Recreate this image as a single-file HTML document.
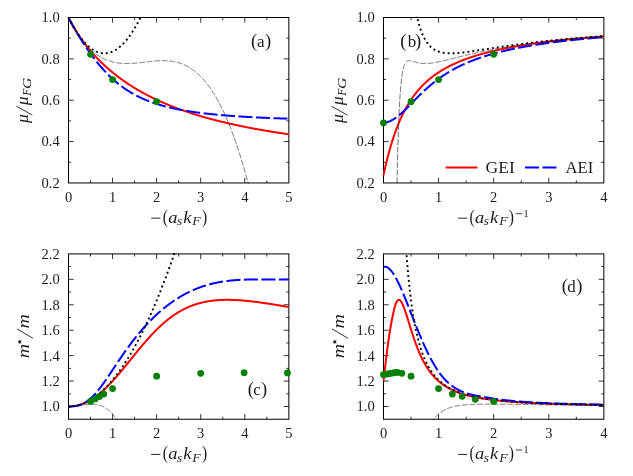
<!DOCTYPE html>
<html><head><meta charset="utf-8"><title>chart</title>
<style>html,body{margin:0;padding:0;background:#fff}svg{display:block;will-change:transform;transform:translateZ(0)}</style></head>
<body>
<svg width="633" height="476" viewBox="0 0 633 476">
<rect width="633" height="476" fill="#fff"/>
<defs>
<clipPath id="cpa"><rect x="67.50" y="16.50" width="222.35" height="167.45"/></clipPath>
<clipPath id="cpb"><rect x="382.50" y="16.50" width="222.35" height="167.45"/></clipPath>
<clipPath id="cpc"><rect x="67.50" y="252.90" width="222.35" height="167.35"/></clipPath>
<clipPath id="cpd"><rect x="382.50" y="252.90" width="222.35" height="167.35"/></clipPath>
</defs>
<rect x="68.50" y="17.50" width="220.35" height="165.45" fill="none" stroke="#000" stroke-width="1"/>
<path d="M90.53 182.95v-2.60 M90.53 17.50v2.60 M112.57 182.95v-5.20 M112.57 17.50v5.20 M134.61 182.95v-2.60 M134.61 17.50v2.60 M156.64 182.95v-5.20 M156.64 17.50v5.20 M178.68 182.95v-2.60 M178.68 17.50v2.60 M200.71 182.95v-5.20 M200.71 17.50v5.20 M222.75 182.95v-2.60 M222.75 17.50v2.60 M244.78 182.95v-5.20 M244.78 17.50v5.20 M266.82 182.95v-2.60 M266.82 17.50v2.60 M68.50 162.27h2.60 M288.85 162.27h-2.60 M68.50 141.59h5.20 M288.85 141.59h-5.20 M68.50 120.91h2.60 M288.85 120.91h-2.60 M68.50 100.22h5.20 M288.85 100.22h-5.20 M68.50 79.54h2.60 M288.85 79.54h-2.60 M68.50 58.86h5.20 M288.85 58.86h-5.20 M68.50 38.18h2.60 M288.85 38.18h-2.60" stroke="#000" stroke-width="0.8" fill="none"/>
<g clip-path="url(#cpa)" fill="none">
<path d="M68.50 17.50 L68.87 18.23 L69.24 18.95 L69.60 19.66 L69.97 20.37 L70.34 21.07 L70.71 21.76 L71.08 22.44 L71.44 23.12 L71.81 23.79 L72.18 24.45 L72.55 25.10 L72.91 25.75 L73.28 26.40 L73.65 27.03 L74.02 27.66 L74.39 28.29 L74.75 28.90 L75.12 29.52 L75.49 30.12 L75.86 30.72 L76.23 31.32 L76.59 31.91 L76.96 32.49 L77.33 33.07 L77.70 33.64 L78.06 34.21 L78.43 34.77 L78.80 35.33 L79.17 35.88 L79.54 36.43 L79.90 36.97 L80.27 37.51 L80.64 38.05 L81.01 38.58 L81.38 39.10 L81.74 39.62 L82.11 40.14 L82.48 40.65 L82.85 41.16 L83.21 41.66 L83.58 42.16 L83.95 42.65 L84.32 43.15 L84.69 43.63 L85.05 44.12 L85.42 44.60 L85.79 45.07 L86.16 45.55 L86.53 46.01 L86.89 46.48 L87.26 46.94 L87.63 47.40 L88.00 47.86 L88.36 48.31 L88.73 48.76 L89.10 49.20 L89.47 49.64 L89.84 50.08 L90.20 50.52 L90.57 50.95 L90.94 51.38 L91.31 51.81 L91.68 52.23 L92.04 52.65 L92.41 53.07 L92.78 53.48 L93.15 53.89 L93.51 54.30 L93.88 54.71 L94.25 55.11 L94.62 55.52 L94.99 55.91 L95.35 56.31 L95.72 56.70 L96.09 57.10 L96.46 57.48 L96.83 57.87 L97.19 58.25 L97.56 58.63 L97.93 59.01 L98.30 59.39 L98.66 59.76 L99.03 60.14 L99.40 60.50 L99.77 60.87 L100.14 61.24 L100.50 61.60 L100.87 61.96 L101.24 62.32 L101.61 62.68 L101.98 63.03 L102.34 63.38 L102.71 63.73 L103.08 64.08 L103.45 64.43 L103.81 64.77 L104.18 65.11 L104.55 65.45 L104.92 65.79 L105.29 66.13 L105.65 66.46 L106.02 66.79 L106.39 67.12 L106.76 67.45 L107.13 67.78 L107.49 68.10 L107.86 68.43 L108.23 68.75 L108.60 69.07 L108.96 69.39 L109.33 69.70 L109.70 70.02 L110.07 70.33 L110.44 70.64 L110.80 70.95 L111.17 71.26 L111.54 71.56 L111.91 71.87 L112.28 72.17 L112.64 72.47 L113.01 72.77 L113.38 73.07 L113.75 73.37 L114.12 73.66 L114.48 73.96 L114.85 74.25 L115.22 74.54 L115.59 74.83 L115.95 75.11 L116.32 75.40 L116.69 75.69 L117.06 75.97 L117.43 76.25 L117.79 76.53 L118.16 76.81 L118.53 77.09 L118.90 77.36 L119.27 77.64 L119.63 77.91 L120.00 78.18 L120.37 78.45 L120.74 78.72 L121.10 78.99 L121.47 79.26 L121.84 79.52 L122.21 79.79 L122.58 80.05 L122.94 80.31 L123.31 80.57 L123.68 80.83 L124.05 81.09 L124.42 81.34 L124.78 81.60 L125.15 81.85 L125.52 82.10 L125.89 82.35 L126.25 82.60 L126.62 82.85 L126.99 83.10 L127.36 83.35 L127.73 83.59 L128.09 83.84 L128.46 84.08 L128.83 84.32 L129.20 84.56 L129.57 84.80 L129.93 85.04 L130.30 85.28 L130.67 85.51 L131.04 85.75 L131.40 85.98 L131.77 86.22 L132.14 86.45 L132.51 86.68 L132.88 86.91 L133.24 87.14 L133.61 87.36 L133.98 87.59 L134.35 87.82 L134.72 88.04 L135.08 88.26 L135.45 88.49 L135.82 88.71 L136.19 88.93 L136.55 89.15 L136.92 89.36 L137.29 89.58 L137.66 89.80 L138.03 90.01 L138.39 90.23 L138.76 90.44 L139.13 90.65 L139.50 90.86 L139.87 91.07 L140.23 91.28 L140.60 91.49 L140.97 91.70 L141.34 91.91 L141.70 92.11 L142.07 92.32 L142.44 92.52 L142.81 92.72 L143.18 92.93 L143.54 93.13 L143.91 93.33 L144.28 93.53 L144.65 93.73 L145.02 93.92 L145.38 94.12 L145.75 94.32 L146.12 94.51 L146.49 94.70 L146.85 94.90 L147.22 95.09 L147.59 95.28 L147.96 95.47 L148.33 95.66 L148.69 95.85 L149.06 96.04 L149.43 96.23 L149.80 96.41 L150.17 96.60 L150.53 96.79 L150.90 96.97 L151.27 97.15 L151.64 97.34 L152.00 97.52 L152.37 97.70 L152.74 97.88 L153.11 98.06 L153.48 98.24 L153.84 98.42 L154.21 98.59 L154.58 98.77 L154.95 98.95 L155.32 99.12 L155.68 99.30 L156.05 99.47 L156.42 99.64 L156.79 99.81 L157.16 99.99 L157.52 100.16 L157.89 100.33 L158.26 100.49 L158.63 100.66 L158.99 100.83 L159.36 101.00 L159.73 101.16 L160.10 101.33 L160.47 101.50 L160.83 101.66 L161.20 101.82 L161.57 101.99 L161.94 102.15 L162.31 102.31 L162.67 102.47 L163.04 102.63 L163.41 102.79 L163.78 102.95 L164.14 103.11 L164.51 103.27 L164.88 103.42 L165.25 103.58 L165.62 103.74 L165.98 103.89 L166.35 104.05 L166.72 104.20 L167.09 104.35 L167.46 104.51 L167.82 104.66 L168.19 104.81 L168.56 104.96 L168.93 105.11 L169.29 105.26 L169.66 105.41 L170.03 105.56 L170.40 105.71 L170.77 105.85 L171.13 106.00 L171.50 106.15 L171.87 106.29 L172.24 106.44 L172.61 106.58 L172.97 106.72 L173.34 106.87 L173.71 107.01 L174.08 107.15 L174.44 107.29 L174.81 107.44 L175.18 107.58 L175.55 107.72 L175.92 107.86 L176.28 107.99 L176.65 108.13 L177.02 108.27 L177.39 108.41 L177.76 108.54 L178.12 108.68 L178.49 108.82 L178.86 108.95 L179.23 109.09 L179.59 109.22 L179.96 109.35 L180.33 109.49 L180.70 109.62 L181.07 109.75 L181.43 109.88 L181.80 110.01 L182.17 110.14 L182.54 110.27 L182.91 110.40 L183.27 110.53 L183.64 110.66 L184.01 110.79 L184.38 110.92 L184.74 111.04 L185.11 111.17 L185.48 111.30 L185.85 111.42 L186.22 111.55 L186.58 111.67 L186.95 111.80 L187.32 111.92 L187.69 112.04 L188.06 112.17 L188.42 112.29 L188.79 112.41 L189.16 112.53 L189.53 112.65 L189.89 112.77 L190.26 112.89 L190.63 113.01 L191.00 113.13 L191.37 113.25 L191.73 113.37 L192.10 113.49 L192.47 113.61 L192.84 113.72 L193.21 113.84 L193.57 113.96 L193.94 114.07 L194.31 114.19 L194.68 114.30 L195.04 114.42 L195.41 114.53 L195.78 114.65 L196.15 114.76 L196.52 114.87 L196.88 114.99 L197.25 115.10 L197.62 115.21 L197.99 115.32 L198.36 115.43 L198.72 115.54 L199.09 115.65 L199.46 115.76 L199.83 115.87 L200.19 115.98 L200.56 116.09 L200.93 116.20 L201.30 116.31 L201.67 116.41 L202.03 116.52 L202.40 116.63 L202.77 116.73 L203.14 116.84 L203.51 116.95 L203.87 117.05 L204.24 117.16 L204.61 117.26 L204.98 117.36 L205.35 117.47 L205.71 117.57 L206.08 117.67 L206.45 117.78 L206.82 117.88 L207.18 117.98 L207.55 118.08 L207.92 118.19 L208.29 118.29 L208.66 118.39 L209.02 118.49 L209.39 118.59 L209.76 118.69 L210.13 118.79 L210.50 118.88 L210.86 118.98 L211.23 119.08 L211.60 119.18 L211.97 119.28 L212.33 119.37 L212.70 119.47 L213.07 119.57 L213.44 119.66 L213.81 119.76 L214.17 119.86 L214.54 119.95 L214.91 120.05 L215.28 120.14 L215.65 120.24 L216.01 120.33 L216.38 120.42 L216.75 120.52 L217.12 120.61 L217.48 120.70 L217.85 120.80 L218.22 120.89 L218.59 120.98 L218.96 121.07 L219.32 121.16 L219.69 121.25 L220.06 121.35 L220.43 121.44 L220.80 121.53 L221.16 121.62 L221.53 121.71 L221.90 121.79 L222.27 121.88 L222.63 121.97 L223.00 122.06 L223.37 122.15 L223.74 122.24 L224.11 122.32 L224.47 122.41 L224.84 122.50 L225.21 122.59 L225.58 122.67 L225.95 122.76 L226.31 122.84 L226.68 122.93 L227.05 123.02 L227.42 123.10 L227.78 123.18 L228.15 123.27 L228.52 123.35 L228.89 123.44 L229.26 123.52 L229.62 123.61 L229.99 123.69 L230.36 123.77 L230.73 123.85 L231.10 123.94 L231.46 124.02 L231.83 124.10 L232.20 124.18 L232.57 124.26 L232.93 124.34 L233.30 124.43 L233.67 124.51 L234.04 124.59 L234.41 124.67 L234.77 124.75 L235.14 124.83 L235.51 124.91 L235.88 124.99 L236.25 125.06 L236.61 125.14 L236.98 125.22 L237.35 125.30 L237.72 125.38 L238.08 125.46 L238.45 125.53 L238.82 125.61 L239.19 125.69 L239.56 125.76 L239.92 125.84 L240.29 125.92 L240.66 125.99 L241.03 126.07 L241.40 126.14 L241.76 126.22 L242.13 126.30 L242.50 126.37 L242.87 126.45 L243.23 126.52 L243.60 126.59 L243.97 126.67 L244.34 126.74 L244.71 126.82 L245.07 126.89 L245.44 126.96 L245.81 127.04 L246.18 127.11 L246.55 127.18 L246.91 127.25 L247.28 127.33 L247.65 127.40 L248.02 127.47 L248.39 127.54 L248.75 127.61 L249.12 127.68 L249.49 127.75 L249.86 127.82 L250.22 127.89 L250.59 127.97 L250.96 128.04 L251.33 128.11 L251.70 128.17 L252.06 128.24 L252.43 128.31 L252.80 128.38 L253.17 128.45 L253.54 128.52 L253.90 128.59 L254.27 128.66 L254.64 128.72 L255.01 128.79 L255.37 128.86 L255.74 128.93 L256.11 129.00 L256.48 129.06 L256.85 129.13 L257.21 129.20 L257.58 129.26 L257.95 129.33 L258.32 129.39 L258.69 129.46 L259.05 129.53 L259.42 129.59 L259.79 129.66 L260.16 129.72 L260.52 129.79 L260.89 129.85 L261.26 129.92 L261.63 129.98 L262.00 130.05 L262.36 130.11 L262.73 130.17 L263.10 130.24 L263.47 130.30 L263.84 130.37 L264.20 130.43 L264.57 130.49 L264.94 130.55 L265.31 130.62 L265.67 130.68 L266.04 130.74 L266.41 130.80 L266.78 130.87 L267.15 130.93 L267.51 130.99 L267.88 131.05 L268.25 131.11 L268.62 131.17 L268.99 131.24 L269.35 131.30 L269.72 131.36 L270.09 131.42 L270.46 131.48 L270.82 131.54 L271.19 131.60 L271.56 131.66 L271.93 131.72 L272.30 131.78 L272.66 131.84 L273.03 131.90 L273.40 131.95 L273.77 132.01 L274.14 132.07 L274.50 132.13 L274.87 132.19 L275.24 132.25 L275.61 132.31 L275.97 132.36 L276.34 132.42 L276.71 132.48 L277.08 132.54 L277.45 132.59 L277.81 132.65 L278.18 132.71 L278.55 132.77 L278.92 132.82 L279.29 132.88 L279.65 132.94 L280.02 132.99 L280.39 133.05 L280.76 133.10 L281.12 133.16 L281.49 133.22 L281.86 133.27 L282.23 133.33 L282.60 133.38 L282.96 133.44 L283.33 133.49 L283.70 133.55 L284.07 133.60 L284.44 133.66 L284.80 133.71 L285.17 133.77 L285.54 133.82 L285.91 133.87 L286.27 133.93 L286.64 133.98 L287.01 134.03 L287.38 134.09 L287.75 134.14 L288.11 134.19 L288.48 134.25 L288.85 134.30" stroke="#ff0000" stroke-width="2"/>
<path d="M68.50 17.50 L68.87 18.23 L69.24 18.95 L69.60 19.67 L69.97 20.38 L70.34 21.08 L70.71 21.78 L71.08 22.47 L71.44 23.16 L71.81 23.84 L72.18 24.51 L72.55 25.18 L72.91 25.85 L73.28 26.51 L73.65 27.17 L74.02 27.82 L74.39 28.47 L74.75 29.11 L75.12 29.75 L75.49 30.39 L75.86 31.02 L76.23 31.65 L76.59 32.27 L76.96 32.89 L77.33 33.51 L77.70 34.12 L78.06 34.73 L78.43 35.34 L78.80 35.94 L79.17 36.54 L79.54 37.14 L79.90 37.73 L80.27 38.32 L80.64 38.91 L81.01 39.49 L81.38 40.08 L81.74 40.65 L82.11 41.23 L82.48 41.80 L82.85 42.37 L83.21 42.94 L83.58 43.50 L83.95 44.06 L84.32 44.62 L84.69 45.17 L85.05 45.72 L85.42 46.27 L85.79 46.82 L86.16 47.36 L86.53 47.90 L86.89 48.44 L87.26 48.98 L87.63 49.51 L88.00 50.04 L88.36 50.56 L88.73 51.09 L89.10 51.61 L89.47 52.13 L89.84 52.64 L90.20 53.15 L90.57 53.66 L90.94 54.17 L91.31 54.67 L91.68 55.17 L92.04 55.67 L92.41 56.17 L92.78 56.66 L93.15 57.15 L93.51 57.64 L93.88 58.12 L94.25 58.60 L94.62 59.08 L94.99 59.55 L95.35 60.02 L95.72 60.49 L96.09 60.96 L96.46 61.42 L96.83 61.88 L97.19 62.34 L97.56 62.80 L97.93 63.25 L98.30 63.70 L98.66 64.14 L99.03 64.58 L99.40 65.02 L99.77 65.46 L100.14 65.90 L100.50 66.33 L100.87 66.75 L101.24 67.18 L101.61 67.60 L101.98 68.02 L102.34 68.44 L102.71 68.85 L103.08 69.26 L103.45 69.67 L103.81 70.07 L104.18 70.48 L104.55 70.87 L104.92 71.27 L105.29 71.66 L105.65 72.05 L106.02 72.44 L106.39 72.82 L106.76 73.21 L107.13 73.58 L107.49 73.96 L107.86 74.33 L108.23 74.70 L108.60 75.07 L108.96 75.43 L109.33 75.80 L109.70 76.15 L110.07 76.51 L110.44 76.86 L110.80 77.21 L111.17 77.56 L111.54 77.91 L111.91 78.25 L112.28 78.59 L112.64 78.92 L113.01 79.26 L113.38 79.59 L113.75 79.92 L114.12 80.24 L114.48 80.56 L114.85 80.89 L115.22 81.20 L115.59 81.52 L115.95 81.83 L116.32 82.14 L116.69 82.45 L117.06 82.75 L117.43 83.05 L117.79 83.35 L118.16 83.65 L118.53 83.95 L118.90 84.24 L119.27 84.53 L119.63 84.81 L120.00 85.10 L120.37 85.38 L120.74 85.66 L121.10 85.94 L121.47 86.21 L121.84 86.49 L122.21 86.76 L122.58 87.02 L122.94 87.29 L123.31 87.55 L123.68 87.81 L124.05 88.07 L124.42 88.33 L124.78 88.58 L125.15 88.84 L125.52 89.09 L125.89 89.33 L126.25 89.58 L126.62 89.82 L126.99 90.06 L127.36 90.30 L127.73 90.54 L128.09 90.77 L128.46 91.01 L128.83 91.24 L129.20 91.47 L129.57 91.69 L129.93 91.92 L130.30 92.14 L130.67 92.36 L131.04 92.58 L131.40 92.80 L131.77 93.01 L132.14 93.23 L132.51 93.44 L132.88 93.65 L133.24 93.85 L133.61 94.06 L133.98 94.26 L134.35 94.47 L134.72 94.67 L135.08 94.86 L135.45 95.06 L135.82 95.26 L136.19 95.45 L136.55 95.64 L136.92 95.83 L137.29 96.02 L137.66 96.20 L138.03 96.39 L138.39 96.57 L138.76 96.75 L139.13 96.93 L139.50 97.11 L139.87 97.29 L140.23 97.46 L140.60 97.64 L140.97 97.81 L141.34 97.98 L141.70 98.15 L142.07 98.32 L142.44 98.48 L142.81 98.65 L143.18 98.81 L143.54 98.97 L143.91 99.13 L144.28 99.29 L144.65 99.45 L145.02 99.60 L145.38 99.76 L145.75 99.91 L146.12 100.06 L146.49 100.21 L146.85 100.36 L147.22 100.51 L147.59 100.66 L147.96 100.80 L148.33 100.95 L148.69 101.09 L149.06 101.23 L149.43 101.37 L149.80 101.51 L150.17 101.65 L150.53 101.78 L150.90 101.92 L151.27 102.05 L151.64 102.19 L152.00 102.32 L152.37 102.45 L152.74 102.58 L153.11 102.71 L153.48 102.84 L153.84 102.96 L154.21 103.09 L154.58 103.21 L154.95 103.34 L155.32 103.46 L155.68 103.58 L156.05 103.70 L156.42 103.82 L156.79 103.94 L157.16 104.05 L157.52 104.17 L157.89 104.28 L158.26 104.40 L158.63 104.51 L158.99 104.62 L159.36 104.74 L159.73 104.85 L160.10 104.95 L160.47 105.06 L160.83 105.17 L161.20 105.28 L161.57 105.38 L161.94 105.49 L162.31 105.59 L162.67 105.69 L163.04 105.80 L163.41 105.90 L163.78 106.00 L164.14 106.10 L164.51 106.20 L164.88 106.30 L165.25 106.39 L165.62 106.49 L165.98 106.58 L166.35 106.68 L166.72 106.77 L167.09 106.87 L167.46 106.96 L167.82 107.05 L168.19 107.14 L168.56 107.23 L168.93 107.32 L169.29 107.41 L169.66 107.50 L170.03 107.59 L170.40 107.67 L170.77 107.76 L171.13 107.84 L171.50 107.93 L171.87 108.01 L172.24 108.10 L172.61 108.18 L172.97 108.26 L173.34 108.34 L173.71 108.42 L174.08 108.50 L174.44 108.58 L174.81 108.66 L175.18 108.74 L175.55 108.82 L175.92 108.89 L176.28 108.97 L176.65 109.04 L177.02 109.12 L177.39 109.19 L177.76 109.27 L178.12 109.34 L178.49 109.41 L178.86 109.49 L179.23 109.56 L179.59 109.63 L179.96 109.70 L180.33 109.77 L180.70 109.84 L181.07 109.91 L181.43 109.98 L181.80 110.04 L182.17 110.11 L182.54 110.18 L182.91 110.24 L183.27 110.31 L183.64 110.37 L184.01 110.44 L184.38 110.50 L184.74 110.57 L185.11 110.63 L185.48 110.69 L185.85 110.76 L186.22 110.82 L186.58 110.88 L186.95 110.94 L187.32 111.00 L187.69 111.06 L188.06 111.12 L188.42 111.18 L188.79 111.24 L189.16 111.30 L189.53 111.35 L189.89 111.41 L190.26 111.47 L190.63 111.53 L191.00 111.58 L191.37 111.64 L191.73 111.69 L192.10 111.75 L192.47 111.80 L192.84 111.86 L193.21 111.91 L193.57 111.96 L193.94 112.02 L194.31 112.07 L194.68 112.12 L195.04 112.17 L195.41 112.22 L195.78 112.28 L196.15 112.33 L196.52 112.38 L196.88 112.43 L197.25 112.48 L197.62 112.53 L197.99 112.57 L198.36 112.62 L198.72 112.67 L199.09 112.72 L199.46 112.77 L199.83 112.81 L200.19 112.86 L200.56 112.91 L200.93 112.95 L201.30 113.00 L201.67 113.05 L202.03 113.09 L202.40 113.14 L202.77 113.18 L203.14 113.22 L203.51 113.27 L203.87 113.31 L204.24 113.36 L204.61 113.40 L204.98 113.44 L205.35 113.48 L205.71 113.53 L206.08 113.57 L206.45 113.61 L206.82 113.65 L207.18 113.69 L207.55 113.73 L207.92 113.77 L208.29 113.81 L208.66 113.85 L209.02 113.89 L209.39 113.93 L209.76 113.97 L210.13 114.01 L210.50 114.05 L210.86 114.09 L211.23 114.13 L211.60 114.17 L211.97 114.20 L212.33 114.24 L212.70 114.28 L213.07 114.31 L213.44 114.35 L213.81 114.39 L214.17 114.42 L214.54 114.46 L214.91 114.50 L215.28 114.53 L215.65 114.57 L216.01 114.60 L216.38 114.64 L216.75 114.67 L217.12 114.71 L217.48 114.74 L217.85 114.77 L218.22 114.81 L218.59 114.84 L218.96 114.87 L219.32 114.91 L219.69 114.94 L220.06 114.97 L220.43 115.00 L220.80 115.04 L221.16 115.07 L221.53 115.10 L221.90 115.13 L222.27 115.16 L222.63 115.20 L223.00 115.23 L223.37 115.26 L223.74 115.29 L224.11 115.32 L224.47 115.35 L224.84 115.38 L225.21 115.41 L225.58 115.44 L225.95 115.47 L226.31 115.50 L226.68 115.53 L227.05 115.56 L227.42 115.58 L227.78 115.61 L228.15 115.64 L228.52 115.67 L228.89 115.70 L229.26 115.73 L229.62 115.75 L229.99 115.78 L230.36 115.81 L230.73 115.84 L231.10 115.86 L231.46 115.89 L231.83 115.92 L232.20 115.94 L232.57 115.97 L232.93 116.00 L233.30 116.02 L233.67 116.05 L234.04 116.07 L234.41 116.10 L234.77 116.12 L235.14 116.15 L235.51 116.18 L235.88 116.20 L236.25 116.23 L236.61 116.25 L236.98 116.27 L237.35 116.30 L237.72 116.32 L238.08 116.35 L238.45 116.37 L238.82 116.40 L239.19 116.42 L239.56 116.44 L239.92 116.47 L240.29 116.49 L240.66 116.51 L241.03 116.54 L241.40 116.56 L241.76 116.58 L242.13 116.61 L242.50 116.63 L242.87 116.65 L243.23 116.67 L243.60 116.69 L243.97 116.72 L244.34 116.74 L244.71 116.76 L245.07 116.78 L245.44 116.80 L245.81 116.83 L246.18 116.85 L246.55 116.87 L246.91 116.89 L247.28 116.91 L247.65 116.93 L248.02 116.95 L248.39 116.97 L248.75 116.99 L249.12 117.01 L249.49 117.03 L249.86 117.05 L250.22 117.07 L250.59 117.09 L250.96 117.11 L251.33 117.13 L251.70 117.15 L252.06 117.17 L252.43 117.19 L252.80 117.21 L253.17 117.23 L253.54 117.25 L253.90 117.27 L254.27 117.29 L254.64 117.31 L255.01 117.33 L255.37 117.34 L255.74 117.36 L256.11 117.38 L256.48 117.40 L256.85 117.42 L257.21 117.44 L257.58 117.45 L257.95 117.47 L258.32 117.49 L258.69 117.51 L259.05 117.52 L259.42 117.54 L259.79 117.56 L260.16 117.58 L260.52 117.59 L260.89 117.61 L261.26 117.63 L261.63 117.65 L262.00 117.66 L262.36 117.68 L262.73 117.70 L263.10 117.71 L263.47 117.73 L263.84 117.75 L264.20 117.76 L264.57 117.78 L264.94 117.79 L265.31 117.81 L265.67 117.83 L266.04 117.84 L266.41 117.86 L266.78 117.87 L267.15 117.89 L267.51 117.91 L267.88 117.92 L268.25 117.94 L268.62 117.95 L268.99 117.97 L269.35 117.98 L269.72 118.00 L270.09 118.01 L270.46 118.03 L270.82 118.04 L271.19 118.06 L271.56 118.07 L271.93 118.09 L272.30 118.10 L272.66 118.12 L273.03 118.13 L273.40 118.15 L273.77 118.16 L274.14 118.17 L274.50 118.19 L274.87 118.20 L275.24 118.22 L275.61 118.23 L275.97 118.24 L276.34 118.26 L276.71 118.27 L277.08 118.29 L277.45 118.30 L277.81 118.31 L278.18 118.33 L278.55 118.34 L278.92 118.35 L279.29 118.37 L279.65 118.38 L280.02 118.39 L280.39 118.41 L280.76 118.42 L281.12 118.43 L281.49 118.45 L281.86 118.46 L282.23 118.47 L282.60 118.48 L282.96 118.50 L283.33 118.51 L283.70 118.52 L284.07 118.54 L284.44 118.55 L284.80 118.56 L285.17 118.57 L285.54 118.58 L285.91 118.60 L286.27 118.61 L286.64 118.62 L287.01 118.63 L287.38 118.65 L287.75 118.66 L288.11 118.67 L288.48 118.68 L288.85 118.69" stroke="#0000ff" stroke-width="2" stroke-dasharray="14 3.5"/>
<path d="M68.50 17.50 L68.87 18.23 L69.24 18.95 L69.60 19.66 L69.97 20.37 L70.34 21.07 L70.71 21.76 L71.08 22.45 L71.44 23.12 L71.81 23.79 L72.18 24.45 L72.55 25.11 L72.91 25.75 L73.28 26.39 L73.65 27.02 L74.02 27.65 L74.39 28.26 L74.75 28.87 L75.12 29.48 L75.49 30.07 L75.86 30.66 L76.23 31.24 L76.59 31.81 L76.96 32.37 L77.33 32.93 L77.70 33.48 L78.06 34.02 L78.43 34.55 L78.80 35.08 L79.17 35.60 L79.54 36.11 L79.90 36.62 L80.27 37.11 L80.64 37.60 L81.01 38.08 L81.38 38.56 L81.74 39.03 L82.11 39.48 L82.48 39.94 L82.85 40.38 L83.21 40.82 L83.58 41.25 L83.95 41.67 L84.32 42.08 L84.69 42.49 L85.05 42.89 L85.42 43.28 L85.79 43.67 L86.16 44.04 L86.53 44.41 L86.89 44.78 L87.26 45.13 L87.63 45.48 L88.00 45.82 L88.36 46.15 L88.73 46.47 L89.10 46.79 L89.47 47.10 L89.84 47.40 L90.20 47.70 L90.57 47.99 L90.94 48.26 L91.31 48.54 L91.68 48.80 L92.04 49.06 L92.41 49.31 L92.78 49.55 L93.15 49.79 L93.51 50.01 L93.88 50.23 L94.25 50.45 L94.62 50.65 L94.99 50.85 L95.35 51.04 L95.72 51.22 L96.09 51.40 L96.46 51.56 L96.83 51.72 L97.19 51.88 L97.56 52.02 L97.93 52.16 L98.30 52.29 L98.66 52.41 L99.03 52.53 L99.40 52.63 L99.77 52.73 L100.14 52.83 L100.50 52.91 L100.87 52.99 L101.24 53.06 L101.61 53.12 L101.98 53.18 L102.34 53.22 L102.71 53.26 L103.08 53.30 L103.45 53.32 L103.81 53.34 L104.18 53.35 L104.55 53.35 L104.92 53.35 L105.29 53.34 L105.65 53.32 L106.02 53.29 L106.39 53.26 L106.76 53.21 L107.13 53.16 L107.49 53.11 L107.86 53.04 L108.23 52.97 L108.60 52.89 L108.96 52.80 L109.33 52.71 L109.70 52.61 L110.07 52.50 L110.44 52.38 L110.80 52.26 L111.17 52.12 L111.54 51.98 L111.91 51.84 L112.28 51.68 L112.64 51.52 L113.01 51.35 L113.38 51.17 L113.75 50.99 L114.12 50.80 L114.48 50.60 L114.85 50.39 L115.22 50.18 L115.59 49.96 L115.95 49.73 L116.32 49.49 L116.69 49.25 L117.06 48.99 L117.43 48.73 L117.79 48.47 L118.16 48.19 L118.53 47.91 L118.90 47.62 L119.27 47.33 L119.63 47.02 L120.00 46.71 L120.37 46.39 L120.74 46.06 L121.10 45.73 L121.47 45.39 L121.84 45.04 L122.21 44.68 L122.58 44.32 L122.94 43.95 L123.31 43.57 L123.68 43.18 L124.05 42.79 L124.42 42.39 L124.78 41.98 L125.15 41.56 L125.52 41.14 L125.89 40.71 L126.25 40.27 L126.62 39.82 L126.99 39.37 L127.36 38.91 L127.73 38.44 L128.09 37.96 L128.46 37.48 L128.83 36.99 L129.20 36.49 L129.57 35.98 L129.93 35.47 L130.30 34.95 L130.67 34.42 L131.04 33.88 L131.40 33.34 L131.77 32.79 L132.14 32.23 L132.51 31.66 L132.88 31.09 L133.24 30.51 L133.61 29.92 L133.98 29.32 L134.35 28.72 L134.72 28.11 L135.08 27.49 L135.45 26.86 L135.82 26.23 L136.19 25.59 L136.55 24.94 L136.92 24.28 L137.29 23.62 L137.66 22.95 L138.03 22.27 L138.39 21.58 L138.76 20.89 L139.13 20.19 L139.50 19.48 L139.87 18.77 L140.23 18.04 L140.60 17.31 L140.97 16.57 L141.34 15.83 L141.70 15.07 L142.07 14.31 L142.44 13.55 L142.81 12.77 L143.18 11.99 L143.54 11.20 L143.91 10.40 L144.28 9.59 L144.65 8.78 L145.02 7.96 L145.38 7.13 L145.75 6.29 L146.12 5.45 L146.49 4.60 L146.85 3.74 L147.22 2.88 L147.59 2.00 L147.96 1.12 L148.33 0.23 L148.69 -0.66 L149.06 -1.56 L149.43 -2.47 L149.80 -3.39 L150.17 -4.32 L150.53 -5.25 L150.90 -6.19 L151.27 -7.14 L151.64 -8.09 L152.00 -9.06 L152.37 -10.03 L152.74 -11.01 L153.11 -11.99 L153.48 -12.98 L153.84 -13.98 L154.21 -14.99 L154.58 -16.01 L154.95 -17.03 L155.32 -18.06 L155.68 -19.10 L156.05 -20.14 L156.42 -21.20 L156.79 -22.26 L157.16 -23.32 L157.52 -24.40 L157.89 -25.48 L158.26 -26.57 L158.63 -27.67 L158.99 -28.78 L159.36 -29.89 L159.73 -31.01" stroke="#000" stroke-width="1.9" stroke-dasharray="1.9 3.05"/>
<path d="M68.50 17.50 L68.78 18.05 L69.05 18.59 L69.33 19.13 L69.60 19.66 L69.88 20.19 L70.15 20.72 L70.43 21.24 L70.71 21.76 L70.98 22.27 L71.26 22.78 L71.53 23.29 L71.81 23.79 L72.09 24.29 L72.36 24.78 L72.64 25.27 L72.91 25.76 L73.19 26.24 L73.46 26.72 L73.74 27.19 L74.02 27.66 L74.29 28.13 L74.57 28.59 L74.84 29.05 L75.12 29.51 L75.39 29.96 L75.67 30.40 L75.95 30.85 L76.22 31.29 L76.50 31.72 L76.77 32.15 L77.05 32.58 L77.33 33.01 L77.60 33.43 L77.88 33.84 L78.15 34.26 L78.43 34.67 L78.70 35.07 L78.98 35.47 L79.26 35.87 L79.53 36.27 L79.81 36.66 L80.08 37.05 L80.36 37.43 L80.63 37.81 L80.91 38.19 L81.19 38.56 L81.46 38.93 L81.74 39.30 L82.01 39.66 L82.29 40.02 L82.56 40.38 L82.84 40.73 L83.12 41.08 L83.39 41.43 L83.67 41.77 L83.94 42.11 L84.22 42.44 L84.50 42.78 L84.77 43.10 L85.05 43.43 L85.32 43.75 L85.60 44.07 L85.87 44.39 L86.15 44.70 L86.43 45.01 L86.70 45.32 L86.98 45.62 L87.25 45.92 L87.53 46.22 L87.80 46.51 L88.08 46.80 L88.36 47.09 L88.63 47.37 L88.91 47.65 L89.18 47.93 L89.46 48.21 L89.74 48.48 L90.01 48.75 L90.29 49.01 L90.56 49.28 L90.84 49.54 L91.11 49.79 L91.39 50.05 L91.67 50.30 L91.94 50.55 L92.22 50.79 L92.49 51.03 L92.77 51.27 L93.04 51.51 L93.32 51.74 L93.60 51.97 L93.87 52.20 L94.15 52.43 L94.42 52.65 L94.70 52.87 L94.98 53.08 L95.25 53.30 L95.53 53.51 L95.80 53.72 L96.08 53.92 L96.35 54.13 L96.63 54.33 L96.91 54.53 L97.18 54.72 L97.46 54.91 L97.73 55.10 L98.01 55.29 L98.28 55.48 L98.56 55.66 L98.84 55.84 L99.11 56.02 L99.39 56.19 L99.66 56.36 L99.94 56.53 L100.21 56.70 L100.49 56.86 L100.77 57.03 L101.04 57.19 L101.32 57.34 L101.59 57.50 L101.87 57.65 L102.15 57.80 L102.42 57.95 L102.70 58.09 L102.97 58.24 L103.25 58.38 L103.52 58.52 L103.80 58.65 L104.08 58.79 L104.35 58.92 L104.63 59.05 L104.90 59.18 L105.18 59.30 L105.45 59.43 L105.73 59.55 L106.01 59.67 L106.28 59.78 L106.56 59.90 L106.83 60.01 L107.11 60.12 L107.39 60.23 L107.66 60.33 L107.94 60.44 L108.21 60.54 L108.49 60.64 L108.76 60.74 L109.04 60.83 L109.32 60.93 L109.59 61.02 L109.87 61.11 L110.14 61.20 L110.42 61.28 L110.69 61.37 L110.97 61.45 L111.25 61.53 L111.52 61.61 L111.80 61.69 L112.07 61.76 L112.35 61.84 L112.63 61.91 L112.90 61.98 L113.18 62.05 L113.45 62.11 L113.73 62.18 L114.00 62.24 L114.28 62.30 L114.56 62.36 L114.83 62.42 L115.11 62.47 L115.38 62.53 L115.66 62.58 L115.93 62.63 L116.21 62.68 L116.49 62.73 L116.76 62.78 L117.04 62.82 L117.31 62.87 L117.59 62.91 L117.87 62.95 L118.14 62.99 L118.42 63.03 L118.69 63.06 L118.97 63.10 L119.24 63.13 L119.52 63.16 L119.80 63.19 L120.07 63.22 L120.35 63.25 L120.62 63.27 L120.90 63.30 L121.17 63.32 L121.45 63.35 L121.73 63.37 L122.00 63.39 L122.28 63.41 L122.55 63.42 L122.83 63.44 L123.10 63.45 L123.38 63.47 L123.66 63.48 L123.93 63.49 L124.21 63.50 L124.48 63.51 L124.76 63.52 L125.04 63.52 L125.31 63.53 L125.59 63.53 L125.86 63.54 L126.14 63.54 L126.41 63.54 L126.69 63.54 L126.97 63.54 L127.24 63.54 L127.52 63.54 L127.79 63.53 L128.07 63.53 L128.34 63.53 L128.62 63.52 L128.90 63.51 L129.17 63.50 L129.45 63.50 L129.72 63.49 L130.00 63.48 L130.28 63.46 L130.55 63.45 L130.83 63.44 L131.10 63.42 L131.38 63.41 L131.65 63.40 L131.93 63.38 L132.21 63.36 L132.48 63.35 L132.76 63.33 L133.03 63.31 L133.31 63.29 L133.58 63.27 L133.86 63.25 L134.14 63.23 L134.41 63.21 L134.69 63.18 L134.96 63.16 L135.24 63.14 L135.52 63.11 L135.79 63.09 L136.07 63.06 L136.34 63.04 L136.62 63.01 L136.89 62.99 L137.17 62.96 L137.45 62.93 L137.72 62.90 L138.00 62.88 L138.27 62.85 L138.55 62.82 L138.82 62.79 L139.10 62.76 L139.38 62.73 L139.65 62.70 L139.93 62.67 L140.20 62.64 L140.48 62.61 L140.75 62.58 L141.03 62.55 L141.31 62.52 L141.58 62.48 L141.86 62.45 L142.13 62.42 L142.41 62.39 L142.69 62.36 L142.96 62.32 L143.24 62.29 L143.51 62.26 L143.79 62.22 L144.06 62.19 L144.34 62.16 L144.62 62.13 L144.89 62.09 L145.17 62.06 L145.44 62.03 L145.72 61.99 L145.99 61.96 L146.27 61.93 L146.55 61.90 L146.82 61.86 L147.10 61.83 L147.37 61.80 L147.65 61.77 L147.93 61.74 L148.20 61.70 L148.48 61.67 L148.75 61.64 L149.03 61.61 L149.30 61.58 L149.58 61.55 L149.86 61.52 L150.13 61.49 L150.41 61.46 L150.68 61.43 L150.96 61.40 L151.23 61.37 L151.51 61.34 L151.79 61.31 L152.06 61.29 L152.34 61.26 L152.61 61.23 L152.89 61.20 L153.17 61.18 L153.44 61.15 L153.72 61.13 L153.99 61.10 L154.27 61.08 L154.54 61.05 L154.82 61.03 L155.10 61.01 L155.37 60.99 L155.65 60.97 L155.92 60.94 L156.20 60.92 L156.47 60.90 L156.75 60.89 L157.03 60.87 L157.30 60.85 L157.58 60.83 L157.85 60.82 L158.13 60.80 L158.41 60.79 L158.68 60.77 L158.96 60.76 L159.23 60.75 L159.51 60.74 L159.78 60.72 L160.06 60.71 L160.34 60.71 L160.61 60.70 L160.89 60.69 L161.16 60.68 L161.44 60.68 L161.71 60.67 L161.99 60.67 L162.27 60.67 L162.54 60.66 L162.82 60.66 L163.09 60.66 L163.37 60.66 L163.64 60.67 L163.92 60.67 L164.20 60.67 L164.47 60.68 L164.75 60.68 L165.02 60.69 L165.30 60.70 L165.58 60.71 L165.85 60.72 L166.13 60.73 L166.40 60.75 L166.68 60.76 L166.95 60.78 L167.23 60.79 L167.51 60.81 L167.78 60.83 L168.06 60.85 L168.33 60.87 L168.61 60.90 L168.88 60.92 L169.16 60.95 L169.44 60.97 L169.71 61.00 L169.99 61.03 L170.26 61.06 L170.54 61.09 L170.82 61.13 L171.09 61.16 L171.37 61.20 L171.64 61.24 L171.92 61.28 L172.19 61.32 L172.47 61.36 L172.75 61.41 L173.02 61.45 L173.30 61.50 L173.57 61.55 L173.85 61.60 L174.12 61.65 L174.40 61.71 L174.68 61.76 L174.95 61.82 L175.23 61.88 L175.50 61.94 L175.78 62.00 L176.06 62.06 L176.33 62.13 L176.61 62.20 L176.88 62.27 L177.16 62.34 L177.43 62.41 L177.71 62.48 L177.99 62.56 L178.26 62.64 L178.54 62.72 L178.81 62.80 L179.09 62.88 L179.36 62.97 L179.64 63.06 L179.92 63.15 L180.19 63.24 L180.47 63.33 L180.74 63.42 L181.02 63.52 L181.29 63.62 L181.57 63.72 L181.85 63.83 L182.12 63.93 L182.40 64.04 L182.67 64.15 L182.95 64.26 L183.23 64.37 L183.50 64.49 L183.78 64.61 L184.05 64.73 L184.33 64.85 L184.60 64.97 L184.88 65.10 L185.16 65.23 L185.43 65.36 L185.71 65.49 L185.98 65.63 L186.26 65.76 L186.53 65.90 L186.81 66.05 L187.09 66.19 L187.36 66.34 L187.64 66.49 L187.91 66.64 L188.19 66.79 L188.47 66.95 L188.74 67.11 L189.02 67.27 L189.29 67.43 L189.57 67.60 L189.84 67.77 L190.12 67.94 L190.40 68.11 L190.67 68.29 L190.95 68.47 L191.22 68.65 L191.50 68.83 L191.77 69.02 L192.05 69.21 L192.33 69.40 L192.60 69.59 L192.88 69.79 L193.15 69.99 L193.43 70.19 L193.71 70.40 L193.98 70.60 L194.26 70.81 L194.53 71.03 L194.81 71.24 L195.08 71.46 L195.36 71.68 L195.64 71.91 L195.91 72.13 L196.19 72.36 L196.46 72.59 L196.74 72.83 L197.01 73.07 L197.29 73.31 L197.57 73.55 L197.84 73.80 L198.12 74.05 L198.39 74.30 L198.67 74.56 L198.94 74.81 L199.22 75.08 L199.50 75.34 L199.77 75.61 L200.05 75.88 L200.32 76.15 L200.60 76.43 L200.88 76.71 L201.15 76.99 L201.43 77.28 L201.70 77.57 L201.98 77.86 L202.25 78.15 L202.53 78.45 L202.81 78.75 L203.08 79.06 L203.36 79.37 L203.63 79.68 L203.91 79.99 L204.18 80.31 L204.46 80.63 L204.74 80.96 L205.01 81.28 L205.29 81.62 L205.56 81.95 L205.84 82.29 L206.12 82.63 L206.39 82.97 L206.67 83.32 L206.94 83.67 L207.22 84.03 L207.49 84.38 L207.77 84.75 L208.05 85.11 L208.32 85.48 L208.60 85.85 L208.87 86.23 L209.15 86.61 L209.42 86.99 L209.70 87.38 L209.98 87.77 L210.25 88.16 L210.53 88.56 L210.80 88.96 L211.08 89.36 L211.36 89.77 L211.63 90.18 L211.91 90.60 L212.18 91.01 L212.46 91.44 L212.73 91.86 L213.01 92.29 L213.29 92.73 L213.56 93.16 L213.84 93.61 L214.11 94.05 L214.39 94.50 L214.66 94.95 L214.94 95.41 L215.22 95.87 L215.49 96.34 L215.77 96.80 L216.04 97.28 L216.32 97.75 L216.60 98.23 L216.87 98.72 L217.15 99.20 L217.42 99.70 L217.70 100.19 L217.97 100.69 L218.25 101.20 L218.53 101.71 L218.80 102.22 L219.08 102.73 L219.35 103.25 L219.63 103.78 L219.90 104.31 L220.18 104.84 L220.46 105.38 L220.73 105.92 L221.01 106.46 L221.28 107.01 L221.56 107.57 L221.83 108.12 L222.11 108.69 L222.39 109.25 L222.66 109.82 L222.94 110.40 L223.21 110.98 L223.49 111.56 L223.77 112.15 L224.04 112.74 L224.32 113.34 L224.59 113.94 L224.87 114.55 L225.14 115.16 L225.42 115.77 L225.70 116.39 L225.97 117.01 L226.25 117.64 L226.52 118.27 L226.80 118.91 L227.07 119.55 L227.35 120.20 L227.63 120.85 L227.90 121.50 L228.18 122.16 L228.45 122.82 L228.73 123.49 L229.01 124.17 L229.28 124.84 L229.56 125.53 L229.83 126.21 L230.11 126.91 L230.38 127.60 L230.66 128.30 L230.94 129.01 L231.21 129.72 L231.49 130.44 L231.76 131.16 L232.04 131.88 L232.31 132.61 L232.59 133.35 L232.87 134.09 L233.14 134.83 L233.42 135.58 L233.69 136.34 L233.97 137.09 L234.25 137.86 L234.52 138.63 L234.80 139.40 L235.07 140.18 L235.35 140.96 L235.62 141.75 L235.90 142.55 L236.18 143.35 L236.45 144.15 L236.73 144.96 L237.00 145.77 L237.28 146.59 L237.55 147.42 L237.83 148.25 L238.11 149.08 L238.38 149.92 L238.66 150.77 L238.93 151.62 L239.21 152.47 L239.48 153.33 L239.76 154.20 L240.04 155.07 L240.31 155.94 L240.59 156.82 L240.86 157.71 L241.14 158.60 L241.42 159.50 L241.69 160.40 L241.97 161.31 L242.24 162.22 L242.52 163.14 L242.79 164.07 L243.07 165.00 L243.35 165.93 L243.62 166.87 L243.90 167.82 L244.17 168.77 L244.45 169.73 L244.72 170.69 L245.00 171.65 L245.28 172.63 L245.55 173.61 L245.83 174.59 L246.10 175.58 L246.38 176.58 L246.66 177.58 L246.93 178.58 L247.21 179.60 L247.48 180.61 L247.76 181.64 L248.03 182.67 L248.31 183.70 L248.59 184.74 L248.86 185.79 L249.14 186.84 L249.41 187.90 L249.69 188.96 L249.96 190.03 L250.24 191.11 L250.52 192.19 L250.79 193.28 L251.07 194.37 L251.34 195.47 L251.62 196.57 L251.90 197.68 L252.17 198.80 L252.45 199.92 L252.72 201.05 L253.00 202.18 L253.27 203.32 L253.55 204.47 L253.83 205.62 L254.10 206.78 L254.38 207.94 L254.65 209.11 L254.93 210.29 L255.20 211.47 L255.48 212.66 L255.76 213.85 L256.03 215.05 L256.31 216.26 L256.58 217.47 L256.86 218.69 L257.14 219.92 L257.41 221.15 L257.69 222.38 L257.96 223.63 L258.24 224.88 L258.51 226.13 L258.79 227.40 L259.07 228.67 L259.34 229.94 L259.62 231.22 L259.89 232.51" stroke="#000" stroke-width="0.55" stroke-dasharray="6.0 1.6"/>
</g>
<circle cx="90.53" cy="54.31" r="3.4" fill="#008000"/>
<circle cx="112.57" cy="79.54" r="3.4" fill="#008000"/>
<circle cx="156.64" cy="101.59" r="3.4" fill="#008000"/>
<g font-family="Liberation Serif, serif" font-size="14.5" fill="#1c1c1c">
<text x="68.50" y="201.65" text-anchor="middle">0</text>
<text x="112.57" y="201.65" text-anchor="middle">1</text>
<text x="156.64" y="201.65" text-anchor="middle">2</text>
<text x="200.71" y="201.65" text-anchor="middle">3</text>
<text x="244.78" y="201.65" text-anchor="middle">4</text>
<text x="288.85" y="201.65" text-anchor="middle">5</text>
<text x="59.70" y="187.85" text-anchor="end">0.2</text>
<text x="59.70" y="146.49" text-anchor="end">0.4</text>
<text x="59.70" y="105.12" text-anchor="end">0.6</text>
<text x="59.70" y="63.76" text-anchor="end">0.8</text>
<text x="59.70" y="22.40" text-anchor="end">1.0</text>
</g>
<rect x="383.50" y="17.50" width="220.35" height="165.45" fill="none" stroke="#000" stroke-width="1"/>
<path d="M411.04 182.95v-2.60 M411.04 17.50v2.60 M438.59 182.95v-5.20 M438.59 17.50v5.20 M466.13 182.95v-2.60 M466.13 17.50v2.60 M493.68 182.95v-5.20 M493.68 17.50v5.20 M521.22 182.95v-2.60 M521.22 17.50v2.60 M548.76 182.95v-5.20 M548.76 17.50v5.20 M576.31 182.95v-2.60 M576.31 17.50v2.60 M383.50 162.27h2.60 M603.85 162.27h-2.60 M383.50 141.59h5.20 M603.85 141.59h-5.20 M383.50 120.91h2.60 M603.85 120.91h-2.60 M383.50 100.22h5.20 M603.85 100.22h-5.20 M383.50 79.54h2.60 M603.85 79.54h-2.60 M383.50 58.86h5.20 M603.85 58.86h-5.20 M383.50 38.18h2.60 M603.85 38.18h-2.60" stroke="#000" stroke-width="0.8" fill="none"/>
<g clip-path="url(#cpb)" fill="none">
<path d="M383.50 175.40 L383.87 173.65 L384.24 171.93 L384.60 170.24 L384.97 168.58 L385.34 166.95 L385.71 165.35 L386.08 163.79 L386.44 162.25 L386.81 160.73 L387.18 159.24 L387.55 157.78 L387.91 156.35 L388.28 154.94 L388.65 153.55 L389.02 152.19 L389.39 150.85 L389.75 149.53 L390.12 148.24 L390.49 146.96 L390.86 145.71 L391.23 144.48 L391.59 143.27 L391.96 142.07 L392.33 140.90 L392.70 139.75 L393.06 138.61 L393.43 137.49 L393.80 136.39 L394.17 135.31 L394.54 134.25 L394.90 133.20 L395.27 132.17 L395.64 131.15 L396.01 130.15 L396.38 129.17 L396.74 128.20 L397.11 127.24 L397.48 126.30 L397.85 125.38 L398.21 124.47 L398.58 123.57 L398.95 122.68 L399.32 121.81 L399.69 120.96 L400.05 120.11 L400.42 119.28 L400.79 118.46 L401.16 117.65 L401.53 116.85 L401.89 116.07 L402.26 115.29 L402.63 114.53 L403.00 113.78 L403.36 113.04 L403.73 112.31 L404.10 111.59 L404.47 110.88 L404.84 110.18 L405.20 109.50 L405.57 108.82 L405.94 108.15 L406.31 107.49 L406.68 106.83 L407.04 106.19 L407.41 105.56 L407.78 104.93 L408.15 104.32 L408.51 103.71 L408.88 103.11 L409.25 102.52 L409.62 101.93 L409.99 101.36 L410.35 100.79 L410.72 100.23 L411.09 99.68 L411.46 99.13 L411.83 98.59 L412.19 98.06 L412.56 97.53 L412.93 97.02 L413.30 96.50 L413.66 96.00 L414.03 95.50 L414.40 95.01 L414.77 94.52 L415.14 94.04 L415.50 93.57 L415.87 93.10 L416.24 92.64 L416.61 92.18 L416.98 91.73 L417.34 91.28 L417.71 90.84 L418.08 90.41 L418.45 89.98 L418.81 89.55 L419.18 89.13 L419.55 88.72 L419.92 88.31 L420.29 87.91 L420.65 87.50 L421.02 87.11 L421.39 86.72 L421.76 86.33 L422.13 85.95 L422.49 85.57 L422.86 85.20 L423.23 84.83 L423.60 84.46 L423.96 84.10 L424.33 83.74 L424.70 83.39 L425.07 83.04 L425.44 82.70 L425.80 82.35 L426.17 82.02 L426.54 81.68 L426.91 81.35 L427.28 81.02 L427.64 80.70 L428.01 80.38 L428.38 80.06 L428.75 79.75 L429.12 79.44 L429.48 79.13 L429.85 78.82 L430.22 78.52 L430.59 78.22 L430.95 77.93 L431.32 77.64 L431.69 77.35 L432.06 77.06 L432.43 76.78 L432.79 76.50 L433.16 76.22 L433.53 75.94 L433.90 75.67 L434.27 75.40 L434.63 75.13 L435.00 74.87 L435.37 74.61 L435.74 74.35 L436.10 74.09 L436.47 73.83 L436.84 73.58 L437.21 73.33 L437.58 73.08 L437.94 72.84 L438.31 72.59 L438.68 72.35 L439.05 72.11 L439.42 71.88 L439.78 71.64 L440.15 71.41 L440.52 71.18 L440.89 70.95 L441.25 70.72 L441.62 70.50 L441.99 70.28 L442.36 70.06 L442.73 69.84 L443.09 69.62 L443.46 69.41 L443.83 69.19 L444.20 68.98 L444.57 68.77 L444.93 68.56 L445.30 68.36 L445.67 68.15 L446.04 67.95 L446.40 67.75 L446.77 67.55 L447.14 67.35 L447.51 67.16 L447.88 66.96 L448.24 66.77 L448.61 66.58 L448.98 66.39 L449.35 66.20 L449.72 66.01 L450.08 65.83 L450.45 65.65 L450.82 65.46 L451.19 65.28 L451.55 65.10 L451.92 64.92 L452.29 64.75 L452.66 64.57 L453.03 64.40 L453.39 64.23 L453.76 64.05 L454.13 63.88 L454.50 63.72 L454.87 63.55 L455.23 63.38 L455.60 63.22 L455.97 63.05 L456.34 62.89 L456.70 62.73 L457.07 62.57 L457.44 62.41 L457.81 62.25 L458.18 62.09 L458.54 61.94 L458.91 61.78 L459.28 61.63 L459.65 61.48 L460.02 61.33 L460.38 61.18 L460.75 61.03 L461.12 60.88 L461.49 60.73 L461.85 60.59 L462.22 60.44 L462.59 60.30 L462.96 60.16 L463.33 60.01 L463.69 59.87 L464.06 59.73 L464.43 59.59 L464.80 59.46 L465.17 59.32 L465.53 59.18 L465.90 59.05 L466.27 58.91 L466.64 58.78 L467.00 58.65 L467.37 58.51 L467.74 58.38 L468.11 58.25 L468.48 58.12 L468.84 58.00 L469.21 57.87 L469.58 57.74 L469.95 57.62 L470.32 57.49 L470.68 57.37 L471.05 57.24 L471.42 57.12 L471.79 57.00 L472.16 56.88 L472.52 56.76 L472.89 56.64 L473.26 56.52 L473.63 56.40 L473.99 56.28 L474.36 56.17 L474.73 56.05 L475.10 55.93 L475.47 55.82 L475.83 55.71 L476.20 55.59 L476.57 55.48 L476.94 55.37 L477.31 55.26 L477.67 55.15 L478.04 55.04 L478.41 54.93 L478.78 54.82 L479.14 54.71 L479.51 54.60 L479.88 54.50 L480.25 54.39 L480.62 54.29 L480.98 54.18 L481.35 54.08 L481.72 53.97 L482.09 53.87 L482.46 53.77 L482.82 53.67 L483.19 53.57 L483.56 53.46 L483.93 53.36 L484.29 53.26 L484.66 53.17 L485.03 53.07 L485.40 52.97 L485.77 52.87 L486.13 52.78 L486.50 52.68 L486.87 52.58 L487.24 52.49 L487.61 52.39 L487.97 52.30 L488.34 52.21 L488.71 52.11 L489.08 52.02 L489.44 51.93 L489.81 51.84 L490.18 51.75 L490.55 51.66 L490.92 51.57 L491.28 51.48 L491.65 51.39 L492.02 51.30 L492.39 51.21 L492.76 51.12 L493.12 51.04 L493.49 50.95 L493.86 50.86 L494.23 50.78 L494.59 50.69 L494.96 50.61 L495.33 50.52 L495.70 50.44 L496.07 50.36 L496.43 50.27 L496.80 50.19 L497.17 50.11 L497.54 50.02 L497.91 49.94 L498.27 49.86 L498.64 49.78 L499.01 49.70 L499.38 49.62 L499.74 49.54 L500.11 49.46 L500.48 49.38 L500.85 49.31 L501.22 49.23 L501.58 49.15 L501.95 49.07 L502.32 49.00 L502.69 48.92 L503.06 48.84 L503.42 48.77 L503.79 48.69 L504.16 48.62 L504.53 48.54 L504.89 48.47 L505.26 48.40 L505.63 48.32 L506.00 48.25 L506.37 48.18 L506.73 48.11 L507.10 48.03 L507.47 47.96 L507.84 47.89 L508.21 47.82 L508.57 47.75 L508.94 47.68 L509.31 47.61 L509.68 47.54 L510.04 47.47 L510.41 47.40 L510.78 47.33 L511.15 47.26 L511.52 47.20 L511.88 47.13 L512.25 47.06 L512.62 46.99 L512.99 46.93 L513.36 46.86 L513.72 46.79 L514.09 46.73 L514.46 46.66 L514.83 46.60 L515.19 46.53 L515.56 46.47 L515.93 46.40 L516.30 46.34 L516.67 46.27 L517.03 46.21 L517.40 46.15 L517.77 46.08 L518.14 46.02 L518.51 45.96 L518.87 45.90 L519.24 45.84 L519.61 45.77 L519.98 45.71 L520.35 45.65 L520.71 45.59 L521.08 45.53 L521.45 45.47 L521.82 45.41 L522.18 45.35 L522.55 45.29 L522.92 45.23 L523.29 45.17 L523.66 45.11 L524.02 45.06 L524.39 45.00 L524.76 44.94 L525.13 44.88 L525.50 44.82 L525.86 44.77 L526.23 44.71 L526.60 44.65 L526.97 44.60 L527.33 44.54 L527.70 44.48 L528.07 44.43 L528.44 44.37 L528.81 44.32 L529.17 44.26 L529.54 44.21 L529.91 44.15 L530.28 44.10 L530.65 44.04 L531.01 43.99 L531.38 43.94 L531.75 43.88 L532.12 43.83 L532.48 43.78 L532.85 43.72 L533.22 43.67 L533.59 43.62 L533.96 43.57 L534.32 43.51 L534.69 43.46 L535.06 43.41 L535.43 43.36 L535.80 43.31 L536.16 43.26 L536.53 43.21 L536.90 43.16 L537.27 43.11 L537.63 43.06 L538.00 43.01 L538.37 42.96 L538.74 42.91 L539.11 42.86 L539.47 42.81 L539.84 42.76 L540.21 42.71 L540.58 42.66 L540.95 42.61 L541.31 42.56 L541.68 42.52 L542.05 42.47 L542.42 42.42 L542.78 42.37 L543.15 42.33 L543.52 42.28 L543.89 42.23 L544.26 42.18 L544.62 42.14 L544.99 42.09 L545.36 42.05 L545.73 42.00 L546.10 41.95 L546.46 41.91 L546.83 41.86 L547.20 41.82 L547.57 41.77 L547.93 41.73 L548.30 41.68 L548.67 41.64 L549.04 41.59 L549.41 41.55 L549.77 41.50 L550.14 41.46 L550.51 41.42 L550.88 41.37 L551.25 41.33 L551.61 41.29 L551.98 41.24 L552.35 41.20 L552.72 41.16 L553.08 41.11 L553.45 41.07 L553.82 41.03 L554.19 40.99 L554.56 40.94 L554.92 40.90 L555.29 40.86 L555.66 40.82 L556.03 40.78 L556.40 40.73 L556.76 40.69 L557.13 40.65 L557.50 40.61 L557.87 40.57 L558.23 40.53 L558.60 40.49 L558.97 40.45 L559.34 40.41 L559.71 40.37 L560.07 40.33 L560.44 40.29 L560.81 40.25 L561.18 40.21 L561.55 40.17 L561.91 40.13 L562.28 40.09 L562.65 40.05 L563.02 40.01 L563.39 39.98 L563.75 39.94 L564.12 39.90 L564.49 39.86 L564.86 39.82 L565.22 39.78 L565.59 39.75 L565.96 39.71 L566.33 39.67 L566.70 39.63 L567.06 39.60 L567.43 39.56 L567.80 39.52 L568.17 39.48 L568.54 39.45 L568.90 39.41 L569.27 39.37 L569.64 39.34 L570.01 39.30 L570.37 39.26 L570.74 39.23 L571.11 39.19 L571.48 39.16 L571.85 39.12 L572.21 39.08 L572.58 39.05 L572.95 39.01 L573.32 38.98 L573.69 38.94 L574.05 38.91 L574.42 38.87 L574.79 38.84 L575.16 38.80 L575.52 38.77 L575.89 38.73 L576.26 38.70 L576.63 38.67 L577.00 38.63 L577.36 38.60 L577.73 38.56 L578.10 38.53 L578.47 38.50 L578.84 38.46 L579.20 38.43 L579.57 38.39 L579.94 38.36 L580.31 38.33 L580.67 38.30 L581.04 38.26 L581.41 38.23 L581.78 38.20 L582.15 38.16 L582.51 38.13 L582.88 38.10 L583.25 38.07 L583.62 38.03 L583.99 38.00 L584.35 37.97 L584.72 37.94 L585.09 37.91 L585.46 37.87 L585.82 37.84 L586.19 37.81 L586.56 37.78 L586.93 37.75 L587.30 37.72 L587.66 37.69 L588.03 37.65 L588.40 37.62 L588.77 37.59 L589.14 37.56 L589.50 37.53 L589.87 37.50 L590.24 37.47 L590.61 37.44 L590.97 37.41 L591.34 37.38 L591.71 37.35 L592.08 37.32 L592.45 37.29 L592.81 37.26 L593.18 37.23 L593.55 37.20 L593.92 37.17 L594.29 37.14 L594.65 37.11 L595.02 37.08 L595.39 37.05 L595.76 37.02 L596.12 36.99 L596.49 36.97 L596.86 36.94 L597.23 36.91 L597.60 36.88 L597.96 36.85 L598.33 36.82 L598.70 36.79 L599.07 36.76 L599.44 36.74 L599.80 36.71 L600.17 36.68 L600.54 36.65 L600.91 36.62 L601.27 36.60 L601.64 36.57 L602.01 36.54 L602.38 36.51 L602.75 36.49 L603.11 36.46 L603.48 36.43 L603.85 36.40" stroke="#ff0000" stroke-width="2"/>
<path d="M383.50 122.85 L383.87 122.80 L384.24 122.75 L384.60 122.68 L384.97 122.62 L385.34 122.55 L385.71 122.47 L386.08 122.39 L386.44 122.30 L386.81 122.20 L387.18 122.10 L387.55 121.99 L387.91 121.88 L388.28 121.76 L388.65 121.63 L389.02 121.49 L389.39 121.35 L389.75 121.21 L390.12 121.05 L390.49 120.89 L390.86 120.72 L391.23 120.55 L391.59 120.37 L391.96 120.18 L392.33 119.98 L392.70 119.78 L393.06 119.58 L393.43 119.36 L393.80 119.14 L394.17 118.91 L394.54 118.68 L394.90 118.44 L395.27 118.20 L395.64 117.95 L396.01 117.69 L396.38 117.43 L396.74 117.16 L397.11 116.89 L397.48 116.61 L397.85 116.32 L398.21 116.03 L398.58 115.74 L398.95 115.44 L399.32 115.14 L399.69 114.83 L400.05 114.52 L400.42 114.20 L400.79 113.88 L401.16 113.56 L401.53 113.23 L401.89 112.90 L402.26 112.56 L402.63 112.22 L403.00 111.88 L403.36 111.54 L403.73 111.19 L404.10 110.84 L404.47 110.49 L404.84 110.13 L405.20 109.77 L405.57 109.41 L405.94 109.05 L406.31 108.69 L406.68 108.32 L407.04 107.95 L407.41 107.59 L407.78 107.22 L408.15 106.84 L408.51 106.47 L408.88 106.10 L409.25 105.72 L409.62 105.35 L409.99 104.97 L410.35 104.60 L410.72 104.22 L411.09 103.84 L411.46 103.46 L411.83 103.09 L412.19 102.71 L412.56 102.33 L412.93 101.95 L413.30 101.58 L413.66 101.20 L414.03 100.82 L414.40 100.45 L414.77 100.07 L415.14 99.70 L415.50 99.32 L415.87 98.95 L416.24 98.58 L416.61 98.20 L416.98 97.83 L417.34 97.46 L417.71 97.09 L418.08 96.73 L418.45 96.36 L418.81 95.99 L419.18 95.63 L419.55 95.27 L419.92 94.91 L420.29 94.55 L420.65 94.19 L421.02 93.83 L421.39 93.47 L421.76 93.12 L422.13 92.77 L422.49 92.42 L422.86 92.07 L423.23 91.72 L423.60 91.37 L423.96 91.03 L424.33 90.69 L424.70 90.35 L425.07 90.01 L425.44 89.67 L425.80 89.33 L426.17 89.00 L426.54 88.67 L426.91 88.34 L427.28 88.01 L427.64 87.68 L428.01 87.36 L428.38 87.04 L428.75 86.72 L429.12 86.40 L429.48 86.08 L429.85 85.77 L430.22 85.45 L430.59 85.14 L430.95 84.83 L431.32 84.53 L431.69 84.22 L432.06 83.92 L432.43 83.62 L432.79 83.32 L433.16 83.02 L433.53 82.73 L433.90 82.43 L434.27 82.14 L434.63 81.85 L435.00 81.56 L435.37 81.28 L435.74 80.99 L436.10 80.71 L436.47 80.43 L436.84 80.15 L437.21 79.88 L437.58 79.60 L437.94 79.33 L438.31 79.06 L438.68 78.79 L439.05 78.52 L439.42 78.26 L439.78 77.99 L440.15 77.73 L440.52 77.47 L440.89 77.21 L441.25 76.96 L441.62 76.70 L441.99 76.45 L442.36 76.20 L442.73 75.95 L443.09 75.70 L443.46 75.46 L443.83 75.21 L444.20 74.97 L444.57 74.73 L444.93 74.49 L445.30 74.25 L445.67 74.02 L446.04 73.78 L446.40 73.55 L446.77 73.32 L447.14 73.09 L447.51 72.86 L447.88 72.64 L448.24 72.41 L448.61 72.19 L448.98 71.97 L449.35 71.75 L449.72 71.53 L450.08 71.32 L450.45 71.10 L450.82 70.89 L451.19 70.68 L451.55 70.46 L451.92 70.26 L452.29 70.05 L452.66 69.84 L453.03 69.64 L453.39 69.43 L453.76 69.23 L454.13 69.03 L454.50 68.83 L454.87 68.63 L455.23 68.44 L455.60 68.24 L455.97 68.05 L456.34 67.86 L456.70 67.67 L457.07 67.48 L457.44 67.29 L457.81 67.10 L458.18 66.91 L458.54 66.73 L458.91 66.55 L459.28 66.36 L459.65 66.18 L460.02 66.00 L460.38 65.82 L460.75 65.65 L461.12 65.47 L461.49 65.30 L461.85 65.12 L462.22 64.95 L462.59 64.78 L462.96 64.61 L463.33 64.44 L463.69 64.27 L464.06 64.11 L464.43 63.94 L464.80 63.77 L465.17 63.61 L465.53 63.45 L465.90 63.29 L466.27 63.13 L466.64 62.97 L467.00 62.81 L467.37 62.65 L467.74 62.50 L468.11 62.34 L468.48 62.19 L468.84 62.03 L469.21 61.88 L469.58 61.73 L469.95 61.58 L470.32 61.43 L470.68 61.28 L471.05 61.14 L471.42 60.99 L471.79 60.84 L472.16 60.70 L472.52 60.56 L472.89 60.41 L473.26 60.27 L473.63 60.13 L473.99 59.99 L474.36 59.85 L474.73 59.71 L475.10 59.58 L475.47 59.44 L475.83 59.30 L476.20 59.17 L476.57 59.03 L476.94 58.90 L477.31 58.77 L477.67 58.64 L478.04 58.51 L478.41 58.38 L478.78 58.25 L479.14 58.12 L479.51 57.99 L479.88 57.87 L480.25 57.74 L480.62 57.61 L480.98 57.49 L481.35 57.37 L481.72 57.24 L482.09 57.12 L482.46 57.00 L482.82 56.88 L483.19 56.76 L483.56 56.64 L483.93 56.52 L484.29 56.40 L484.66 56.28 L485.03 56.17 L485.40 56.05 L485.77 55.94 L486.13 55.82 L486.50 55.71 L486.87 55.59 L487.24 55.48 L487.61 55.37 L487.97 55.26 L488.34 55.15 L488.71 55.04 L489.08 54.93 L489.44 54.82 L489.81 54.71 L490.18 54.60 L490.55 54.50 L490.92 54.39 L491.28 54.29 L491.65 54.18 L492.02 54.08 L492.39 53.97 L492.76 53.87 L493.12 53.77 L493.49 53.66 L493.86 53.56 L494.23 53.46 L494.59 53.36 L494.96 53.26 L495.33 53.16 L495.70 53.06 L496.07 52.96 L496.43 52.87 L496.80 52.77 L497.17 52.67 L497.54 52.58 L497.91 52.48 L498.27 52.38 L498.64 52.29 L499.01 52.20 L499.38 52.10 L499.74 52.01 L500.11 51.92 L500.48 51.82 L500.85 51.73 L501.22 51.64 L501.58 51.55 L501.95 51.46 L502.32 51.37 L502.69 51.28 L503.06 51.19 L503.42 51.10 L503.79 51.02 L504.16 50.93 L504.53 50.84 L504.89 50.76 L505.26 50.67 L505.63 50.58 L506.00 50.50 L506.37 50.41 L506.73 50.33 L507.10 50.25 L507.47 50.16 L507.84 50.08 L508.21 50.00 L508.57 49.91 L508.94 49.83 L509.31 49.75 L509.68 49.67 L510.04 49.59 L510.41 49.51 L510.78 49.43 L511.15 49.35 L511.52 49.27 L511.88 49.19 L512.25 49.11 L512.62 49.04 L512.99 48.96 L513.36 48.88 L513.72 48.80 L514.09 48.73 L514.46 48.65 L514.83 48.58 L515.19 48.50 L515.56 48.43 L515.93 48.35 L516.30 48.28 L516.67 48.20 L517.03 48.13 L517.40 48.06 L517.77 47.99 L518.14 47.91 L518.51 47.84 L518.87 47.77 L519.24 47.70 L519.61 47.63 L519.98 47.56 L520.35 47.49 L520.71 47.42 L521.08 47.35 L521.45 47.28 L521.82 47.21 L522.18 47.14 L522.55 47.07 L522.92 47.00 L523.29 46.93 L523.66 46.87 L524.02 46.80 L524.39 46.73 L524.76 46.67 L525.13 46.60 L525.50 46.53 L525.86 46.47 L526.23 46.40 L526.60 46.34 L526.97 46.27 L527.33 46.21 L527.70 46.15 L528.07 46.08 L528.44 46.02 L528.81 45.95 L529.17 45.89 L529.54 45.83 L529.91 45.77 L530.28 45.70 L530.65 45.64 L531.01 45.58 L531.38 45.52 L531.75 45.46 L532.12 45.40 L532.48 45.34 L532.85 45.28 L533.22 45.22 L533.59 45.16 L533.96 45.10 L534.32 45.04 L534.69 44.98 L535.06 44.92 L535.43 44.86 L535.80 44.80 L536.16 44.75 L536.53 44.69 L536.90 44.63 L537.27 44.57 L537.63 44.52 L538.00 44.46 L538.37 44.40 L538.74 44.35 L539.11 44.29 L539.47 44.23 L539.84 44.18 L540.21 44.12 L540.58 44.07 L540.95 44.01 L541.31 43.96 L541.68 43.90 L542.05 43.85 L542.42 43.80 L542.78 43.74 L543.15 43.69 L543.52 43.64 L543.89 43.58 L544.26 43.53 L544.62 43.48 L544.99 43.42 L545.36 43.37 L545.73 43.32 L546.10 43.27 L546.46 43.22 L546.83 43.17 L547.20 43.11 L547.57 43.06 L547.93 43.01 L548.30 42.96 L548.67 42.91 L549.04 42.86 L549.41 42.81 L549.77 42.76 L550.14 42.71 L550.51 42.66 L550.88 42.61 L551.25 42.56 L551.61 42.52 L551.98 42.47 L552.35 42.42 L552.72 42.37 L553.08 42.32 L553.45 42.27 L553.82 42.23 L554.19 42.18 L554.56 42.13 L554.92 42.08 L555.29 42.04 L555.66 41.99 L556.03 41.94 L556.40 41.90 L556.76 41.85 L557.13 41.81 L557.50 41.76 L557.87 41.71 L558.23 41.67 L558.60 41.62 L558.97 41.58 L559.34 41.53 L559.71 41.49 L560.07 41.44 L560.44 41.40 L560.81 41.35 L561.18 41.31 L561.55 41.27 L561.91 41.22 L562.28 41.18 L562.65 41.14 L563.02 41.09 L563.39 41.05 L563.75 41.01 L564.12 40.96 L564.49 40.92 L564.86 40.88 L565.22 40.84 L565.59 40.79 L565.96 40.75 L566.33 40.71 L566.70 40.67 L567.06 40.63 L567.43 40.58 L567.80 40.54 L568.17 40.50 L568.54 40.46 L568.90 40.42 L569.27 40.38 L569.64 40.34 L570.01 40.30 L570.37 40.26 L570.74 40.22 L571.11 40.18 L571.48 40.14 L571.85 40.10 L572.21 40.06 L572.58 40.02 L572.95 39.98 L573.32 39.94 L573.69 39.90 L574.05 39.86 L574.42 39.82 L574.79 39.79 L575.16 39.75 L575.52 39.71 L575.89 39.67 L576.26 39.63 L576.63 39.59 L577.00 39.56 L577.36 39.52 L577.73 39.48 L578.10 39.44 L578.47 39.41 L578.84 39.37 L579.20 39.33 L579.57 39.30 L579.94 39.26 L580.31 39.22 L580.67 39.18 L581.04 39.15 L581.41 39.11 L581.78 39.08 L582.15 39.04 L582.51 39.00 L582.88 38.97 L583.25 38.93 L583.62 38.90 L583.99 38.86 L584.35 38.83 L584.72 38.79 L585.09 38.76 L585.46 38.72 L585.82 38.69 L586.19 38.65 L586.56 38.62 L586.93 38.58 L587.30 38.55 L587.66 38.51 L588.03 38.48 L588.40 38.45 L588.77 38.41 L589.14 38.38 L589.50 38.34 L589.87 38.31 L590.24 38.28 L590.61 38.24 L590.97 38.21 L591.34 38.18 L591.71 38.14 L592.08 38.11 L592.45 38.08 L592.81 38.04 L593.18 38.01 L593.55 37.98 L593.92 37.95 L594.29 37.91 L594.65 37.88 L595.02 37.85 L595.39 37.82 L595.76 37.79 L596.12 37.75 L596.49 37.72 L596.86 37.69 L597.23 37.66 L597.60 37.63 L597.96 37.60 L598.33 37.57 L598.70 37.53 L599.07 37.50 L599.44 37.47 L599.80 37.44 L600.17 37.41 L600.54 37.38 L600.91 37.35 L601.27 37.32 L601.64 37.29 L602.01 37.26 L602.38 37.23 L602.75 37.20 L603.11 37.17 L603.48 37.14 L603.85 37.11" stroke="#0000ff" stroke-width="2" stroke-dasharray="14 3.5"/>
<path d="M410.23 -29.72 L410.57 -26.30 L410.91 -23.03 L411.26 -19.91 L411.60 -16.92 L411.94 -14.07 L412.28 -11.34 L412.62 -8.73 L412.96 -6.23 L413.30 -3.84 L413.64 -1.55 L413.98 0.65 L414.32 2.75 L414.66 4.76 L415.00 6.70 L415.34 8.55 L415.68 10.33 L416.02 12.03 L416.36 13.67 L416.70 15.24 L417.04 16.75 L417.38 18.20 L417.72 19.59 L418.06 20.92 L418.40 22.21 L418.74 23.44 L419.08 24.63 L419.42 25.77 L419.76 26.87 L420.10 27.92 L420.44 28.94 L420.78 29.91 L421.12 30.85 L421.46 31.75 L421.80 32.62 L422.14 33.46 L422.48 34.26 L422.82 35.04 L423.16 35.79 L423.51 36.50 L423.85 37.20 L424.19 37.86 L424.53 38.50 L424.87 39.12 L425.21 39.71 L425.55 40.29 L425.89 40.84 L426.23 41.37 L426.57 41.88 L426.91 42.37 L427.25 42.85 L427.59 43.30 L427.93 43.74 L428.27 44.17 L428.61 44.58 L428.95 44.97 L429.29 45.35 L429.63 45.71 L429.97 46.06 L430.31 46.40 L430.65 46.72 L430.99 47.03 L431.33 47.33 L431.67 47.62 L432.01 47.90 L432.35 48.17 L432.69 48.43 L433.03 48.67 L433.37 48.91 L433.71 49.14 L434.05 49.36 L434.39 49.57 L434.73 49.77 L435.07 49.96 L435.41 50.15 L435.75 50.33 L436.10 50.50 L436.44 50.67 L436.78 50.82 L437.12 50.97 L437.46 51.12 L437.80 51.26 L438.14 51.39 L438.48 51.51 L438.82 51.63 L439.16 51.75 L439.50 51.86 L439.84 51.96 L440.18 52.06 L440.52 52.16 L440.86 52.25 L441.20 52.33 L441.54 52.42 L441.88 52.49 L442.22 52.56 L442.56 52.63 L442.90 52.70 L443.24 52.76 L443.58 52.82 L443.92 52.87 L444.26 52.92 L444.60 52.97 L444.94 53.01 L445.28 53.05 L445.62 53.09 L445.96 53.13 L446.30 53.16 L446.64 53.19 L446.98 53.22 L447.32 53.24 L447.66 53.26 L448.00 53.28 L448.35 53.30 L448.69 53.31 L449.03 53.32 L449.37 53.33 L449.71 53.34 L450.05 53.35 L450.39 53.35 L450.73 53.35 L451.07 53.35 L451.41 53.35 L451.75 53.35 L452.09 53.34 L452.43 53.34 L452.77 53.33 L453.11 53.32 L453.45 53.31 L453.79 53.29 L454.13 53.28 L454.47 53.26 L454.81 53.25 L455.15 53.23 L455.49 53.21 L455.83 53.19 L456.17 53.17 L456.51 53.14 L456.85 53.12 L457.19 53.09 L457.53 53.07 L457.87 53.04 L458.21 53.01 L458.55 52.98 L458.89 52.95 L459.23 52.92 L459.57 52.89 L459.91 52.86 L460.25 52.82 L460.59 52.79 L460.94 52.76 L461.28 52.72 L461.62 52.68 L461.96 52.65 L462.30 52.61 L462.64 52.57 L462.98 52.53 L463.32 52.49 L463.66 52.45 L464.00 52.41 L464.34 52.37 L464.68 52.33 L465.02 52.28 L465.36 52.24 L465.70 52.20 L466.04 52.15 L466.38 52.11 L466.72 52.06 L467.06 52.02 L467.40 51.97 L467.74 51.93 L468.08 51.88 L468.42 51.83 L468.76 51.79 L469.10 51.74 L469.44 51.69 L469.78 51.64 L470.12 51.59 L470.46 51.54 L470.80 51.50 L471.14 51.45 L471.48 51.40 L471.82 51.35 L472.16 51.30 L472.50 51.25 L472.84 51.20 L473.19 51.15 L473.53 51.09 L473.87 51.04 L474.21 50.99 L474.55 50.94 L474.89 50.89 L475.23 50.84 L475.57 50.79 L475.91 50.73 L476.25 50.68 L476.59 50.63 L476.93 50.58 L477.27 50.52 L477.61 50.47 L477.95 50.42 L478.29 50.37 L478.63 50.31 L478.97 50.26 L479.31 50.21 L479.65 50.15 L479.99 50.10 L480.33 50.05 L480.67 49.99 L481.01 49.94 L481.35 49.89 L481.69 49.83 L482.03 49.78 L482.37 49.73 L482.71 49.67 L483.05 49.62 L483.39 49.57 L483.73 49.51 L484.07 49.46 L484.41 49.41 L484.75 49.35 L485.09 49.30 L485.43 49.25 L485.78 49.19 L486.12 49.14 L486.46 49.08 L486.80 49.03 L487.14 48.98 L487.48 48.92 L487.82 48.87 L488.16 48.82 L488.50 48.76 L488.84 48.71 L489.18 48.66 L489.52 48.60 L489.86 48.55 L490.20 48.50 L490.54 48.44 L490.88 48.39 L491.22 48.34 L491.56 48.28 L491.90 48.23 L492.24 48.18 L492.58 48.13 L492.92 48.07 L493.26 48.02 L493.60 47.97 L493.94 47.92 L494.28 47.86 L494.62 47.81 L494.96 47.76 L495.30 47.71 L495.64 47.65 L495.98 47.60 L496.32 47.55 L496.66 47.50 L497.00 47.45 L497.34 47.39 L497.68 47.34 L498.02 47.29 L498.37 47.24 L498.71 47.19 L499.05 47.14 L499.39 47.09 L499.73 47.03 L500.07 46.98 L500.41 46.93 L500.75 46.88 L501.09 46.83 L501.43 46.78 L501.77 46.73 L502.11 46.68 L502.45 46.63 L502.79 46.58 L503.13 46.53 L503.47 46.48 L503.81 46.43 L504.15 46.38 L504.49 46.33 L504.83 46.28 L505.17 46.23 L505.51 46.18 L505.85 46.13 L506.19 46.08 L506.53 46.03 L506.87 45.98 L507.21 45.93 L507.55 45.88 L507.89 45.84 L508.23 45.79 L508.57 45.74 L508.91 45.69 L509.25 45.64 L509.59 45.59 L509.93 45.54 L510.27 45.50 L510.62 45.45 L510.96 45.40 L511.30 45.35 L511.64 45.31 L511.98 45.26 L512.32 45.21 L512.66 45.16 L513.00 45.12 L513.34 45.07 L513.68 45.02 L514.02 44.98 L514.36 44.93 L514.70 44.88 L515.04 44.84 L515.38 44.79 L515.72 44.74 L516.06 44.70 L516.40 44.65 L516.74 44.61 L517.08 44.56 L517.42 44.52 L517.76 44.47 L518.10 44.42 L518.44 44.38 L518.78 44.33 L519.12 44.29 L519.46 44.24 L519.80 44.20 L520.14 44.15 L520.48 44.11 L520.82 44.07 L521.16 44.02 L521.50 43.98 L521.84 43.93 L522.18 43.89 L522.52 43.85 L522.86 43.80 L523.21 43.76 L523.55 43.71 L523.89 43.67 L524.23 43.63 L524.57 43.58 L524.91 43.54 L525.25 43.50 L525.59 43.46 L525.93 43.41 L526.27 43.37 L526.61 43.33 L526.95 43.28 L527.29 43.24 L527.63 43.20 L527.97 43.16 L528.31 43.12 L528.65 43.07 L528.99 43.03 L529.33 42.99 L529.67 42.95 L530.01 42.91 L530.35 42.87 L530.69 42.83 L531.03 42.78 L531.37 42.74 L531.71 42.70 L532.05 42.66 L532.39 42.62 L532.73 42.58 L533.07 42.54 L533.41 42.50 L533.75 42.46 L534.09 42.42 L534.43 42.38 L534.77 42.34 L535.11 42.30 L535.46 42.26 L535.80 42.22 L536.14 42.18 L536.48 42.14 L536.82 42.10 L537.16 42.06 L537.50 42.02 L537.84 41.99 L538.18 41.95 L538.52 41.91 L538.86 41.87 L539.20 41.83 L539.54 41.79 L539.88 41.75 L540.22 41.72 L540.56 41.68 L540.90 41.64 L541.24 41.60 L541.58 41.56 L541.92 41.53 L542.26 41.49 L542.60 41.45 L542.94 41.41 L543.28 41.38 L543.62 41.34 L543.96 41.30 L544.30 41.26 L544.64 41.23 L544.98 41.19 L545.32 41.15 L545.66 41.12 L546.00 41.08 L546.34 41.04 L546.68 41.01 L547.02 40.97 L547.36 40.94 L547.70 40.90 L548.05 40.86 L548.39 40.83 L548.73 40.79 L549.07 40.76 L549.41 40.72 L549.75 40.69 L550.09 40.65 L550.43 40.62 L550.77 40.58 L551.11 40.55 L551.45 40.51 L551.79 40.48 L552.13 40.44 L552.47 40.41 L552.81 40.37 L553.15 40.34 L553.49 40.30 L553.83 40.27 L554.17 40.23 L554.51 40.20 L554.85 40.17 L555.19 40.13 L555.53 40.10 L555.87 40.06 L556.21 40.03 L556.55 40.00 L556.89 39.96 L557.23 39.93 L557.57 39.90 L557.91 39.86 L558.25 39.83 L558.59 39.80 L558.93 39.76 L559.27 39.73 L559.61 39.70 L559.95 39.67 L560.30 39.63 L560.64 39.60 L560.98 39.57 L561.32 39.54 L561.66 39.50 L562.00 39.47 L562.34 39.44 L562.68 39.41 L563.02 39.38 L563.36 39.34 L563.70 39.31 L564.04 39.28 L564.38 39.25 L564.72 39.22 L565.06 39.19 L565.40 39.15 L565.74 39.12 L566.08 39.09 L566.42 39.06 L566.76 39.03 L567.10 39.00 L567.44 38.97 L567.78 38.94 L568.12 38.91 L568.46 38.88 L568.80 38.85 L569.14 38.82 L569.48 38.79 L569.82 38.75 L570.16 38.72 L570.50 38.69 L570.84 38.66 L571.18 38.63 L571.52 38.60 L571.86 38.57 L572.20 38.55 L572.54 38.52 L572.89 38.49 L573.23 38.46 L573.57 38.43 L573.91 38.40 L574.25 38.37 L574.59 38.34 L574.93 38.31 L575.27 38.28 L575.61 38.25 L575.95 38.22 L576.29 38.19 L576.63 38.17 L576.97 38.14 L577.31 38.11 L577.65 38.08 L577.99 38.05 L578.33 38.02 L578.67 37.99 L579.01 37.97 L579.35 37.94 L579.69 37.91 L580.03 37.88 L580.37 37.85 L580.71 37.83 L581.05 37.80 L581.39 37.77 L581.73 37.74 L582.07 37.72 L582.41 37.69 L582.75 37.66 L583.09 37.63 L583.43 37.61 L583.77 37.58 L584.11 37.55 L584.45 37.52 L584.79 37.50 L585.13 37.47 L585.48 37.44 L585.82 37.42 L586.16 37.39 L586.50 37.36 L586.84 37.34 L587.18 37.31 L587.52 37.28 L587.86 37.26 L588.20 37.23 L588.54 37.20 L588.88 37.18 L589.22 37.15 L589.56 37.13 L589.90 37.10 L590.24 37.07 L590.58 37.05 L590.92 37.02 L591.26 37.00 L591.60 36.97 L591.94 36.94 L592.28 36.92 L592.62 36.89 L592.96 36.87 L593.30 36.84 L593.64 36.82 L593.98 36.79 L594.32 36.77 L594.66 36.74 L595.00 36.72 L595.34 36.69 L595.68 36.67 L596.02 36.64 L596.36 36.62 L596.70 36.59 L597.04 36.57 L597.38 36.54 L597.73 36.52 L598.07 36.49 L598.41 36.47 L598.75 36.45 L599.09 36.42 L599.43 36.40 L599.77 36.37 L600.11 36.35 L600.45 36.32 L600.79 36.30 L601.13 36.28 L601.47 36.25 L601.81 36.23 L602.15 36.20 L602.49 36.18 L602.83 36.16 L603.17 36.13 L603.51 36.11 L603.85 36.09" stroke="#000" stroke-width="1.9" stroke-dasharray="1.9 3.05"/>
<path d="M396.35 221.12 L396.61 204.81 L396.88 190.19 L397.14 177.08 L397.40 165.31 L397.66 154.73 L397.92 145.22 L398.19 136.67 L398.45 128.96 L398.71 122.02 L398.97 115.76 L399.23 110.12 L399.50 105.03 L399.76 100.43 L400.02 96.28 L400.28 92.54 L400.54 89.16 L400.81 86.11 L401.07 83.36 L401.33 80.87 L401.59 78.63 L401.85 76.61 L402.12 74.79 L402.38 73.15 L402.64 71.67 L402.90 70.34 L403.16 69.15 L403.43 68.08 L403.69 67.12 L403.95 66.26 L404.21 65.50 L404.47 64.81 L404.74 64.21 L405.00 63.67 L405.26 63.20 L405.52 62.78 L405.78 62.41 L406.05 62.09 L406.31 61.82 L406.57 61.58 L406.83 61.38 L407.09 61.20 L407.36 61.06 L407.62 60.95 L407.88 60.85 L408.14 60.78 L408.40 60.73 L408.67 60.69 L408.93 60.67 L409.19 60.66 L409.45 60.67 L409.71 60.68 L409.98 60.71 L410.24 60.74 L410.50 60.79 L410.76 60.83 L411.02 60.89 L411.29 60.95 L411.55 61.01 L411.81 61.08 L412.07 61.15 L412.33 61.22 L412.60 61.30 L412.86 61.37 L413.12 61.45 L413.38 61.53 L413.64 61.61 L413.90 61.69 L414.17 61.77 L414.43 61.84 L414.69 61.92 L414.95 62.00 L415.21 62.07 L415.48 62.15 L415.74 62.22 L416.00 62.29 L416.26 62.37 L416.52 62.43 L416.79 62.50 L417.05 62.57 L417.31 62.63 L417.57 62.69 L417.83 62.75 L418.10 62.81 L418.36 62.86 L418.62 62.91 L418.88 62.97 L419.14 63.01 L419.41 63.06 L419.67 63.10 L419.93 63.15 L420.19 63.19 L420.45 63.22 L420.72 63.26 L420.98 63.29 L421.24 63.32 L421.50 63.35 L421.76 63.38 L422.03 63.40 L422.29 63.43 L422.55 63.45 L422.81 63.46 L423.07 63.48 L423.34 63.50 L423.60 63.51 L423.86 63.52 L424.12 63.53 L424.38 63.53 L424.65 63.54 L424.91 63.54 L425.17 63.54 L425.43 63.54 L425.69 63.54 L425.96 63.54 L426.22 63.53 L426.48 63.52 L426.74 63.51 L427.00 63.50 L427.27 63.49 L427.53 63.48 L427.79 63.46 L428.05 63.45 L428.31 63.43 L428.58 63.41 L428.84 63.39 L429.10 63.37 L429.36 63.34 L429.62 63.32 L429.89 63.29 L430.15 63.27 L430.41 63.24 L430.67 63.21 L430.93 63.18 L431.20 63.15 L431.46 63.11 L431.72 63.08 L431.98 63.05 L432.24 63.01 L432.51 62.97 L432.77 62.94 L433.03 62.90 L433.29 62.86 L433.55 62.82 L433.82 62.78 L434.08 62.73 L434.34 62.69 L434.60 62.65 L434.86 62.60 L435.13 62.56 L435.39 62.51 L435.65 62.46 L435.91 62.42 L436.17 62.37 L436.44 62.32 L436.70 62.27 L436.96 62.22 L437.22 62.17 L437.48 62.12 L437.75 62.07 L438.01 62.01 L438.27 61.96 L438.53 61.91 L438.79 61.85 L439.06 61.80 L439.32 61.74 L439.58 61.69 L439.84 61.63 L440.10 61.57 L440.37 61.52 L440.63 61.46 L440.89 61.40 L441.15 61.34 L441.41 61.28 L441.68 61.23 L441.94 61.17 L442.20 61.11 L442.46 61.05 L442.72 60.99 L442.99 60.93 L443.25 60.87 L443.51 60.80 L443.77 60.74 L444.03 60.68 L444.30 60.62 L444.56 60.56 L444.82 60.49 L445.08 60.43 L445.34 60.37 L445.61 60.31 L445.87 60.24 L446.13 60.18 L446.39 60.12 L446.65 60.05 L446.92 59.99 L447.18 59.92 L447.44 59.86 L447.70 59.80 L447.96 59.73 L448.23 59.67 L448.49 59.60 L448.75 59.54 L449.01 59.47 L449.27 59.41 L449.54 59.34 L449.80 59.28 L450.06 59.21 L450.32 59.14 L450.58 59.08 L450.85 59.01 L451.11 58.95 L451.37 58.88 L451.63 58.82 L451.89 58.75 L452.16 58.68 L452.42 58.62 L452.68 58.55 L452.94 58.49 L453.20 58.42 L453.47 58.35 L453.73 58.29 L453.99 58.22 L454.25 58.16 L454.51 58.09 L454.78 58.02 L455.04 57.96 L455.30 57.89 L455.56 57.82 L455.82 57.76 L456.09 57.69 L456.35 57.63 L456.61 57.56 L456.87 57.49 L457.13 57.43 L457.40 57.36 L457.66 57.30 L457.92 57.23 L458.18 57.17 L458.44 57.10 L458.71 57.03 L458.97 56.97 L459.23 56.90 L459.49 56.84 L459.75 56.77 L460.02 56.71 L460.28 56.64 L460.54 56.58 L460.80 56.51 L461.06 56.45 L461.33 56.38 L461.59 56.32 L461.85 56.25 L462.11 56.19 L462.37 56.12 L462.64 56.06 L462.90 55.99 L463.16 55.93 L463.42 55.86 L463.68 55.80 L463.95 55.74 L464.21 55.67 L464.47 55.61 L464.73 55.54 L464.99 55.48 L465.26 55.42 L465.52 55.35 L465.78 55.29 L466.04 55.23 L466.30 55.16 L466.57 55.10 L466.83 55.04 L467.09 54.97 L467.35 54.91 L467.61 54.85 L467.88 54.79 L468.14 54.72 L468.40 54.66 L468.66 54.60 L468.92 54.54 L469.19 54.47 L469.45 54.41 L469.71 54.35 L469.97 54.29 L470.23 54.23 L470.50 54.17 L470.76 54.10 L471.02 54.04 L471.28 53.98 L471.54 53.92 L471.81 53.86 L472.07 53.80 L472.33 53.74 L472.59 53.68 L472.85 53.62 L473.12 53.56 L473.38 53.50 L473.64 53.44 L473.90 53.38 L474.16 53.32 L474.43 53.26 L474.69 53.20 L474.95 53.14 L475.21 53.08 L475.47 53.02 L475.74 52.96 L476.00 52.90 L476.26 52.85 L476.52 52.79 L476.78 52.73 L477.05 52.67 L477.31 52.61 L477.57 52.55 L477.83 52.50 L478.09 52.44 L478.36 52.38 L478.62 52.32 L478.88 52.27 L479.14 52.21 L479.40 52.15 L479.67 52.10 L479.93 52.04 L480.19 51.98 L480.45 51.93 L480.71 51.87 L480.98 51.81 L481.24 51.76 L481.50 51.70 L481.76 51.65 L482.02 51.59 L482.29 51.53 L482.55 51.48 L482.81 51.42 L483.07 51.37 L483.33 51.31 L483.60 51.26 L483.86 51.20 L484.12 51.15 L484.38 51.10 L484.64 51.04 L484.91 50.99 L485.17 50.93 L485.43 50.88 L485.69 50.82 L485.95 50.77 L486.22 50.72 L486.48 50.66 L486.74 50.61 L487.00 50.56 L487.26 50.50 L487.53 50.45 L487.79 50.40 L488.05 50.35 L488.31 50.29 L488.57 50.24 L488.84 50.19 L489.10 50.14 L489.36 50.09 L489.62 50.03 L489.88 49.98 L490.14 49.93 L490.41 49.88 L490.67 49.83 L490.93 49.78 L491.19 49.73 L491.45 49.68 L491.72 49.62 L491.98 49.57 L492.24 49.52 L492.50 49.47 L492.76 49.42 L493.03 49.37 L493.29 49.32 L493.55 49.27 L493.81 49.22 L494.07 49.17 L494.34 49.12 L494.60 49.07 L494.86 49.03 L495.12 48.98 L495.38 48.93 L495.65 48.88 L495.91 48.83 L496.17 48.78 L496.43 48.73 L496.69 48.68 L496.96 48.64 L497.22 48.59 L497.48 48.54 L497.74 48.49 L498.00 48.45 L498.27 48.40 L498.53 48.35 L498.79 48.30 L499.05 48.26 L499.31 48.21 L499.58 48.16 L499.84 48.11 L500.10 48.07 L500.36 48.02 L500.62 47.98 L500.89 47.93 L501.15 47.88 L501.41 47.84 L501.67 47.79 L501.93 47.74 L502.20 47.70 L502.46 47.65 L502.72 47.61 L502.98 47.56 L503.24 47.52 L503.51 47.47 L503.77 47.43 L504.03 47.38 L504.29 47.34 L504.55 47.29 L504.82 47.25 L505.08 47.20 L505.34 47.16 L505.60 47.11 L505.86 47.07 L506.13 47.03 L506.39 46.98 L506.65 46.94 L506.91 46.90 L507.17 46.85 L507.44 46.81 L507.70 46.77 L507.96 46.72 L508.22 46.68 L508.48 46.64 L508.75 46.59 L509.01 46.55 L509.27 46.51 L509.53 46.47 L509.79 46.42 L510.06 46.38 L510.32 46.34 L510.58 46.30 L510.84 46.25 L511.10 46.21 L511.37 46.17 L511.63 46.13 L511.89 46.09 L512.15 46.05 L512.41 46.00 L512.68 45.96 L512.94 45.92 L513.20 45.88 L513.46 45.84 L513.72 45.80 L513.99 45.76 L514.25 45.72 L514.51 45.68 L514.77 45.64 L515.03 45.60 L515.30 45.56 L515.56 45.52 L515.82 45.48 L516.08 45.44 L516.34 45.40 L516.61 45.36 L516.87 45.32 L517.13 45.28 L517.39 45.24 L517.65 45.20 L517.92 45.16 L518.18 45.12 L518.44 45.08 L518.70 45.04 L518.96 45.01 L519.23 44.97 L519.49 44.93 L519.75 44.89 L520.01 44.85 L520.27 44.81 L520.54 44.77 L520.80 44.74 L521.06 44.70 L521.32 44.66 L521.58 44.62 L521.85 44.59 L522.11 44.55 L522.37 44.51 L522.63 44.47 L522.89 44.44 L523.16 44.40 L523.42 44.36 L523.68 44.32 L523.94 44.29 L524.20 44.25 L524.47 44.21 L524.73 44.18 L524.99 44.14 L525.25 44.10 L525.51 44.07 L525.78 44.03 L526.04 44.00 L526.30 43.96 L526.56 43.92 L526.82 43.89 L527.09 43.85 L527.35 43.82 L527.61 43.78 L527.87 43.74 L528.13 43.71 L528.40 43.67 L528.66 43.64 L528.92 43.60 L529.18 43.57 L529.44 43.53 L529.71 43.50 L529.97 43.46 L530.23 43.43 L530.49 43.39 L530.75 43.36 L531.02 43.32 L531.28 43.29 L531.54 43.26 L531.80 43.22 L532.06 43.19 L532.33 43.15 L532.59 43.12 L532.85 43.09 L533.11 43.05 L533.37 43.02 L533.64 42.98 L533.90 42.95 L534.16 42.92 L534.42 42.88 L534.68 42.85 L534.95 42.82 L535.21 42.78 L535.47 42.75 L535.73 42.72 L535.99 42.68 L536.26 42.65 L536.52 42.62 L536.78 42.59 L537.04 42.55 L537.30 42.52 L537.57 42.49 L537.83 42.46 L538.09 42.42 L538.35 42.39 L538.61 42.36 L538.88 42.33 L539.14 42.30 L539.40 42.26 L539.66 42.23 L539.92 42.20 L540.19 42.17 L540.45 42.14 L540.71 42.11 L540.97 42.07 L541.23 42.04 L541.50 42.01 L541.76 41.98 L542.02 41.95 L542.28 41.92 L542.54 41.89 L542.81 41.86 L543.07 41.82 L543.33 41.79 L543.59 41.76 L543.85 41.73 L544.12 41.70 L544.38 41.67 L544.64 41.64 L544.90 41.61 L545.16 41.58 L545.43 41.55 L545.69 41.52 L545.95 41.49 L546.21 41.46 L546.47 41.43 L546.74 41.40 L547.00 41.37 L547.26 41.34 L547.52 41.31 L547.78 41.28 L548.05 41.25 L548.31 41.22 L548.57 41.19 L548.83 41.16 L549.09 41.13 L549.36 41.11 L549.62 41.08 L549.88 41.05 L550.14 41.02 L550.40 40.99 L550.67 40.96 L550.93 40.93 L551.19 40.90 L551.45 40.87 L551.71 40.85 L551.98 40.82 L552.24 40.79 L552.50 40.76 L552.76 40.73 L553.02 40.70 L553.29 40.68 L553.55 40.65 L553.81 40.62 L554.07 40.59 L554.33 40.56 L554.60 40.54 L554.86 40.51 L555.12 40.48 L555.38 40.45 L555.64 40.43 L555.91 40.40 L556.17 40.37 L556.43 40.34 L556.69 40.32 L556.95 40.29 L557.22 40.26 L557.48 40.23 L557.74 40.21 L558.00 40.18 L558.26 40.15 L558.53 40.13 L558.79 40.10 L559.05 40.07 L559.31 40.05 L559.57 40.02 L559.84 39.99 L560.10 39.97 L560.36 39.94 L560.62 39.91 L560.88 39.89 L561.15 39.86 L561.41 39.83 L561.67 39.81 L561.93 39.78 L562.19 39.76 L562.46 39.73 L562.72 39.70 L562.98 39.68 L563.24 39.65 L563.50 39.63 L563.77 39.60 L564.03 39.58 L564.29 39.55 L564.55 39.52 L564.81 39.50 L565.08 39.47 L565.34 39.45 L565.60 39.42 L565.86 39.40 L566.12 39.37 L566.38 39.35 L566.65 39.32 L566.91 39.30 L567.17 39.27 L567.43 39.25 L567.69 39.22 L567.96 39.20 L568.22 39.17 L568.48 39.15 L568.74 39.12 L569.00 39.10 L569.27 39.07 L569.53 39.05 L569.79 39.03 L570.05 39.00 L570.31 38.98 L570.58 38.95 L570.84 38.93 L571.10 38.90 L571.36 38.88 L571.62 38.86 L571.89 38.83 L572.15 38.81 L572.41 38.78 L572.67 38.76 L572.93 38.74 L573.20 38.71 L573.46 38.69 L573.72 38.66 L573.98 38.64 L574.24 38.62 L574.51 38.59 L574.77 38.57 L575.03 38.55 L575.29 38.52 L575.55 38.50 L575.82 38.48 L576.08 38.45 L576.34 38.43 L576.60 38.41 L576.86 38.38 L577.13 38.36 L577.39 38.34 L577.65 38.32 L577.91 38.29 L578.17 38.27 L578.44 38.25 L578.70 38.22 L578.96 38.20 L579.22 38.18 L579.48 38.16 L579.75 38.13 L580.01 38.11 L580.27 38.09 L580.53 38.07 L580.79 38.04 L581.06 38.02 L581.32 38.00 L581.58 37.98 L581.84 37.96 L582.10 37.93 L582.37 37.91 L582.63 37.89 L582.89 37.87 L583.15 37.85 L583.41 37.82 L583.68 37.80 L583.94 37.78 L584.20 37.76 L584.46 37.74 L584.72 37.72 L584.99 37.69 L585.25 37.67 L585.51 37.65 L585.77 37.63 L586.03 37.61 L586.30 37.59 L586.56 37.56 L586.82 37.54 L587.08 37.52 L587.34 37.50 L587.61 37.48 L587.87 37.46 L588.13 37.44 L588.39 37.42 L588.65 37.40 L588.92 37.37 L589.18 37.35 L589.44 37.33 L589.70 37.31 L589.96 37.29 L590.23 37.27 L590.49 37.25 L590.75 37.23 L591.01 37.21 L591.27 37.19 L591.54 37.17 L591.80 37.15 L592.06 37.13 L592.32 37.11 L592.58 37.09 L592.85 37.07 L593.11 37.05 L593.37 37.02 L593.63 37.00 L593.89 36.98 L594.16 36.96 L594.42 36.94 L594.68 36.92 L594.94 36.90 L595.20 36.88 L595.47 36.86 L595.73 36.84 L595.99 36.82 L596.25 36.80 L596.51 36.79 L596.78 36.77 L597.04 36.75 L597.30 36.73 L597.56 36.71 L597.82 36.69 L598.09 36.67 L598.35 36.65 L598.61 36.63 L598.87 36.61 L599.13 36.59 L599.40 36.57 L599.66 36.55 L599.92 36.53 L600.18 36.51 L600.44 36.49 L600.71 36.47 L600.97 36.46 L601.23 36.44 L601.49 36.42 L601.75 36.40 L602.02 36.38 L602.28 36.36 L602.54 36.34 L602.80 36.32 L603.06 36.30 L603.33 36.28 L603.59 36.27 L603.85 36.25" stroke="#000" stroke-width="0.55" stroke-dasharray="6.0 1.6"/>
</g>
<circle cx="383.50" cy="122.85" r="3.4" fill="#008000"/>
<circle cx="411.04" cy="101.73" r="3.4" fill="#008000"/>
<circle cx="438.59" cy="79.54" r="3.4" fill="#008000"/>
<circle cx="493.68" cy="54.31" r="3.4" fill="#008000"/>
<g font-family="Liberation Serif, serif" font-size="14.5" fill="#1c1c1c">
<text x="383.50" y="201.65" text-anchor="middle">0</text>
<text x="438.59" y="201.65" text-anchor="middle">1</text>
<text x="493.68" y="201.65" text-anchor="middle">2</text>
<text x="548.76" y="201.65" text-anchor="middle">3</text>
<text x="603.85" y="201.65" text-anchor="middle">4</text>
<text x="374.70" y="187.85" text-anchor="end">0.2</text>
<text x="374.70" y="146.49" text-anchor="end">0.4</text>
<text x="374.70" y="105.12" text-anchor="end">0.6</text>
<text x="374.70" y="63.76" text-anchor="end">0.8</text>
<text x="374.70" y="22.40" text-anchor="end">1.0</text>
</g>
<rect x="68.50" y="253.90" width="220.35" height="165.35" fill="none" stroke="#000" stroke-width="1"/>
<path d="M90.53 419.25v-2.60 M90.53 253.90v2.60 M112.57 419.25v-5.20 M112.57 253.90v5.20 M134.61 419.25v-2.60 M134.61 253.90v2.60 M156.64 419.25v-5.20 M156.64 253.90v5.20 M178.68 419.25v-2.60 M178.68 253.90v2.60 M200.71 419.25v-5.20 M200.71 253.90v5.20 M222.75 419.25v-2.60 M222.75 253.90v2.60 M244.78 419.25v-5.20 M244.78 253.90v5.20 M266.82 419.25v-2.60 M266.82 253.90v2.60 M68.50 406.53h5.20 M288.85 406.53h-5.20 M68.50 393.81h2.60 M288.85 393.81h-2.60 M68.50 381.09h5.20 M288.85 381.09h-5.20 M68.50 368.37h2.60 M288.85 368.37h-2.60 M68.50 355.65h5.20 M288.85 355.65h-5.20 M68.50 342.93h2.60 M288.85 342.93h-2.60 M68.50 330.22h5.20 M288.85 330.22h-5.20 M68.50 317.50h2.60 M288.85 317.50h-2.60 M68.50 304.78h5.20 M288.85 304.78h-5.20 M68.50 292.06h2.60 M288.85 292.06h-2.60 M68.50 279.34h5.20 M288.85 279.34h-5.20 M68.50 266.62h2.60 M288.85 266.62h-2.60" stroke="#000" stroke-width="0.8" fill="none"/>
<g clip-path="url(#cpc)" fill="none">
<path d="M68.50 406.53 L68.87 406.53 L69.24 406.52 L69.60 406.51 L69.97 406.50 L70.34 406.49 L70.71 406.47 L71.08 406.44 L71.44 406.42 L71.81 406.39 L72.18 406.35 L72.55 406.32 L72.91 406.27 L73.28 406.23 L73.65 406.18 L74.02 406.13 L74.39 406.07 L74.75 406.02 L75.12 405.95 L75.49 405.89 L75.86 405.82 L76.23 405.74 L76.59 405.67 L76.96 405.58 L77.33 405.50 L77.70 405.41 L78.06 405.32 L78.43 405.23 L78.80 405.13 L79.17 405.02 L79.54 404.92 L79.90 404.81 L80.27 404.69 L80.64 404.58 L81.01 404.45 L81.38 404.33 L81.74 404.20 L82.11 404.07 L82.48 403.93 L82.85 403.79 L83.21 403.65 L83.58 403.50 L83.95 403.35 L84.32 403.20 L84.69 403.04 L85.05 402.88 L85.42 402.71 L85.79 402.54 L86.16 402.37 L86.53 402.19 L86.89 402.01 L87.26 401.83 L87.63 401.64 L88.00 401.45 L88.36 401.26 L88.73 401.06 L89.10 400.86 L89.47 400.65 L89.84 400.44 L90.20 400.23 L90.57 400.01 L90.94 399.79 L91.31 399.57 L91.68 399.34 L92.04 399.11 L92.41 398.88 L92.78 398.64 L93.15 398.40 L93.51 398.15 L93.88 397.90 L94.25 397.65 L94.62 397.40 L94.99 397.14 L95.35 396.88 L95.72 396.61 L96.09 396.34 L96.46 396.07 L96.83 395.79 L97.19 395.51 L97.56 395.23 L97.93 394.94 L98.30 394.65 L98.66 394.36 L99.03 394.06 L99.40 393.76 L99.77 393.46 L100.14 393.16 L100.50 392.85 L100.87 392.53 L101.24 392.22 L101.61 391.90 L101.98 391.58 L102.34 391.25 L102.71 390.93 L103.08 390.60 L103.45 390.26 L103.81 389.92 L104.18 389.58 L104.55 389.24 L104.92 388.90 L105.29 388.55 L105.65 388.20 L106.02 387.84 L106.39 387.48 L106.76 387.12 L107.13 386.76 L107.49 386.40 L107.86 386.03 L108.23 385.66 L108.60 385.29 L108.96 384.91 L109.33 384.53 L109.70 384.15 L110.07 383.77 L110.44 383.38 L110.80 382.99 L111.17 382.60 L111.54 382.21 L111.91 381.81 L112.28 381.42 L112.64 381.02 L113.01 380.62 L113.38 380.21 L113.75 379.81 L114.12 379.40 L114.48 378.99 L114.85 378.58 L115.22 378.16 L115.59 377.75 L115.95 377.33 L116.32 376.91 L116.69 376.49 L117.06 376.06 L117.43 375.64 L117.79 375.21 L118.16 374.79 L118.53 374.36 L118.90 373.93 L119.27 373.49 L119.63 373.06 L120.00 372.62 L120.37 372.19 L120.74 371.75 L121.10 371.31 L121.47 370.87 L121.84 370.43 L122.21 369.98 L122.58 369.54 L122.94 369.10 L123.31 368.65 L123.68 368.20 L124.05 367.76 L124.42 367.31 L124.78 366.86 L125.15 366.41 L125.52 365.96 L125.89 365.51 L126.25 365.05 L126.62 364.60 L126.99 364.15 L127.36 363.69 L127.73 363.24 L128.09 362.79 L128.46 362.33 L128.83 361.88 L129.20 361.42 L129.57 360.96 L129.93 360.51 L130.30 360.05 L130.67 359.60 L131.04 359.14 L131.40 358.68 L131.77 358.23 L132.14 357.77 L132.51 357.32 L132.88 356.86 L133.24 356.41 L133.61 355.95 L133.98 355.50 L134.35 355.04 L134.72 354.59 L135.08 354.14 L135.45 353.68 L135.82 353.23 L136.19 352.78 L136.55 352.33 L136.92 351.88 L137.29 351.43 L137.66 350.98 L138.03 350.53 L138.39 350.08 L138.76 349.63 L139.13 349.19 L139.50 348.74 L139.87 348.30 L140.23 347.86 L140.60 347.41 L140.97 346.97 L141.34 346.53 L141.70 346.10 L142.07 345.66 L142.44 345.22 L142.81 344.79 L143.18 344.35 L143.54 343.92 L143.91 343.49 L144.28 343.06 L144.65 342.63 L145.02 342.21 L145.38 341.78 L145.75 341.36 L146.12 340.94 L146.49 340.52 L146.85 340.10 L147.22 339.68 L147.59 339.26 L147.96 338.85 L148.33 338.44 L148.69 338.03 L149.06 337.62 L149.43 337.21 L149.80 336.81 L150.17 336.41 L150.53 336.00 L150.90 335.61 L151.27 335.21 L151.64 334.81 L152.00 334.42 L152.37 334.03 L152.74 333.64 L153.11 333.25 L153.48 332.87 L153.84 332.48 L154.21 332.10 L154.58 331.72 L154.95 331.35 L155.32 330.97 L155.68 330.60 L156.05 330.23 L156.42 329.86 L156.79 329.50 L157.16 329.13 L157.52 328.77 L157.89 328.41 L158.26 328.06 L158.63 327.70 L158.99 327.35 L159.36 327.00 L159.73 326.65 L160.10 326.31 L160.47 325.96 L160.83 325.62 L161.20 325.29 L161.57 324.95 L161.94 324.62 L162.31 324.29 L162.67 323.96 L163.04 323.63 L163.41 323.31 L163.78 322.99 L164.14 322.67 L164.51 322.35 L164.88 322.04 L165.25 321.73 L165.62 321.42 L165.98 321.11 L166.35 320.81 L166.72 320.51 L167.09 320.21 L167.46 319.91 L167.82 319.62 L168.19 319.33 L168.56 319.04 L168.93 318.75 L169.29 318.47 L169.66 318.19 L170.03 317.91 L170.40 317.63 L170.77 317.36 L171.13 317.09 L171.50 316.82 L171.87 316.55 L172.24 316.29 L172.61 316.03 L172.97 315.77 L173.34 315.51 L173.71 315.26 L174.08 315.01 L174.44 314.76 L174.81 314.51 L175.18 314.27 L175.55 314.03 L175.92 313.79 L176.28 313.55 L176.65 313.32 L177.02 313.09 L177.39 312.86 L177.76 312.63 L178.12 312.40 L178.49 312.18 L178.86 311.96 L179.23 311.75 L179.59 311.53 L179.96 311.32 L180.33 311.11 L180.70 310.90 L181.07 310.70 L181.43 310.49 L181.80 310.29 L182.17 310.09 L182.54 309.90 L182.91 309.70 L183.27 309.51 L183.64 309.32 L184.01 309.14 L184.38 308.95 L184.74 308.77 L185.11 308.59 L185.48 308.41 L185.85 308.24 L186.22 308.06 L186.58 307.89 L186.95 307.72 L187.32 307.56 L187.69 307.39 L188.06 307.23 L188.42 307.07 L188.79 306.91 L189.16 306.76 L189.53 306.60 L189.89 306.45 L190.26 306.30 L190.63 306.15 L191.00 306.01 L191.37 305.87 L191.73 305.72 L192.10 305.58 L192.47 305.45 L192.84 305.31 L193.21 305.18 L193.57 305.05 L193.94 304.92 L194.31 304.79 L194.68 304.67 L195.04 304.54 L195.41 304.42 L195.78 304.30 L196.15 304.19 L196.52 304.07 L196.88 303.96 L197.25 303.84 L197.62 303.73 L197.99 303.63 L198.36 303.52 L198.72 303.42 L199.09 303.31 L199.46 303.21 L199.83 303.11 L200.19 303.02 L200.56 302.92 L200.93 302.83 L201.30 302.73 L201.67 302.64 L202.03 302.56 L202.40 302.47 L202.77 302.38 L203.14 302.30 L203.51 302.22 L203.87 302.14 L204.24 302.06 L204.61 301.98 L204.98 301.91 L205.35 301.83 L205.71 301.76 L206.08 301.69 L206.45 301.62 L206.82 301.55 L207.18 301.49 L207.55 301.42 L207.92 301.36 L208.29 301.30 L208.66 301.24 L209.02 301.18 L209.39 301.12 L209.76 301.06 L210.13 301.01 L210.50 300.96 L210.86 300.90 L211.23 300.85 L211.60 300.81 L211.97 300.76 L212.33 300.71 L212.70 300.67 L213.07 300.62 L213.44 300.58 L213.81 300.54 L214.17 300.50 L214.54 300.46 L214.91 300.43 L215.28 300.39 L215.65 300.36 L216.01 300.32 L216.38 300.29 L216.75 300.26 L217.12 300.23 L217.48 300.20 L217.85 300.17 L218.22 300.15 L218.59 300.12 L218.96 300.10 L219.32 300.08 L219.69 300.05 L220.06 300.03 L220.43 300.01 L220.80 300.00 L221.16 299.98 L221.53 299.96 L221.90 299.95 L222.27 299.93 L222.63 299.92 L223.00 299.91 L223.37 299.90 L223.74 299.89 L224.11 299.88 L224.47 299.87 L224.84 299.86 L225.21 299.86 L225.58 299.85 L225.95 299.85 L226.31 299.85 L226.68 299.84 L227.05 299.84 L227.42 299.84 L227.78 299.84 L228.15 299.84 L228.52 299.85 L228.89 299.85 L229.26 299.85 L229.62 299.86 L229.99 299.86 L230.36 299.87 L230.73 299.88 L231.10 299.89 L231.46 299.90 L231.83 299.91 L232.20 299.92 L232.57 299.93 L232.93 299.94 L233.30 299.95 L233.67 299.97 L234.04 299.98 L234.41 300.00 L234.77 300.01 L235.14 300.03 L235.51 300.05 L235.88 300.06 L236.25 300.08 L236.61 300.10 L236.98 300.12 L237.35 300.14 L237.72 300.16 L238.08 300.19 L238.45 300.21 L238.82 300.23 L239.19 300.26 L239.56 300.28 L239.92 300.31 L240.29 300.33 L240.66 300.36 L241.03 300.39 L241.40 300.41 L241.76 300.44 L242.13 300.47 L242.50 300.50 L242.87 300.53 L243.23 300.56 L243.60 300.59 L243.97 300.62 L244.34 300.66 L244.71 300.69 L245.07 300.72 L245.44 300.76 L245.81 300.79 L246.18 300.83 L246.55 300.86 L246.91 300.90 L247.28 300.93 L247.65 300.97 L248.02 301.01 L248.39 301.04 L248.75 301.08 L249.12 301.12 L249.49 301.16 L249.86 301.20 L250.22 301.24 L250.59 301.28 L250.96 301.32 L251.33 301.36 L251.70 301.40 L252.06 301.45 L252.43 301.49 L252.80 301.53 L253.17 301.58 L253.54 301.62 L253.90 301.66 L254.27 301.71 L254.64 301.75 L255.01 301.80 L255.37 301.84 L255.74 301.89 L256.11 301.94 L256.48 301.98 L256.85 302.03 L257.21 302.08 L257.58 302.13 L257.95 302.17 L258.32 302.22 L258.69 302.27 L259.05 302.32 L259.42 302.37 L259.79 302.42 L260.16 302.47 L260.52 302.52 L260.89 302.57 L261.26 302.62 L261.63 302.67 L262.00 302.72 L262.36 302.78 L262.73 302.83 L263.10 302.88 L263.47 302.93 L263.84 302.99 L264.20 303.04 L264.57 303.09 L264.94 303.15 L265.31 303.20 L265.67 303.25 L266.04 303.31 L266.41 303.36 L266.78 303.42 L267.15 303.47 L267.51 303.53 L267.88 303.58 L268.25 303.64 L268.62 303.70 L268.99 303.75 L269.35 303.81 L269.72 303.86 L270.09 303.92 L270.46 303.98 L270.82 304.04 L271.19 304.09 L271.56 304.15 L271.93 304.21 L272.30 304.27 L272.66 304.32 L273.03 304.38 L273.40 304.44 L273.77 304.50 L274.14 304.56 L274.50 304.62 L274.87 304.68 L275.24 304.74 L275.61 304.80 L275.97 304.86 L276.34 304.91 L276.71 304.97 L277.08 305.03 L277.45 305.10 L277.81 305.16 L278.18 305.22 L278.55 305.28 L278.92 305.34 L279.29 305.40 L279.65 305.46 L280.02 305.52 L280.39 305.58 L280.76 305.64 L281.12 305.70 L281.49 305.77 L281.86 305.83 L282.23 305.89 L282.60 305.95 L282.96 306.01 L283.33 306.08 L283.70 306.14 L284.07 306.20 L284.44 306.26 L284.80 306.33 L285.17 306.39 L285.54 306.45 L285.91 306.51 L286.27 306.58 L286.64 306.64 L287.01 306.70 L287.38 306.77 L287.75 306.83 L288.11 306.89 L288.48 306.96 L288.85 307.02" stroke="#ff0000" stroke-width="2"/>
<path d="M68.50 406.43 L68.87 406.43 L69.24 406.43 L69.60 406.43 L69.97 406.43 L70.34 406.42 L70.71 406.41 L71.08 406.41 L71.44 406.39 L71.81 406.38 L72.18 406.36 L72.55 406.34 L72.91 406.32 L73.28 406.29 L73.65 406.25 L74.02 406.22 L74.39 406.18 L74.75 406.13 L75.12 406.09 L75.49 406.03 L75.86 405.97 L76.23 405.91 L76.59 405.84 L76.96 405.77 L77.33 405.69 L77.70 405.60 L78.06 405.51 L78.43 405.42 L78.80 405.32 L79.17 405.21 L79.54 405.09 L79.90 404.97 L80.27 404.85 L80.64 404.71 L81.01 404.57 L81.38 404.43 L81.74 404.27 L82.11 404.11 L82.48 403.95 L82.85 403.77 L83.21 403.59 L83.58 403.41 L83.95 403.21 L84.32 403.01 L84.69 402.80 L85.05 402.58 L85.42 402.36 L85.79 402.13 L86.16 401.89 L86.53 401.65 L86.89 401.40 L87.26 401.14 L87.63 400.87 L88.00 400.60 L88.36 400.31 L88.73 400.03 L89.10 399.73 L89.47 399.43 L89.84 399.12 L90.20 398.80 L90.57 398.48 L90.94 398.15 L91.31 397.81 L91.68 397.46 L92.04 397.11 L92.41 396.75 L92.78 396.39 L93.15 396.01 L93.51 395.63 L93.88 395.25 L94.25 394.86 L94.62 394.46 L94.99 394.05 L95.35 393.64 L95.72 393.23 L96.09 392.80 L96.46 392.38 L96.83 391.94 L97.19 391.50 L97.56 391.06 L97.93 390.61 L98.30 390.15 L98.66 389.69 L99.03 389.23 L99.40 388.76 L99.77 388.28 L100.14 387.81 L100.50 387.32 L100.87 386.84 L101.24 386.35 L101.61 385.85 L101.98 385.35 L102.34 384.85 L102.71 384.35 L103.08 383.84 L103.45 383.33 L103.81 382.81 L104.18 382.29 L104.55 381.77 L104.92 381.25 L105.29 380.73 L105.65 380.20 L106.02 379.67 L106.39 379.14 L106.76 378.60 L107.13 378.07 L107.49 377.53 L107.86 376.99 L108.23 376.45 L108.60 375.90 L108.96 375.36 L109.33 374.82 L109.70 374.27 L110.07 373.72 L110.44 373.17 L110.80 372.62 L111.17 372.07 L111.54 371.52 L111.91 370.97 L112.28 370.42 L112.64 369.87 L113.01 369.31 L113.38 368.76 L113.75 368.21 L114.12 367.66 L114.48 367.10 L114.85 366.55 L115.22 366.00 L115.59 365.45 L115.95 364.90 L116.32 364.34 L116.69 363.79 L117.06 363.24 L117.43 362.69 L117.79 362.14 L118.16 361.60 L118.53 361.05 L118.90 360.50 L119.27 359.96 L119.63 359.41 L120.00 358.87 L120.37 358.33 L120.74 357.79 L121.10 357.25 L121.47 356.71 L121.84 356.17 L122.21 355.64 L122.58 355.11 L122.94 354.57 L123.31 354.04 L123.68 353.51 L124.05 352.99 L124.42 352.46 L124.78 351.94 L125.15 351.41 L125.52 350.89 L125.89 350.38 L126.25 349.86 L126.62 349.34 L126.99 348.83 L127.36 348.32 L127.73 347.81 L128.09 347.31 L128.46 346.80 L128.83 346.30 L129.20 345.80 L129.57 345.30 L129.93 344.80 L130.30 344.31 L130.67 343.82 L131.04 343.33 L131.40 342.84 L131.77 342.36 L132.14 341.87 L132.51 341.39 L132.88 340.91 L133.24 340.44 L133.61 339.96 L133.98 339.49 L134.35 339.02 L134.72 338.55 L135.08 338.09 L135.45 337.63 L135.82 337.17 L136.19 336.71 L136.55 336.25 L136.92 335.80 L137.29 335.34 L137.66 334.89 L138.03 334.45 L138.39 334.00 L138.76 333.56 L139.13 333.12 L139.50 332.68 L139.87 332.24 L140.23 331.81 L140.60 331.37 L140.97 330.94 L141.34 330.52 L141.70 330.09 L142.07 329.67 L142.44 329.24 L142.81 328.83 L143.18 328.41 L143.54 327.99 L143.91 327.58 L144.28 327.17 L144.65 326.76 L145.02 326.35 L145.38 325.95 L145.75 325.55 L146.12 325.15 L146.49 324.75 L146.85 324.35 L147.22 323.96 L147.59 323.57 L147.96 323.18 L148.33 322.79 L148.69 322.41 L149.06 322.02 L149.43 321.64 L149.80 321.26 L150.17 320.89 L150.53 320.51 L150.90 320.14 L151.27 319.77 L151.64 319.40 L152.00 319.03 L152.37 318.67 L152.74 318.31 L153.11 317.94 L153.48 317.59 L153.84 317.23 L154.21 316.88 L154.58 316.52 L154.95 316.17 L155.32 315.83 L155.68 315.48 L156.05 315.14 L156.42 314.79 L156.79 314.45 L157.16 314.12 L157.52 313.78 L157.89 313.45 L158.26 313.11 L158.63 312.78 L158.99 312.46 L159.36 312.13 L159.73 311.81 L160.10 311.48 L160.47 311.17 L160.83 310.85 L161.20 310.53 L161.57 310.22 L161.94 309.91 L162.31 309.60 L162.67 309.29 L163.04 308.98 L163.41 308.68 L163.78 308.37 L164.14 308.07 L164.51 307.78 L164.88 307.48 L165.25 307.18 L165.62 306.89 L165.98 306.60 L166.35 306.31 L166.72 306.03 L167.09 305.74 L167.46 305.46 L167.82 305.18 L168.19 304.90 L168.56 304.62 L168.93 304.35 L169.29 304.07 L169.66 303.80 L170.03 303.53 L170.40 303.26 L170.77 303.00 L171.13 302.73 L171.50 302.47 L171.87 302.21 L172.24 301.95 L172.61 301.69 L172.97 301.44 L173.34 301.19 L173.71 300.93 L174.08 300.69 L174.44 300.44 L174.81 300.19 L175.18 299.95 L175.55 299.71 L175.92 299.46 L176.28 299.23 L176.65 298.99 L177.02 298.75 L177.39 298.52 L177.76 298.29 L178.12 298.06 L178.49 297.83 L178.86 297.61 L179.23 297.38 L179.59 297.16 L179.96 296.94 L180.33 296.72 L180.70 296.50 L181.07 296.28 L181.43 296.07 L181.80 295.86 L182.17 295.65 L182.54 295.44 L182.91 295.23 L183.27 295.03 L183.64 294.82 L184.01 294.62 L184.38 294.42 L184.74 294.22 L185.11 294.02 L185.48 293.83 L185.85 293.63 L186.22 293.44 L186.58 293.25 L186.95 293.06 L187.32 292.87 L187.69 292.69 L188.06 292.51 L188.42 292.32 L188.79 292.14 L189.16 291.96 L189.53 291.79 L189.89 291.61 L190.26 291.43 L190.63 291.26 L191.00 291.09 L191.37 290.92 L191.73 290.75 L192.10 290.59 L192.47 290.42 L192.84 290.26 L193.21 290.10 L193.57 289.94 L193.94 289.78 L194.31 289.62 L194.68 289.46 L195.04 289.31 L195.41 289.16 L195.78 289.01 L196.15 288.86 L196.52 288.71 L196.88 288.56 L197.25 288.42 L197.62 288.27 L197.99 288.13 L198.36 287.99 L198.72 287.85 L199.09 287.71 L199.46 287.58 L199.83 287.44 L200.19 287.31 L200.56 287.18 L200.93 287.04 L201.30 286.92 L201.67 286.79 L202.03 286.66 L202.40 286.54 L202.77 286.41 L203.14 286.29 L203.51 286.17 L203.87 286.05 L204.24 285.93 L204.61 285.81 L204.98 285.70 L205.35 285.58 L205.71 285.47 L206.08 285.36 L206.45 285.25 L206.82 285.14 L207.18 285.03 L207.55 284.93 L207.92 284.82 L208.29 284.72 L208.66 284.62 L209.02 284.51 L209.39 284.41 L209.76 284.32 L210.13 284.22 L210.50 284.12 L210.86 284.03 L211.23 283.93 L211.60 283.84 L211.97 283.75 L212.33 283.66 L212.70 283.57 L213.07 283.48 L213.44 283.40 L213.81 283.31 L214.17 283.23 L214.54 283.15 L214.91 283.06 L215.28 282.98 L215.65 282.90 L216.01 282.83 L216.38 282.75 L216.75 282.67 L217.12 282.60 L217.48 282.53 L217.85 282.45 L218.22 282.38 L218.59 282.31 L218.96 282.24 L219.32 282.17 L219.69 282.11 L220.06 282.04 L220.43 281.98 L220.80 281.91 L221.16 281.85 L221.53 281.79 L221.90 281.73 L222.27 281.67 L222.63 281.61 L223.00 281.55 L223.37 281.49 L223.74 281.44 L224.11 281.38 L224.47 281.33 L224.84 281.28 L225.21 281.22 L225.58 281.17 L225.95 281.12 L226.31 281.07 L226.68 281.03 L227.05 280.98 L227.42 280.93 L227.78 280.89 L228.15 280.84 L228.52 280.80 L228.89 280.76 L229.26 280.71 L229.62 280.67 L229.99 280.63 L230.36 280.59 L230.73 280.56 L231.10 280.52 L231.46 280.48 L231.83 280.45 L232.20 280.41 L232.57 280.38 L232.93 280.34 L233.30 280.31 L233.67 280.28 L234.04 280.25 L234.41 280.22 L234.77 280.19 L235.14 280.16 L235.51 280.13 L235.88 280.10 L236.25 280.08 L236.61 280.05 L236.98 280.03 L237.35 280.00 L237.72 279.98 L238.08 279.96 L238.45 279.93 L238.82 279.91 L239.19 279.89 L239.56 279.87 L239.92 279.85 L240.29 279.83 L240.66 279.81 L241.03 279.79 L241.40 279.78 L241.76 279.76 L242.13 279.74 L242.50 279.73 L242.87 279.71 L243.23 279.70 L243.60 279.69 L243.97 279.67 L244.34 279.66 L244.71 279.65 L245.07 279.64 L245.44 279.63 L245.81 279.61 L246.18 279.60 L246.55 279.59 L246.91 279.59 L247.28 279.58 L247.65 279.57 L248.02 279.56 L248.39 279.55 L248.75 279.55 L249.12 279.54 L249.49 279.53 L249.86 279.53 L250.22 279.52 L250.59 279.52 L250.96 279.51 L251.33 279.51 L251.70 279.51 L252.06 279.50 L252.43 279.50 L252.80 279.50 L253.17 279.50 L253.54 279.49 L253.90 279.49 L254.27 279.49 L254.64 279.49 L255.01 279.49 L255.37 279.49 L255.74 279.49 L256.11 279.49 L256.48 279.49 L256.85 279.49 L257.21 279.49 L257.58 279.49 L257.95 279.49 L258.32 279.49 L258.69 279.50 L259.05 279.50 L259.42 279.50 L259.79 279.50 L260.16 279.50 L260.52 279.51 L260.89 279.51 L261.26 279.51 L261.63 279.51 L262.00 279.52 L262.36 279.52 L262.73 279.52 L263.10 279.53 L263.47 279.53 L263.84 279.53 L264.20 279.54 L264.57 279.54 L264.94 279.54 L265.31 279.55 L265.67 279.55 L266.04 279.55 L266.41 279.56 L266.78 279.56 L267.15 279.56 L267.51 279.57 L267.88 279.57 L268.25 279.57 L268.62 279.58 L268.99 279.58 L269.35 279.58 L269.72 279.58 L270.09 279.59 L270.46 279.59 L270.82 279.59 L271.19 279.59 L271.56 279.60 L271.93 279.60 L272.30 279.60 L272.66 279.60 L273.03 279.60 L273.40 279.61 L273.77 279.61 L274.14 279.61 L274.50 279.61 L274.87 279.61 L275.24 279.61 L275.61 279.61 L275.97 279.61 L276.34 279.61 L276.71 279.61 L277.08 279.60 L277.45 279.60 L277.81 279.60 L278.18 279.60 L278.55 279.60 L278.92 279.59 L279.29 279.59 L279.65 279.59 L280.02 279.58 L280.39 279.58 L280.76 279.57 L281.12 279.57 L281.49 279.56 L281.86 279.56 L282.23 279.55 L282.60 279.54 L282.96 279.54 L283.33 279.53 L283.70 279.52 L284.07 279.51 L284.44 279.50 L284.80 279.49 L285.17 279.48 L285.54 279.47 L285.91 279.46 L286.27 279.44 L286.64 279.43 L287.01 279.42 L287.38 279.40 L287.75 279.39 L288.11 279.37 L288.48 279.36 L288.85 279.34" stroke="#0000ff" stroke-width="2" stroke-dasharray="14 3.5"/>
<path d="M68.50 406.53 L68.87 406.53 L69.24 406.52 L69.60 406.51 L69.97 406.50 L70.34 406.48 L70.71 406.46 L71.08 406.44 L71.44 406.41 L71.81 406.38 L72.18 406.35 L72.55 406.31 L72.91 406.26 L73.28 406.22 L73.65 406.17 L74.02 406.12 L74.39 406.06 L74.75 406.00 L75.12 405.93 L75.49 405.86 L75.86 405.79 L76.23 405.72 L76.59 405.64 L76.96 405.55 L77.33 405.47 L77.70 405.38 L78.06 405.28 L78.43 405.18 L78.80 405.08 L79.17 404.98 L79.54 404.87 L79.90 404.76 L80.27 404.64 L80.64 404.52 L81.01 404.40 L81.38 404.27 L81.74 404.14 L82.11 404.00 L82.48 403.86 L82.85 403.72 L83.21 403.58 L83.58 403.43 L83.95 403.27 L84.32 403.12 L84.69 402.96 L85.05 402.79 L85.42 402.62 L85.79 402.45 L86.16 402.28 L86.53 402.10 L86.89 401.92 L87.26 401.73 L87.63 401.54 L88.00 401.34 L88.36 401.15 L88.73 400.95 L89.10 400.74 L89.47 400.53 L89.84 400.32 L90.20 400.10 L90.57 399.88 L90.94 399.66 L91.31 399.43 L91.68 399.20 L92.04 398.97 L92.41 398.73 L92.78 398.49 L93.15 398.24 L93.51 397.99 L93.88 397.74 L94.25 397.48 L94.62 397.22 L94.99 396.96 L95.35 396.69 L95.72 396.42 L96.09 396.15 L96.46 395.87 L96.83 395.58 L97.19 395.30 L97.56 395.01 L97.93 394.71 L98.30 394.42 L98.66 394.12 L99.03 393.81 L99.40 393.50 L99.77 393.19 L100.14 392.88 L100.50 392.56 L100.87 392.23 L101.24 391.91 L101.61 391.58 L101.98 391.24 L102.34 390.90 L102.71 390.56 L103.08 390.22 L103.45 389.87 L103.81 389.52 L104.18 389.16 L104.55 388.80 L104.92 388.44 L105.29 388.07 L105.65 387.70 L106.02 387.32 L106.39 386.94 L106.76 386.56 L107.13 386.18 L107.49 385.79 L107.86 385.39 L108.23 385.00 L108.60 384.60 L108.96 384.19 L109.33 383.78 L109.70 383.37 L110.07 382.96 L110.44 382.54 L110.80 382.11 L111.17 381.69 L111.54 381.26 L111.91 380.82 L112.28 380.39 L112.64 379.94 L113.01 379.50 L113.38 379.05 L113.75 378.60 L114.12 378.14 L114.48 377.68 L114.85 377.22 L115.22 376.75 L115.59 376.28 L115.95 375.81 L116.32 375.33 L116.69 374.85 L117.06 374.36 L117.43 373.87 L117.79 373.38 L118.16 372.88 L118.53 372.38 L118.90 371.88 L119.27 371.37 L119.63 370.86 L120.00 370.34 L120.37 369.82 L120.74 369.30 L121.10 368.78 L121.47 368.25 L121.84 367.71 L122.21 367.18 L122.58 366.63 L122.94 366.09 L123.31 365.54 L123.68 364.99 L124.05 364.43 L124.42 363.87 L124.78 363.31 L125.15 362.74 L125.52 362.17 L125.89 361.60 L126.25 361.02 L126.62 360.44 L126.99 359.85 L127.36 359.27 L127.73 358.67 L128.09 358.08 L128.46 357.48 L128.83 356.87 L129.20 356.27 L129.57 355.65 L129.93 355.04 L130.30 354.42 L130.67 353.80 L131.04 353.17 L131.40 352.54 L131.77 351.91 L132.14 351.27 L132.51 350.63 L132.88 349.99 L133.24 349.34 L133.61 348.69 L133.98 348.03 L134.35 347.37 L134.72 346.71 L135.08 346.04 L135.45 345.37 L135.82 344.70 L136.19 344.02 L136.55 343.34 L136.92 342.66 L137.29 341.97 L137.66 341.28 L138.03 340.58 L138.39 339.88 L138.76 339.18 L139.13 338.47 L139.50 337.76 L139.87 337.04 L140.23 336.33 L140.60 335.60 L140.97 334.88 L141.34 334.15 L141.70 333.42 L142.07 332.68 L142.44 331.94 L142.81 331.19 L143.18 330.45 L143.54 329.70 L143.91 328.94 L144.28 328.18 L144.65 327.42 L145.02 326.65 L145.38 325.88 L145.75 325.11 L146.12 324.33 L146.49 323.55 L146.85 322.77 L147.22 321.98 L147.59 321.19 L147.96 320.39 L148.33 319.59 L148.69 318.79 L149.06 317.98 L149.43 317.17 L149.80 316.36 L150.17 315.54 L150.53 314.72 L150.90 313.89 L151.27 313.06 L151.64 312.23 L152.00 311.39 L152.37 310.55 L152.74 309.71 L153.11 308.86 L153.48 308.01 L153.84 307.16 L154.21 306.30 L154.58 305.44 L154.95 304.57 L155.32 303.70 L155.68 302.83 L156.05 301.95 L156.42 301.07 L156.79 300.18 L157.16 299.30 L157.52 298.40 L157.89 297.51 L158.26 296.61 L158.63 295.71 L158.99 294.80 L159.36 293.89 L159.73 292.98 L160.10 292.06 L160.47 291.14 L160.83 290.21 L161.20 289.28 L161.57 288.35 L161.94 287.42 L162.31 286.48 L162.67 285.53 L163.04 284.59 L163.41 283.63 L163.78 282.68 L164.14 281.72 L164.51 280.76 L164.88 279.79 L165.25 278.82 L165.62 277.85 L165.98 276.88 L166.35 275.89 L166.72 274.91 L167.09 273.92 L167.46 272.93 L167.82 271.94 L168.19 270.94 L168.56 269.94 L168.93 268.93 L169.29 267.92 L169.66 266.91 L170.03 265.89 L170.40 264.87 L170.77 263.84 L171.13 262.81 L171.50 261.78 L171.87 260.75 L172.24 259.71 L172.61 258.66 L172.97 257.62 L173.34 256.57 L173.71 255.51 L174.08 254.45 L174.44 253.39 L174.81 252.33 L175.18 251.26 L175.55 250.19 L175.92 249.11 L176.28 248.03 L176.65 246.95 L177.02 245.86 L177.39 244.77 L177.76 243.67 L178.12 242.57 L178.49 241.47 L178.86 240.37 L179.23 239.26 L179.59 238.14 L179.96 237.03 L180.33 235.90 L180.70 234.78 L181.07 233.65 L181.43 232.52 L181.80 231.38 L182.17 230.25 L182.54 229.10 L182.91 227.96 L183.27 226.81 L183.64 225.65 L184.01 224.49 L184.38 223.33 L184.74 222.17 L185.11 221.00 L185.48 219.83 L185.85 218.65 L186.22 217.47 L186.58 216.29 L186.95 215.10 L187.32 213.91 L187.69 212.72 L188.06 211.52 L188.42 210.31 L188.79 209.11 L189.16 207.90 L189.53 206.69 L189.89 205.47" stroke="#000" stroke-width="1.9" stroke-dasharray="1.9 3.05"/>
<path d="M68.50 406.53 L68.61 406.53 L68.72 406.53 L68.83 406.53 L68.94 406.53 L69.05 406.53 L69.16 406.52 L69.27 406.52 L69.38 406.52 L69.49 406.52 L69.60 406.51 L69.71 406.51 L69.82 406.51 L69.93 406.50 L70.04 406.50 L70.15 406.50 L70.27 406.49 L70.38 406.49 L70.49 406.48 L70.60 406.47 L70.71 406.47 L70.82 406.46 L70.93 406.46 L71.04 406.45 L71.15 406.44 L71.26 406.44 L71.37 406.43 L71.48 406.42 L71.59 406.41 L71.70 406.40 L71.81 406.40 L71.92 406.39 L72.03 406.38 L72.14 406.37 L72.25 406.36 L72.36 406.35 L72.47 406.34 L72.58 406.33 L72.69 406.32 L72.80 406.31 L72.91 406.30 L73.02 406.29 L73.13 406.28 L73.24 406.27 L73.35 406.25 L73.46 406.24 L73.57 406.23 L73.68 406.22 L73.80 406.21 L73.91 406.19 L74.02 406.18 L74.13 406.17 L74.24 406.16 L74.35 406.14 L74.46 406.13 L74.57 406.12 L74.68 406.10 L74.79 406.09 L74.90 406.08 L75.01 406.06 L75.12 406.05 L75.23 406.03 L75.34 406.02 L75.45 406.00 L75.56 405.99 L75.67 405.98 L75.78 405.96 L75.89 405.95 L76.00 405.93 L76.11 405.92 L76.22 405.90 L76.33 405.88 L76.44 405.87 L76.55 405.85 L76.66 405.84 L76.77 405.82 L76.88 405.81 L76.99 405.79 L77.10 405.77 L77.21 405.76 L77.33 405.74 L77.44 405.72 L77.55 405.71 L77.66 405.69 L77.77 405.67 L77.88 405.66 L77.99 405.64 L78.10 405.62 L78.21 405.61 L78.32 405.59 L78.43 405.57 L78.54 405.56 L78.65 405.54 L78.76 405.52 L78.87 405.51 L78.98 405.49 L79.09 405.47 L79.20 405.45 L79.31 405.44 L79.42 405.42 L79.53 405.40 L79.64 405.39 L79.75 405.37 L79.86 405.35 L79.97 405.33 L80.08 405.32 L80.19 405.30 L80.30 405.28 L80.41 405.27 L80.52 405.25 L80.63 405.23 L80.74 405.21 L80.86 405.20 L80.97 405.18 L81.08 405.16 L81.19 405.15 L81.30 405.13 L81.41 405.11 L81.52 405.09 L81.63 405.08 L81.74 405.06 L81.85 405.04 L81.96 405.03 L82.07 405.01 L82.18 404.99 L82.29 404.98 L82.40 404.96 L82.51 404.94 L82.62 404.93 L82.73 404.91 L82.84 404.90 L82.95 404.88 L83.06 404.86 L83.17 404.85 L83.28 404.83 L83.39 404.82 L83.50 404.80 L83.61 404.78 L83.72 404.77 L83.83 404.75 L83.94 404.74 L84.05 404.72 L84.16 404.71 L84.27 404.69 L84.39 404.68 L84.50 404.66 L84.61 404.65 L84.72 404.63 L84.83 404.62 L84.94 404.61 L85.05 404.59 L85.16 404.58 L85.27 404.57 L85.38 404.55 L85.49 404.54 L85.60 404.53 L85.71 404.51 L85.82 404.50 L85.93 404.49 L86.04 404.47 L86.15 404.46 L86.26 404.45 L86.37 404.44 L86.48 404.43 L86.59 404.41 L86.70 404.40 L86.81 404.39 L86.92 404.38 L87.03 404.37 L87.14 404.36 L87.25 404.35 L87.36 404.34 L87.47 404.33 L87.58 404.32 L87.69 404.31 L87.80 404.30 L87.92 404.29 L88.03 404.28 L88.14 404.27 L88.25 404.27 L88.36 404.26 L88.47 404.25 L88.58 404.24 L88.69 404.23 L88.80 404.23 L88.91 404.22 L89.02 404.21 L89.13 404.21 L89.24 404.20 L89.35 404.20 L89.46 404.19 L89.57 404.19 L89.68 404.18 L89.79 404.18 L89.90 404.17 L90.01 404.17 L90.12 404.16 L90.23 404.16 L90.34 404.16 L90.45 404.15 L90.56 404.15 L90.67 404.15 L90.78 404.15 L90.89 404.14 L91.00 404.14 L91.11 404.14 L91.22 404.14 L91.33 404.14 L91.45 404.14 L91.56 404.14 L91.67 404.14 L91.78 404.14 L91.89 404.14 L92.00 404.15 L92.11 404.15 L92.22 404.15 L92.33 404.15 L92.44 404.16 L92.55 404.16 L92.66 404.16 L92.77 404.17 L92.88 404.17 L92.99 404.18 L93.10 404.18 L93.21 404.19 L93.32 404.19 L93.43 404.20 L93.54 404.21 L93.65 404.21 L93.76 404.22 L93.87 404.23 L93.98 404.24 L94.09 404.25 L94.20 404.25 L94.31 404.26 L94.42 404.27 L94.53 404.28 L94.64 404.30 L94.75 404.31 L94.86 404.32 L94.98 404.33 L95.09 404.34 L95.20 404.36 L95.31 404.37 L95.42 404.38 L95.53 404.40 L95.64 404.41 L95.75 404.43 L95.86 404.44 L95.97 404.46 L96.08 404.48 L96.19 404.49 L96.30 404.51 L96.41 404.53 L96.52 404.55 L96.63 404.57 L96.74 404.59 L96.85 404.61 L96.96 404.63 L97.07 404.65 L97.18 404.67 L97.29 404.69 L97.40 404.71 L97.51 404.74 L97.62 404.76 L97.73 404.78 L97.84 404.81 L97.95 404.83 L98.06 404.86 L98.17 404.88 L98.28 404.91 L98.39 404.94 L98.51 404.97 L98.62 404.99 L98.73 405.02 L98.84 405.05 L98.95 405.08 L99.06 405.11 L99.17 405.14 L99.28 405.17 L99.39 405.21 L99.50 405.24 L99.61 405.27 L99.72 405.31 L99.83 405.34 L99.94 405.38 L100.05 405.41 L100.16 405.45 L100.27 405.48 L100.38 405.52 L100.49 405.56 L100.60 405.60 L100.71 405.64 L100.82 405.68 L100.93 405.72 L101.04 405.76 L101.15 405.80 L101.26 405.84 L101.37 405.88 L101.48 405.93 L101.59 405.97 L101.70 406.01 L101.81 406.06 L101.92 406.10 L102.04 406.15 L102.15 406.20 L102.26 406.25 L102.37 406.29 L102.48 406.34 L102.59 406.39 L102.70 406.44 L102.81 406.49 L102.92 406.55 L103.03 406.60 L103.14 406.65 L103.25 406.70 L103.36 406.76 L103.47 406.81 L103.58 406.87 L103.69 406.93 L103.80 406.98 L103.91 407.04 L104.02 407.10 L104.13 407.16 L104.24 407.22 L104.35 407.28 L104.46 407.34 L104.57 407.40 L104.68 407.46 L104.79 407.53 L104.90 407.59 L105.01 407.66 L105.12 407.72 L105.23 407.79 L105.34 407.85 L105.45 407.92 L105.57 407.99 L105.68 408.06 L105.79 408.13 L105.90 408.20 L106.01 408.27 L106.12 408.34 L106.23 408.42 L106.34 408.49 L106.45 408.57 L106.56 408.64 L106.67 408.72 L106.78 408.79 L106.89 408.87 L107.00 408.95 L107.11 409.03 L107.22 409.11 L107.33 409.19 L107.44 409.27 L107.55 409.35 L107.66 409.44 L107.77 409.52 L107.88 409.60 L107.99 409.69 L108.10 409.78 L108.21 409.86 L108.32 409.95 L108.43 410.04 L108.54 410.13 L108.65 410.22 L108.76 410.31 L108.87 410.40 L108.98 410.50 L109.10 410.59 L109.21 410.69 L109.32 410.78 L109.43 410.88 L109.54 410.97 L109.65 411.07 L109.76 411.17 L109.87 411.27 L109.98 411.37 L110.09 411.47 L110.20 411.58 L110.31 411.68 L110.42 411.78 L110.53 411.89 L110.64 411.99 L110.75 412.10 L110.86 412.21 L110.97 412.32 L111.08 412.43 L111.19 412.54 L111.30 412.65 L111.41 412.76 L111.52 412.87 L111.63 412.99 L111.74 413.10 L111.85 413.22 L111.96 413.33 L112.07 413.45 L112.18 413.57 L112.29 413.69 L112.40 413.81 L112.51 413.93 L112.63 414.05 L112.74 414.18 L112.85 414.30 L112.96 414.43 L113.07 414.55 L113.18 414.68 L113.29 414.81 L113.40 414.94 L113.51 415.07 L113.62 415.20 L113.73 415.33 L113.84 415.46 L113.95 415.60 L114.06 415.73 L114.17 415.87 L114.28 416.01 L114.39 416.14 L114.50 416.28 L114.61 416.42 L114.72 416.56 L114.83 416.70 L114.94 416.85 L115.05 416.99 L115.16 417.14 L115.27 417.28 L115.38 417.43 L115.49 417.58 L115.60 417.73 L115.71 417.88 L115.82 418.03 L115.93 418.18 L116.04 418.33 L116.16 418.49 L116.27 418.64 L116.38 418.80 L116.49 418.96 L116.60 419.11 L116.71 419.27 L116.82 419.43 L116.93 419.60 L117.04 419.76 L117.15 419.92 L117.26 420.09 L117.37 420.25 L117.48 420.42 L117.59 420.59 L117.70 420.76 L117.81 420.93 L117.92 421.10 L118.03 421.27 L118.14 421.45 L118.25 421.62 L118.36 421.80 L118.47 421.97 L118.58 422.15 L118.69 422.33 L118.80 422.51 L118.91 422.69 L119.02 422.87 L119.13 423.06 L119.24 423.24 L119.35 423.43 L119.46 423.62 L119.57 423.80 L119.69 423.99 L119.80 424.18 L119.91 424.38 L120.02 424.57 L120.13 424.76 L120.24 424.96 L120.35 425.15 L120.46 425.35 L120.57 425.55 L120.68 425.75 L120.79 425.95 L120.90 426.15 L121.01 426.36 L121.12 426.56 L121.23 426.77 L121.34 426.97 L121.45 427.18 L121.56 427.39 L121.67 427.60 L121.78 427.81 L121.89 428.03 L122.00 428.24 L122.11 428.46 L122.22 428.67 L122.33 428.89 L122.44 429.11 L122.55 429.33 L122.66 429.55 L122.77 429.77 L122.88 430.00 L122.99 430.22 L123.10 430.45 L123.22 430.68 L123.33 430.91 L123.44 431.14 L123.55 431.37 L123.66 431.60 L123.77 431.84 L123.88 432.07 L123.99 432.31 L124.10 432.55 L124.21 432.79 L124.32 433.03 L124.43 433.27 L124.54 433.51 L124.65 433.75 L124.76 434.00 L124.87 434.25 L124.98 434.50 L125.09 434.75 L125.20 435.00 L125.31 435.25 L125.42 435.50 L125.53 435.76 L125.64 436.01 L125.75 436.27 L125.86 436.53 L125.97 436.79 L126.08 437.05 L126.19 437.31 L126.30 437.58 L126.41 437.84 L126.52 438.11 L126.63 438.38 L126.75 438.65 L126.86 438.92 L126.97 439.19 L127.08 439.46 L127.19 439.74 L127.30 440.01 L127.41 440.29 L127.52 440.57 L127.63 440.85 L127.74 441.13 L127.85 441.42 L127.96 441.70 L128.07 441.99 L128.18 442.27 L128.29 442.56 L128.40 442.85 L128.51 443.14 L128.62 443.44 L128.73 443.73 L128.84 444.03 L128.95 444.32 L129.06 444.62 L129.17 444.92 L129.28 445.22 L129.39 445.53 L129.50 445.83 L129.61 446.14 L129.72 446.44 L129.83 446.75 L129.94 447.06 L130.05 447.37 L130.16 447.69 L130.28 448.00 L130.39 448.32 L130.50 448.64 L130.61 448.95 L130.72 449.27 L130.83 449.60 L130.94 449.92 L131.05 450.24 L131.16 450.57 L131.27 450.90 L131.38 451.23 L131.49 451.56 L131.60 451.89 L131.71 452.22 L131.82 452.56 L131.93 452.90 L132.04 453.23 L132.15 453.57 L132.26 453.91 L132.37 454.26 L132.48 454.60 L132.59 454.95 L132.70 455.29 L132.81 455.64 L132.92 455.99 L133.03 456.34 L133.14 456.70 L133.25 457.05 L133.36 457.41 L133.47 457.77 L133.58 458.13 L133.69 458.49 L133.81 458.85 L133.92 459.21 L134.03 459.58 L134.14 459.95 L134.25 460.32 L134.36 460.69 L134.47 461.06 L134.58 461.43 L134.69 461.81 L134.80 462.18 L134.91 462.56 L135.02 462.94 L135.13 463.32 L135.24 463.71 L135.35 464.09 L135.46 464.48 L135.57 464.87 L135.68 465.26 L135.79 465.65 L135.90 466.04 L136.01 466.44 L136.12 466.83 L136.23 467.23 L136.34 467.63 L136.45 468.03 L136.56 468.43 L136.67 468.84" stroke="#000" stroke-width="0.55" stroke-dasharray="6.0 1.6"/>
</g>
<circle cx="90.53" cy="401.44" r="3.4" fill="#008000"/>
<circle cx="94.94" cy="398.95" r="3.4" fill="#008000"/>
<circle cx="99.35" cy="396.55" r="3.4" fill="#008000"/>
<circle cx="103.76" cy="394.07" r="3.4" fill="#008000"/>
<circle cx="112.57" cy="388.62" r="3.4" fill="#008000"/>
<circle cx="156.64" cy="376.13" r="3.4" fill="#008000"/>
<circle cx="200.71" cy="373.33" r="3.4" fill="#008000"/>
<circle cx="244.12" cy="372.63" r="3.4" fill="#008000"/>
<circle cx="287.44" cy="372.89" r="3.4" fill="#008000"/>
<g font-family="Liberation Serif, serif" font-size="14.5" fill="#1c1c1c">
<text x="68.50" y="437.95" text-anchor="middle">0</text>
<text x="112.57" y="437.95" text-anchor="middle">1</text>
<text x="156.64" y="437.95" text-anchor="middle">2</text>
<text x="200.71" y="437.95" text-anchor="middle">3</text>
<text x="244.78" y="437.95" text-anchor="middle">4</text>
<text x="288.85" y="437.95" text-anchor="middle">5</text>
<text x="59.70" y="411.43" text-anchor="end">1.0</text>
<text x="59.70" y="385.99" text-anchor="end">1.2</text>
<text x="59.70" y="360.55" text-anchor="end">1.4</text>
<text x="59.70" y="335.12" text-anchor="end">1.6</text>
<text x="59.70" y="309.68" text-anchor="end">1.8</text>
<text x="59.70" y="284.24" text-anchor="end">2.0</text>
<text x="59.70" y="258.80" text-anchor="end">2.2</text>
</g>
<rect x="383.50" y="253.90" width="220.35" height="165.35" fill="none" stroke="#000" stroke-width="1"/>
<path d="M411.04 419.25v-2.60 M411.04 253.90v2.60 M438.59 419.25v-5.20 M438.59 253.90v5.20 M466.13 419.25v-2.60 M466.13 253.90v2.60 M493.68 419.25v-5.20 M493.68 253.90v5.20 M521.22 419.25v-2.60 M521.22 253.90v2.60 M548.76 419.25v-5.20 M548.76 253.90v5.20 M576.31 419.25v-2.60 M576.31 253.90v2.60 M383.50 406.53h5.20 M603.85 406.53h-5.20 M383.50 393.81h2.60 M603.85 393.81h-2.60 M383.50 381.09h5.20 M603.85 381.09h-5.20 M383.50 368.37h2.60 M603.85 368.37h-2.60 M383.50 355.65h5.20 M603.85 355.65h-5.20 M383.50 342.93h2.60 M603.85 342.93h-2.60 M383.50 330.22h5.20 M603.85 330.22h-5.20 M383.50 317.50h2.60 M603.85 317.50h-2.60 M383.50 304.78h5.20 M603.85 304.78h-5.20 M383.50 292.06h2.60 M603.85 292.06h-2.60 M383.50 279.34h5.20 M603.85 279.34h-5.20 M383.50 266.62h2.60 M603.85 266.62h-2.60" stroke="#000" stroke-width="0.8" fill="none"/>
<g clip-path="url(#cpd)" fill="none">
<path d="M383.50 381.09 L383.87 377.84 L384.24 374.62 L384.60 371.43 L384.97 368.29 L385.34 365.18 L385.71 362.11 L386.08 359.05 L386.44 356.02 L386.81 353.04 L387.18 350.14 L387.55 347.34 L387.91 344.61 L388.28 341.95 L388.65 339.36 L389.02 336.86 L389.39 334.44 L389.75 332.09 L390.12 329.81 L390.49 327.60 L390.86 325.47 L391.23 323.43 L391.59 321.46 L391.96 319.56 L392.33 317.73 L392.70 315.96 L393.06 314.25 L393.43 312.57 L393.80 310.89 L394.17 309.26 L394.54 307.75 L394.90 306.43 L395.27 305.30 L395.64 304.25 L396.01 303.29 L396.38 302.45 L396.74 301.75 L397.11 301.18 L397.48 300.64 L397.85 300.19 L398.21 299.93 L398.58 299.91 L398.95 299.97 L399.32 300.08 L399.69 300.22 L400.05 300.39 L400.42 300.68 L400.79 301.14 L401.16 301.70 L401.53 302.30 L401.89 302.92 L402.26 303.63 L402.63 304.42 L403.00 305.25 L403.36 306.12 L403.73 307.03 L404.10 307.99 L404.47 309.00 L404.84 310.04 L405.20 311.09 L405.57 312.18 L405.94 313.29 L406.31 314.43 L406.68 315.57 L407.04 316.73 L407.41 317.91 L407.78 319.09 L408.15 320.28 L408.51 321.47 L408.88 322.67 L409.25 323.86 L409.62 325.06 L409.99 326.25 L410.35 327.43 L410.72 328.61 L411.09 329.79 L411.46 330.95 L411.83 332.11 L412.19 333.25 L412.56 334.38 L412.93 335.51 L413.30 336.61 L413.66 337.71 L414.03 338.79 L414.40 339.86 L414.77 340.91 L415.14 341.95 L415.50 342.97 L415.87 343.98 L416.24 344.97 L416.61 345.95 L416.98 346.91 L417.34 347.86 L417.71 348.79 L418.08 349.70 L418.45 350.60 L418.81 351.48 L419.18 352.35 L419.55 353.20 L419.92 354.04 L420.29 354.86 L420.65 355.67 L421.02 356.46 L421.39 357.24 L421.76 358.00 L422.13 358.75 L422.49 359.48 L422.86 360.21 L423.23 360.91 L423.60 361.61 L423.96 362.29 L424.33 362.96 L424.70 363.61 L425.07 364.26 L425.44 364.89 L425.80 365.51 L426.17 366.11 L426.54 366.71 L426.91 367.29 L427.28 367.86 L427.64 368.43 L428.01 368.98 L428.38 369.52 L428.75 370.05 L429.12 370.57 L429.48 371.08 L429.85 371.58 L430.22 372.07 L430.59 372.56 L430.95 373.03 L431.32 373.49 L431.69 373.95 L432.06 374.40 L432.43 374.83 L432.79 375.26 L433.16 375.69 L433.53 376.10 L433.90 376.51 L434.27 376.91 L434.63 377.30 L435.00 377.69 L435.37 378.07 L435.74 378.44 L436.10 378.80 L436.47 379.16 L436.84 379.51 L437.21 379.86 L437.58 380.20 L437.94 380.53 L438.31 380.86 L438.68 381.18 L439.05 381.49 L439.42 381.80 L439.78 382.11 L440.15 382.41 L440.52 382.70 L440.89 382.99 L441.25 383.28 L441.62 383.56 L441.99 383.83 L442.36 384.10 L442.73 384.37 L443.09 384.63 L443.46 384.89 L443.83 385.14 L444.20 385.39 L444.57 385.63 L444.93 385.87 L445.30 386.11 L445.67 386.34 L446.04 386.57 L446.40 386.79 L446.77 387.02 L447.14 387.23 L447.51 387.45 L447.88 387.66 L448.24 387.87 L448.61 388.07 L448.98 388.27 L449.35 388.47 L449.72 388.66 L450.08 388.86 L450.45 389.04 L450.82 389.23 L451.19 389.41 L451.55 389.59 L451.92 389.77 L452.29 389.95 L452.66 390.12 L453.03 390.29 L453.39 390.46 L453.76 390.62 L454.13 390.78 L454.50 390.94 L454.87 391.10 L455.23 391.25 L455.60 391.41 L455.97 391.56 L456.34 391.71 L456.70 391.85 L457.07 392.00 L457.44 392.14 L457.81 392.28 L458.18 392.42 L458.54 392.55 L458.91 392.69 L459.28 392.82 L459.65 392.95 L460.02 393.08 L460.38 393.21 L460.75 393.33 L461.12 393.46 L461.49 393.58 L461.85 393.70 L462.22 393.82 L462.59 393.93 L462.96 394.05 L463.33 394.16 L463.69 394.27 L464.06 394.38 L464.43 394.49 L464.80 394.60 L465.17 394.71 L465.53 394.81 L465.90 394.92 L466.27 395.02 L466.64 395.12 L467.00 395.22 L467.37 395.32 L467.74 395.42 L468.11 395.51 L468.48 395.61 L468.84 395.70 L469.21 395.79 L469.58 395.88 L469.95 395.97 L470.32 396.06 L470.68 396.15 L471.05 396.24 L471.42 396.32 L471.79 396.41 L472.16 396.49 L472.52 396.57 L472.89 396.66 L473.26 396.74 L473.63 396.82 L473.99 396.89 L474.36 396.97 L474.73 397.05 L475.10 397.13 L475.47 397.20 L475.83 397.27 L476.20 397.35 L476.57 397.42 L476.94 397.49 L477.31 397.56 L477.67 397.63 L478.04 397.70 L478.41 397.77 L478.78 397.84 L479.14 397.90 L479.51 397.97 L479.88 398.04 L480.25 398.10 L480.62 398.16 L480.98 398.23 L481.35 398.29 L481.72 398.35 L482.09 398.41 L482.46 398.47 L482.82 398.53 L483.19 398.59 L483.56 398.65 L483.93 398.71 L484.29 398.76 L484.66 398.82 L485.03 398.88 L485.40 398.93 L485.77 398.99 L486.13 399.04 L486.50 399.10 L486.87 399.15 L487.24 399.20 L487.61 399.25 L487.97 399.30 L488.34 399.35 L488.71 399.40 L489.08 399.45 L489.44 399.50 L489.81 399.55 L490.18 399.60 L490.55 399.65 L490.92 399.70 L491.28 399.74 L491.65 399.79 L492.02 399.83 L492.39 399.88 L492.76 399.92 L493.12 399.97 L493.49 400.01 L493.86 400.06 L494.23 400.10 L494.59 400.14 L494.96 400.19 L495.33 400.23 L495.70 400.27 L496.07 400.31 L496.43 400.35 L496.80 400.39 L497.17 400.43 L497.54 400.47 L497.91 400.51 L498.27 400.55 L498.64 400.59 L499.01 400.62 L499.38 400.66 L499.74 400.70 L500.11 400.74 L500.48 400.77 L500.85 400.81 L501.22 400.84 L501.58 400.88 L501.95 400.92 L502.32 400.95 L502.69 400.99 L503.06 401.02 L503.42 401.05 L503.79 401.09 L504.16 401.12 L504.53 401.15 L504.89 401.19 L505.26 401.22 L505.63 401.25 L506.00 401.28 L506.37 401.31 L506.73 401.35 L507.10 401.38 L507.47 401.41 L507.84 401.44 L508.21 401.47 L508.57 401.50 L508.94 401.53 L509.31 401.56 L509.68 401.59 L510.04 401.61 L510.41 401.64 L510.78 401.67 L511.15 401.70 L511.52 401.73 L511.88 401.76 L512.25 401.78 L512.62 401.81 L512.99 401.84 L513.36 401.86 L513.72 401.89 L514.09 401.92 L514.46 401.94 L514.83 401.97 L515.19 401.99 L515.56 402.02 L515.93 402.04 L516.30 402.07 L516.67 402.09 L517.03 402.12 L517.40 402.14 L517.77 402.17 L518.14 402.19 L518.51 402.22 L518.87 402.24 L519.24 402.26 L519.61 402.29 L519.98 402.31 L520.35 402.33 L520.71 402.35 L521.08 402.38 L521.45 402.40 L521.82 402.42 L522.18 402.44 L522.55 402.46 L522.92 402.49 L523.29 402.51 L523.66 402.53 L524.02 402.55 L524.39 402.57 L524.76 402.59 L525.13 402.61 L525.50 402.63 L525.86 402.65 L526.23 402.67 L526.60 402.69 L526.97 402.71 L527.33 402.73 L527.70 402.75 L528.07 402.77 L528.44 402.79 L528.81 402.81 L529.17 402.83 L529.54 402.85 L529.91 402.87 L530.28 402.88 L530.65 402.90 L531.01 402.92 L531.38 402.94 L531.75 402.96 L532.12 402.97 L532.48 402.99 L532.85 403.01 L533.22 403.03 L533.59 403.04 L533.96 403.06 L534.32 403.08 L534.69 403.10 L535.06 403.11 L535.43 403.13 L535.80 403.15 L536.16 403.16 L536.53 403.18 L536.90 403.19 L537.27 403.21 L537.63 403.23 L538.00 403.24 L538.37 403.26 L538.74 403.27 L539.11 403.29 L539.47 403.30 L539.84 403.32 L540.21 403.34 L540.58 403.35 L540.95 403.37 L541.31 403.38 L541.68 403.39 L542.05 403.41 L542.42 403.42 L542.78 403.44 L543.15 403.45 L543.52 403.47 L543.89 403.48 L544.26 403.50 L544.62 403.51 L544.99 403.52 L545.36 403.54 L545.73 403.55 L546.10 403.56 L546.46 403.58 L546.83 403.59 L547.20 403.60 L547.57 403.62 L547.93 403.63 L548.30 403.64 L548.67 403.66 L549.04 403.67 L549.41 403.68 L549.77 403.69 L550.14 403.71 L550.51 403.72 L550.88 403.73 L551.25 403.74 L551.61 403.76 L551.98 403.77 L552.35 403.78 L552.72 403.79 L553.08 403.81 L553.45 403.82 L553.82 403.83 L554.19 403.84 L554.56 403.85 L554.92 403.86 L555.29 403.88 L555.66 403.89 L556.03 403.90 L556.40 403.91 L556.76 403.92 L557.13 403.93 L557.50 403.94 L557.87 403.95 L558.23 403.96 L558.60 403.98 L558.97 403.99 L559.34 404.00 L559.71 404.01 L560.07 404.02 L560.44 404.03 L560.81 404.04 L561.18 404.05 L561.55 404.06 L561.91 404.07 L562.28 404.08 L562.65 404.09 L563.02 404.10 L563.39 404.11 L563.75 404.12 L564.12 404.13 L564.49 404.14 L564.86 404.15 L565.22 404.16 L565.59 404.17 L565.96 404.18 L566.33 404.19 L566.70 404.20 L567.06 404.21 L567.43 404.22 L567.80 404.23 L568.17 404.23 L568.54 404.24 L568.90 404.25 L569.27 404.26 L569.64 404.27 L570.01 404.28 L570.37 404.29 L570.74 404.30 L571.11 404.31 L571.48 404.32 L571.85 404.32 L572.21 404.33 L572.58 404.34 L572.95 404.35 L573.32 404.36 L573.69 404.37 L574.05 404.38 L574.42 404.38 L574.79 404.39 L575.16 404.40 L575.52 404.41 L575.89 404.42 L576.26 404.42 L576.63 404.43 L577.00 404.44 L577.36 404.45 L577.73 404.46 L578.10 404.46 L578.47 404.47 L578.84 404.48 L579.20 404.49 L579.57 404.50 L579.94 404.50 L580.31 404.51 L580.67 404.52 L581.04 404.53 L581.41 404.53 L581.78 404.54 L582.15 404.55 L582.51 404.56 L582.88 404.56 L583.25 404.57 L583.62 404.58 L583.99 404.59 L584.35 404.59 L584.72 404.60 L585.09 404.61 L585.46 404.61 L585.82 404.62 L586.19 404.63 L586.56 404.63 L586.93 404.64 L587.30 404.65 L587.66 404.66 L588.03 404.66 L588.40 404.67 L588.77 404.68 L589.14 404.68 L589.50 404.69 L589.87 404.70 L590.24 404.70 L590.61 404.71 L590.97 404.71 L591.34 404.72 L591.71 404.73 L592.08 404.73 L592.45 404.74 L592.81 404.75 L593.18 404.75 L593.55 404.76 L593.92 404.77 L594.29 404.77 L594.65 404.78 L595.02 404.78 L595.39 404.79 L595.76 404.80 L596.12 404.80 L596.49 404.81 L596.86 404.81 L597.23 404.82 L597.60 404.83 L597.96 404.83 L598.33 404.84 L598.70 404.84 L599.07 404.85 L599.44 404.86 L599.80 404.86 L600.17 404.87 L600.54 404.87 L600.91 404.88 L601.27 404.88 L601.64 404.89 L602.01 404.89 L602.38 404.90 L602.75 404.91 L603.11 404.91 L603.48 404.92 L603.85 404.92" stroke="#ff0000" stroke-width="2"/>
<path d="M383.50 266.83 L383.87 266.74 L384.24 266.68 L384.60 266.65 L384.97 266.65 L385.34 266.68 L385.71 266.75 L386.08 266.84 L386.44 266.96 L386.81 267.10 L387.18 267.28 L387.55 267.48 L387.91 267.70 L388.28 267.95 L388.65 268.23 L389.02 268.53 L389.39 268.86 L389.75 269.20 L390.12 269.57 L390.49 269.97 L390.86 270.38 L391.23 270.81 L391.59 271.27 L391.96 271.75 L392.33 272.24 L392.70 272.76 L393.06 273.29 L393.43 273.84 L393.80 274.41 L394.17 275.00 L394.54 275.60 L394.90 276.22 L395.27 276.85 L395.64 277.50 L396.01 278.17 L396.38 278.85 L396.74 279.54 L397.11 280.25 L397.48 280.97 L397.85 281.70 L398.21 282.45 L398.58 283.20 L398.95 283.97 L399.32 284.75 L399.69 285.54 L400.05 286.34 L400.42 287.15 L400.79 287.97 L401.16 288.80 L401.53 289.63 L401.89 290.48 L402.26 291.33 L402.63 292.19 L403.00 293.06 L403.36 293.93 L403.73 294.82 L404.10 295.70 L404.47 296.59 L404.84 297.49 L405.20 298.39 L405.57 299.30 L405.94 300.21 L406.31 301.13 L406.68 302.05 L407.04 302.97 L407.41 303.90 L407.78 304.83 L408.15 305.76 L408.51 306.69 L408.88 307.63 L409.25 308.56 L409.62 309.50 L409.99 310.44 L410.35 311.38 L410.72 312.32 L411.09 313.26 L411.46 314.21 L411.83 315.15 L412.19 316.09 L412.56 317.03 L412.93 317.97 L413.30 318.90 L413.66 319.84 L414.03 320.77 L414.40 321.71 L414.77 322.64 L415.14 323.57 L415.50 324.49 L415.87 325.41 L416.24 326.33 L416.61 327.25 L416.98 328.17 L417.34 329.08 L417.71 329.98 L418.08 330.89 L418.45 331.78 L418.81 332.68 L419.18 333.57 L419.55 334.46 L419.92 335.34 L420.29 336.21 L420.65 337.09 L421.02 337.95 L421.39 338.81 L421.76 339.67 L422.13 340.52 L422.49 341.37 L422.86 342.21 L423.23 343.04 L423.60 343.87 L423.96 344.69 L424.33 345.51 L424.70 346.32 L425.07 347.12 L425.44 347.92 L425.80 348.71 L426.17 349.49 L426.54 350.27 L426.91 351.04 L427.28 351.80 L427.64 352.56 L428.01 353.31 L428.38 354.05 L428.75 354.78 L429.12 355.51 L429.48 356.23 L429.85 356.95 L430.22 357.65 L430.59 358.35 L430.95 359.04 L431.32 359.73 L431.69 360.40 L432.06 361.07 L432.43 361.73 L432.79 362.38 L433.16 363.03 L433.53 363.66 L433.90 364.29 L434.27 364.91 L434.63 365.53 L435.00 366.13 L435.37 366.73 L435.74 367.32 L436.10 367.90 L436.47 368.48 L436.84 369.04 L437.21 369.60 L437.58 370.15 L437.94 370.69 L438.31 371.23 L438.68 371.76 L439.05 372.27 L439.42 372.78 L439.78 373.29 L440.15 373.78 L440.52 374.27 L440.89 374.75 L441.25 375.22 L441.62 375.69 L441.99 376.14 L442.36 376.59 L442.73 377.03 L443.09 377.47 L443.46 377.89 L443.83 378.31 L444.20 378.72 L444.57 379.13 L444.93 379.53 L445.30 379.92 L445.67 380.30 L446.04 380.67 L446.40 381.04 L446.77 381.41 L447.14 381.76 L447.51 382.11 L447.88 382.45 L448.24 382.79 L448.61 383.12 L448.98 383.44 L449.35 383.76 L449.72 384.07 L450.08 384.38 L450.45 384.68 L450.82 384.97 L451.19 385.26 L451.55 385.54 L451.92 385.82 L452.29 386.09 L452.66 386.35 L453.03 386.61 L453.39 386.87 L453.76 387.12 L454.13 387.36 L454.50 387.61 L454.87 387.84 L455.23 388.07 L455.60 388.30 L455.97 388.52 L456.34 388.73 L456.70 388.95 L457.07 389.15 L457.44 389.36 L457.81 389.56 L458.18 389.75 L458.54 389.94 L458.91 390.13 L459.28 390.31 L459.65 390.49 L460.02 390.67 L460.38 390.84 L460.75 391.01 L461.12 391.17 L461.49 391.33 L461.85 391.49 L462.22 391.65 L462.59 391.80 L462.96 391.94 L463.33 392.09 L463.69 392.23 L464.06 392.37 L464.43 392.50 L464.80 392.64 L465.17 392.77 L465.53 392.89 L465.90 393.02 L466.27 393.14 L466.64 393.26 L467.00 393.37 L467.37 393.49 L467.74 393.60 L468.11 393.71 L468.48 393.81 L468.84 393.92 L469.21 394.02 L469.58 394.12 L469.95 394.22 L470.32 394.31 L470.68 394.41 L471.05 394.50 L471.42 394.59 L471.79 394.68 L472.16 394.77 L472.52 394.85 L472.89 394.94 L473.26 395.02 L473.63 395.10 L473.99 395.18 L474.36 395.25 L474.73 395.33 L475.10 395.40 L475.47 395.48 L475.83 395.55 L476.20 395.62 L476.57 395.69 L476.94 395.76 L477.31 395.82 L477.67 395.87 L478.04 395.93 L478.41 395.98 L478.78 396.04 L479.14 396.10 L479.51 396.15 L479.88 396.21 L480.25 396.27 L480.62 396.33 L480.98 396.39 L481.35 396.44 L481.72 396.50 L482.09 396.56 L482.46 396.62 L482.82 396.69 L483.19 396.75 L483.56 396.81 L483.93 396.87 L484.29 396.93 L484.66 397.00 L485.03 397.06 L485.40 397.12 L485.77 397.19 L486.13 397.25 L486.50 397.32 L486.87 397.38 L487.24 397.45 L487.61 397.51 L487.97 397.58 L488.34 397.65 L488.71 397.71 L489.08 397.78 L489.44 397.85 L489.81 397.91 L490.18 397.98 L490.55 398.05 L490.92 398.12 L491.28 398.18 L491.65 398.25 L492.02 398.32 L492.39 398.39 L492.76 398.45 L493.12 398.52 L493.49 398.59 L493.86 398.65 L494.23 398.71 L494.59 398.76 L494.96 398.82 L495.33 398.87 L495.70 398.93 L496.07 398.98 L496.43 399.03 L496.80 399.08 L497.17 399.14 L497.54 399.19 L497.91 399.24 L498.27 399.29 L498.64 399.34 L499.01 399.39 L499.38 399.44 L499.74 399.49 L500.11 399.53 L500.48 399.58 L500.85 399.63 L501.22 399.67 L501.58 399.72 L501.95 399.77 L502.32 399.81 L502.69 399.85 L503.06 399.90 L503.42 399.94 L503.79 399.99 L504.16 400.03 L504.53 400.07 L504.89 400.11 L505.26 400.15 L505.63 400.20 L506.00 400.24 L506.37 400.28 L506.73 400.32 L507.10 400.36 L507.47 400.40 L507.84 400.44 L508.21 400.47 L508.57 400.51 L508.94 400.55 L509.31 400.59 L509.68 400.62 L510.04 400.66 L510.41 400.70 L510.78 400.73 L511.15 400.77 L511.52 400.80 L511.88 400.84 L512.25 400.87 L512.62 400.91 L512.99 400.94 L513.36 400.98 L513.72 401.01 L514.09 401.04 L514.46 401.08 L514.83 401.11 L515.19 401.14 L515.56 401.17 L515.93 401.21 L516.30 401.24 L516.67 401.27 L517.03 401.30 L517.40 401.33 L517.77 401.36 L518.14 401.39 L518.51 401.42 L518.87 401.45 L519.24 401.48 L519.61 401.51 L519.98 401.54 L520.35 401.57 L520.71 401.59 L521.08 401.62 L521.45 401.65 L521.82 401.68 L522.18 401.71 L522.55 401.73 L522.92 401.76 L523.29 401.79 L523.66 401.81 L524.02 401.84 L524.39 401.87 L524.76 401.89 L525.13 401.92 L525.50 401.94 L525.86 401.97 L526.23 401.99 L526.60 402.02 L526.97 402.04 L527.33 402.07 L527.70 402.09 L528.07 402.11 L528.44 402.14 L528.81 402.16 L529.17 402.19 L529.54 402.21 L529.91 402.23 L530.28 402.25 L530.65 402.28 L531.01 402.30 L531.38 402.32 L531.75 402.34 L532.12 402.37 L532.48 402.39 L532.85 402.41 L533.22 402.43 L533.59 402.45 L533.96 402.47 L534.32 402.49 L534.69 402.52 L535.06 402.54 L535.43 402.56 L535.80 402.58 L536.16 402.60 L536.53 402.62 L536.90 402.64 L537.27 402.66 L537.63 402.68 L538.00 402.70 L538.37 402.72 L538.74 402.73 L539.11 402.75 L539.47 402.77 L539.84 402.79 L540.21 402.81 L540.58 402.83 L540.95 402.85 L541.31 402.86 L541.68 402.88 L542.05 402.90 L542.42 402.92 L542.78 402.94 L543.15 402.95 L543.52 402.97 L543.89 402.99 L544.26 403.01 L544.62 403.02 L544.99 403.04 L545.36 403.06 L545.73 403.07 L546.10 403.09 L546.46 403.11 L546.83 403.12 L547.20 403.14 L547.57 403.15 L547.93 403.17 L548.30 403.19 L548.67 403.20 L549.04 403.22 L549.41 403.23 L549.77 403.25 L550.14 403.26 L550.51 403.28 L550.88 403.29 L551.25 403.31 L551.61 403.32 L551.98 403.34 L552.35 403.35 L552.72 403.37 L553.08 403.38 L553.45 403.40 L553.82 403.41 L554.19 403.43 L554.56 403.44 L554.92 403.45 L555.29 403.47 L555.66 403.48 L556.03 403.49 L556.40 403.51 L556.76 403.52 L557.13 403.54 L557.50 403.55 L557.87 403.56 L558.23 403.57 L558.60 403.59 L558.97 403.60 L559.34 403.61 L559.71 403.63 L560.07 403.64 L560.44 403.65 L560.81 403.66 L561.18 403.68 L561.55 403.69 L561.91 403.70 L562.28 403.71 L562.65 403.73 L563.02 403.74 L563.39 403.75 L563.75 403.76 L564.12 403.77 L564.49 403.79 L564.86 403.80 L565.22 403.81 L565.59 403.82 L565.96 403.83 L566.33 403.84 L566.70 403.86 L567.06 403.87 L567.43 403.88 L567.80 403.89 L568.17 403.90 L568.54 403.91 L568.90 403.92 L569.27 403.93 L569.64 403.94 L570.01 403.95 L570.37 403.96 L570.74 403.98 L571.11 403.99 L571.48 404.00 L571.85 404.01 L572.21 404.02 L572.58 404.03 L572.95 404.04 L573.32 404.05 L573.69 404.06 L574.05 404.07 L574.42 404.08 L574.79 404.09 L575.16 404.10 L575.52 404.11 L575.89 404.12 L576.26 404.13 L576.63 404.14 L577.00 404.15 L577.36 404.16 L577.73 404.16 L578.10 404.17 L578.47 404.18 L578.84 404.19 L579.20 404.20 L579.57 404.21 L579.94 404.22 L580.31 404.23 L580.67 404.24 L581.04 404.25 L581.41 404.26 L581.78 404.26 L582.15 404.27 L582.51 404.28 L582.88 404.29 L583.25 404.30 L583.62 404.31 L583.99 404.32 L584.35 404.33 L584.72 404.33 L585.09 404.34 L585.46 404.35 L585.82 404.36 L586.19 404.37 L586.56 404.38 L586.93 404.38 L587.30 404.39 L587.66 404.40 L588.03 404.41 L588.40 404.42 L588.77 404.42 L589.14 404.43 L589.50 404.44 L589.87 404.45 L590.24 404.45 L590.61 404.46 L590.97 404.47 L591.34 404.48 L591.71 404.49 L592.08 404.49 L592.45 404.50 L592.81 404.51 L593.18 404.52 L593.55 404.52 L593.92 404.53 L594.29 404.54 L594.65 404.54 L595.02 404.55 L595.39 404.56 L595.76 404.57 L596.12 404.57 L596.49 404.58 L596.86 404.59 L597.23 404.59 L597.60 404.60 L597.96 404.61 L598.33 404.62 L598.70 404.62 L599.07 404.63 L599.44 404.64 L599.80 404.64 L600.17 404.65 L600.54 404.66 L600.91 404.66 L601.27 404.67 L601.64 404.68 L602.01 404.68 L602.38 404.69 L602.75 404.69 L603.11 404.70 L603.48 404.71 L603.85 404.71" stroke="#0000ff" stroke-width="2" stroke-dasharray="14 3.5"/>
<path d="M403.77 210.81 L404.11 217.22 L404.45 223.32 L404.79 229.13 L405.13 234.66 L405.47 239.95 L405.81 244.99 L406.15 249.81 L406.49 254.41 L406.83 258.82 L407.17 263.03 L407.51 267.07 L407.85 270.94 L408.19 274.65 L408.53 278.21 L408.87 281.63 L409.21 284.91 L409.55 288.07 L409.89 291.11 L410.23 294.02 L410.57 296.83 L410.91 299.54 L411.26 302.15 L411.60 304.66 L411.94 307.08 L412.28 309.42 L412.62 311.68 L412.96 313.86 L413.30 315.96 L413.64 318.00 L413.98 319.96 L414.32 321.86 L414.66 323.70 L415.00 325.48 L415.34 327.21 L415.68 328.87 L416.02 330.49 L416.36 332.06 L416.70 333.58 L417.04 335.05 L417.38 336.48 L417.72 337.86 L418.06 339.21 L418.40 340.52 L418.74 341.78 L419.08 343.02 L419.42 344.21 L419.76 345.38 L420.10 346.51 L420.44 347.61 L420.78 348.68 L421.12 349.72 L421.46 350.74 L421.80 351.72 L422.14 352.68 L422.48 353.62 L422.82 354.53 L423.16 355.42 L423.51 356.29 L423.85 357.13 L424.19 357.95 L424.53 358.76 L424.87 359.54 L425.21 360.30 L425.55 361.05 L425.89 361.77 L426.23 362.48 L426.57 363.18 L426.91 363.85 L427.25 364.52 L427.59 365.16 L427.93 365.79 L428.27 366.41 L428.61 367.01 L428.95 367.60 L429.29 368.18 L429.63 368.74 L429.97 369.29 L430.31 369.83 L430.65 370.36 L430.99 370.88 L431.33 371.38 L431.67 371.88 L432.01 372.36 L432.35 372.84 L432.69 373.30 L433.03 373.76 L433.37 374.20 L433.71 374.64 L434.05 375.07 L434.39 375.49 L434.73 375.90 L435.07 376.30 L435.41 376.69 L435.75 377.08 L436.10 377.46 L436.44 377.83 L436.78 378.20 L437.12 378.56 L437.46 378.91 L437.80 379.26 L438.14 379.59 L438.48 379.93 L438.82 380.25 L439.16 380.57 L439.50 380.89 L439.84 381.20 L440.18 381.50 L440.52 381.80 L440.86 382.09 L441.20 382.38 L441.54 382.66 L441.88 382.94 L442.22 383.21 L442.56 383.48 L442.90 383.74 L443.24 384.00 L443.58 384.25 L443.92 384.50 L444.26 384.75 L444.60 384.99 L444.94 385.23 L445.28 385.46 L445.62 385.69 L445.96 385.92 L446.30 386.14 L446.64 386.36 L446.98 386.58 L447.32 386.79 L447.66 387.00 L448.00 387.21 L448.35 387.41 L448.69 387.61 L449.03 387.80 L449.37 388.00 L449.71 388.19 L450.05 388.37 L450.39 388.56 L450.73 388.74 L451.07 388.92 L451.41 389.09 L451.75 389.27 L452.09 389.44 L452.43 389.61 L452.77 389.77 L453.11 389.94 L453.45 390.10 L453.79 390.26 L454.13 390.41 L454.47 390.57 L454.81 390.72 L455.15 390.87 L455.49 391.02 L455.83 391.16 L456.17 391.30 L456.51 391.45 L456.85 391.59 L457.19 391.72 L457.53 391.86 L457.87 391.99 L458.21 392.13 L458.55 392.26 L458.89 392.38 L459.23 392.51 L459.57 392.64 L459.91 392.76 L460.25 392.88 L460.59 393.00 L460.94 393.12 L461.28 393.24 L461.62 393.35 L461.96 393.47 L462.30 393.58 L462.64 393.69 L462.98 393.80 L463.32 393.91 L463.66 394.02 L464.00 394.12 L464.34 394.23 L464.68 394.33 L465.02 394.43 L465.36 394.53 L465.70 394.63 L466.04 394.73 L466.38 394.82 L466.72 394.92 L467.06 395.01 L467.40 395.11 L467.74 395.20 L468.08 395.29 L468.42 395.38 L468.76 395.47 L469.10 395.56 L469.44 395.64 L469.78 395.73 L470.12 395.81 L470.46 395.90 L470.80 395.98 L471.14 396.06 L471.48 396.14 L471.82 396.22 L472.16 396.30 L472.50 396.38 L472.84 396.46 L473.19 396.53 L473.53 396.61 L473.87 396.68 L474.21 396.76 L474.55 396.83 L474.89 396.90 L475.23 396.97 L475.57 397.04 L475.91 397.11 L476.25 397.18 L476.59 397.25 L476.93 397.32 L477.27 397.39 L477.61 397.45 L477.95 397.52 L478.29 397.58 L478.63 397.65 L478.97 397.71 L479.31 397.77 L479.65 397.83 L479.99 397.89 L480.33 397.95 L480.67 398.01 L481.01 398.07 L481.35 398.13 L481.69 398.19 L482.03 398.25 L482.37 398.31 L482.71 398.36 L483.05 398.42 L483.39 398.47 L483.73 398.53 L484.07 398.58 L484.41 398.63 L484.75 398.69 L485.09 398.74 L485.43 398.79 L485.78 398.84 L486.12 398.89 L486.46 398.94 L486.80 398.99 L487.14 399.04 L487.48 399.09 L487.82 399.14 L488.16 399.19 L488.50 399.24 L488.84 399.28 L489.18 399.33 L489.52 399.38 L489.86 399.42 L490.20 399.47 L490.54 399.51 L490.88 399.56 L491.22 399.60 L491.56 399.64 L491.90 399.69 L492.24 399.73 L492.58 399.77 L492.92 399.81 L493.26 399.86 L493.60 399.90 L493.94 399.94 L494.28 399.98 L494.62 400.02 L494.96 400.06 L495.30 400.10 L495.64 400.14 L495.98 400.18 L496.32 400.21 L496.66 400.25 L497.00 400.29 L497.34 400.33 L497.68 400.36 L498.02 400.40 L498.37 400.44 L498.71 400.47 L499.05 400.51 L499.39 400.54 L499.73 400.58 L500.07 400.61 L500.41 400.65 L500.75 400.68 L501.09 400.72 L501.43 400.75 L501.77 400.78 L502.11 400.81 L502.45 400.85 L502.79 400.88 L503.13 400.91 L503.47 400.94 L503.81 400.98 L504.15 401.01 L504.49 401.04 L504.83 401.07 L505.17 401.10 L505.51 401.13 L505.85 401.16 L506.19 401.19 L506.53 401.22 L506.87 401.25 L507.21 401.28 L507.55 401.31 L507.89 401.33 L508.23 401.36 L508.57 401.39 L508.91 401.42 L509.25 401.45 L509.59 401.47 L509.93 401.50 L510.27 401.53 L510.62 401.55 L510.96 401.58 L511.30 401.61 L511.64 401.63 L511.98 401.66 L512.32 401.68 L512.66 401.71 L513.00 401.74 L513.34 401.76 L513.68 401.79 L514.02 401.81 L514.36 401.83 L514.70 401.86 L515.04 401.88 L515.38 401.91 L515.72 401.93 L516.06 401.95 L516.40 401.98 L516.74 402.00 L517.08 402.02 L517.42 402.05 L517.76 402.07 L518.10 402.09 L518.44 402.11 L518.78 402.14 L519.12 402.16 L519.46 402.18 L519.80 402.20 L520.14 402.22 L520.48 402.25 L520.82 402.27 L521.16 402.29 L521.50 402.31 L521.84 402.33 L522.18 402.35 L522.52 402.37 L522.86 402.39 L523.21 402.41 L523.55 402.43 L523.89 402.45 L524.23 402.47 L524.57 402.49 L524.91 402.51 L525.25 402.53 L525.59 402.55 L525.93 402.57 L526.27 402.59 L526.61 402.60 L526.95 402.62 L527.29 402.64 L527.63 402.66 L527.97 402.68 L528.31 402.70 L528.65 402.71 L528.99 402.73 L529.33 402.75 L529.67 402.77 L530.01 402.78 L530.35 402.80 L530.69 402.82 L531.03 402.84 L531.37 402.85 L531.71 402.87 L532.05 402.89 L532.39 402.90 L532.73 402.92 L533.07 402.94 L533.41 402.95 L533.75 402.97 L534.09 402.99 L534.43 403.00 L534.77 403.02 L535.11 403.03 L535.46 403.05 L535.80 403.06 L536.14 403.08 L536.48 403.09 L536.82 403.11 L537.16 403.12 L537.50 403.14 L537.84 403.15 L538.18 403.17 L538.52 403.18 L538.86 403.20 L539.20 403.21 L539.54 403.23 L539.88 403.24 L540.22 403.26 L540.56 403.27 L540.90 403.29 L541.24 403.30 L541.58 403.31 L541.92 403.33 L542.26 403.34 L542.60 403.35 L542.94 403.37 L543.28 403.38 L543.62 403.39 L543.96 403.41 L544.30 403.42 L544.64 403.43 L544.98 403.45 L545.32 403.46 L545.66 403.47 L546.00 403.49 L546.34 403.50 L546.68 403.51 L547.02 403.52 L547.36 403.54 L547.70 403.55 L548.05 403.56 L548.39 403.57 L548.73 403.59 L549.07 403.60 L549.41 403.61 L549.75 403.62 L550.09 403.63 L550.43 403.64 L550.77 403.66 L551.11 403.67 L551.45 403.68 L551.79 403.69 L552.13 403.70 L552.47 403.71 L552.81 403.73 L553.15 403.74 L553.49 403.75 L553.83 403.76 L554.17 403.77 L554.51 403.78 L554.85 403.79 L555.19 403.80 L555.53 403.81 L555.87 403.82 L556.21 403.84 L556.55 403.85 L556.89 403.86 L557.23 403.87 L557.57 403.88 L557.91 403.89 L558.25 403.90 L558.59 403.91 L558.93 403.92 L559.27 403.93 L559.61 403.94 L559.95 403.95 L560.30 403.96 L560.64 403.97 L560.98 403.98 L561.32 403.99 L561.66 404.00 L562.00 404.01 L562.34 404.02 L562.68 404.03 L563.02 404.04 L563.36 404.04 L563.70 404.05 L564.04 404.06 L564.38 404.07 L564.72 404.08 L565.06 404.09 L565.40 404.10 L565.74 404.11 L566.08 404.12 L566.42 404.13 L566.76 404.14 L567.10 404.15 L567.44 404.15 L567.78 404.16 L568.12 404.17 L568.46 404.18 L568.80 404.19 L569.14 404.20 L569.48 404.21 L569.82 404.21 L570.16 404.22 L570.50 404.23 L570.84 404.24 L571.18 404.25 L571.52 404.26 L571.86 404.26 L572.20 404.27 L572.54 404.28 L572.89 404.29 L573.23 404.30 L573.57 404.30 L573.91 404.31 L574.25 404.32 L574.59 404.33 L574.93 404.34 L575.27 404.34 L575.61 404.35 L575.95 404.36 L576.29 404.37 L576.63 404.37 L576.97 404.38 L577.31 404.39 L577.65 404.40 L577.99 404.40 L578.33 404.41 L578.67 404.42 L579.01 404.43 L579.35 404.43 L579.69 404.44 L580.03 404.45 L580.37 404.46 L580.71 404.46 L581.05 404.47 L581.39 404.48 L581.73 404.48 L582.07 404.49 L582.41 404.50 L582.75 404.51 L583.09 404.51 L583.43 404.52 L583.77 404.53 L584.11 404.53 L584.45 404.54 L584.79 404.55 L585.13 404.55 L585.48 404.56 L585.82 404.57 L586.16 404.57 L586.50 404.58 L586.84 404.59 L587.18 404.59 L587.52 404.60 L587.86 404.61 L588.20 404.61 L588.54 404.62 L588.88 404.62 L589.22 404.63 L589.56 404.64 L589.90 404.64 L590.24 404.65 L590.58 404.66 L590.92 404.66 L591.26 404.67 L591.60 404.67 L591.94 404.68 L592.28 404.69 L592.62 404.69 L592.96 404.70 L593.30 404.70 L593.64 404.71 L593.98 404.72 L594.32 404.72 L594.66 404.73 L595.00 404.73 L595.34 404.74 L595.68 404.74 L596.02 404.75 L596.36 404.76 L596.70 404.76 L597.04 404.77 L597.38 404.77 L597.73 404.78 L598.07 404.78 L598.41 404.79 L598.75 404.80 L599.09 404.80 L599.43 404.81 L599.77 404.81 L600.11 404.82 L600.45 404.82 L600.79 404.83 L601.13 404.83 L601.47 404.84 L601.81 404.84 L602.15 404.85 L602.49 404.85 L602.83 404.86 L603.17 404.86 L603.51 404.87 L603.85 404.87" stroke="#000" stroke-width="1.9" stroke-dasharray="1.9 3.05"/>
<path d="M419.25 467.88 L419.49 466.24 L419.73 464.64 L419.97 463.10 L420.21 461.60 L420.45 460.14 L420.70 458.73 L420.94 457.35 L421.18 456.02 L421.42 454.73 L421.66 453.47 L421.90 452.25 L422.14 451.06 L422.39 449.91 L422.63 448.78 L422.87 447.69 L423.11 446.63 L423.35 445.60 L423.59 444.60 L423.83 443.63 L424.07 442.68 L424.32 441.75 L424.56 440.86 L424.80 439.98 L425.04 439.13 L425.28 438.31 L425.52 437.50 L425.76 436.72 L426.00 435.95 L426.25 435.21 L426.49 434.48 L426.73 433.78 L426.97 433.09 L427.21 432.42 L427.45 431.77 L427.69 431.13 L427.94 430.51 L428.18 429.91 L428.42 429.32 L428.66 428.74 L428.90 428.19 L429.14 427.64 L429.38 427.11 L429.62 426.59 L429.87 426.08 L430.11 425.59 L430.35 425.11 L430.59 424.64 L430.83 424.18 L431.07 423.73 L431.31 423.29 L431.56 422.87 L431.80 422.45 L432.04 422.05 L432.28 421.65 L432.52 421.26 L432.76 420.89 L433.00 420.52 L433.24 420.16 L433.49 419.80 L433.73 419.46 L433.97 419.13 L434.21 418.80 L434.45 418.48 L434.69 418.16 L434.93 417.86 L435.17 417.56 L435.42 417.27 L435.66 416.98 L435.90 416.70 L436.14 416.43 L436.38 416.17 L436.62 415.91 L436.86 415.65 L437.11 415.40 L437.35 415.16 L437.59 414.92 L437.83 414.69 L438.07 414.46 L438.31 414.24 L438.55 414.02 L438.79 413.81 L439.04 413.60 L439.28 413.40 L439.52 413.20 L439.76 413.01 L440.00 412.82 L440.24 412.63 L440.48 412.45 L440.72 412.27 L440.97 412.10 L441.21 411.93 L441.45 411.76 L441.69 411.60 L441.93 411.44 L442.17 411.28 L442.41 411.13 L442.66 410.98 L442.90 410.83 L443.14 410.69 L443.38 410.55 L443.62 410.41 L443.86 410.27 L444.10 410.14 L444.34 410.01 L444.59 409.89 L444.83 409.76 L445.07 409.64 L445.31 409.52 L445.55 409.41 L445.79 409.29 L446.03 409.18 L446.27 409.07 L446.52 408.97 L446.76 408.86 L447.00 408.76 L447.24 408.66 L447.48 408.56 L447.72 408.47 L447.96 408.37 L448.21 408.28 L448.45 408.19 L448.69 408.10 L448.93 408.02 L449.17 407.93 L449.41 407.85 L449.65 407.77 L449.89 407.69 L450.14 407.61 L450.38 407.53 L450.62 407.46 L450.86 407.38 L451.10 407.31 L451.34 407.24 L451.58 407.17 L451.83 407.10 L452.07 407.04 L452.31 406.97 L452.55 406.91 L452.79 406.85 L453.03 406.79 L453.27 406.73 L453.51 406.67 L453.76 406.61 L454.00 406.55 L454.24 406.50 L454.48 406.45 L454.72 406.39 L454.96 406.34 L455.20 406.29 L455.44 406.24 L455.69 406.19 L455.93 406.14 L456.17 406.10 L456.41 406.05 L456.65 406.01 L456.89 405.96 L457.13 405.92 L457.38 405.88 L457.62 405.84 L457.86 405.80 L458.10 405.76 L458.34 405.72 L458.58 405.68 L458.82 405.64 L459.06 405.61 L459.31 405.57 L459.55 405.54 L459.79 405.50 L460.03 405.47 L460.27 405.43 L460.51 405.40 L460.75 405.37 L460.99 405.34 L461.24 405.31 L461.48 405.28 L461.72 405.25 L461.96 405.22 L462.20 405.19 L462.44 405.17 L462.68 405.14 L462.93 405.11 L463.17 405.09 L463.41 405.06 L463.65 405.04 L463.89 405.02 L464.13 404.99 L464.37 404.97 L464.61 404.95 L464.86 404.92 L465.10 404.90 L465.34 404.88 L465.58 404.86 L465.82 404.84 L466.06 404.82 L466.30 404.80 L466.54 404.78 L466.79 404.77 L467.03 404.75 L467.27 404.73 L467.51 404.71 L467.75 404.70 L467.99 404.68 L468.23 404.66 L468.48 404.65 L468.72 404.63 L468.96 404.62 L469.20 404.60 L469.44 404.59 L469.68 404.57 L469.92 404.56 L470.16 404.55 L470.41 404.53 L470.65 404.52 L470.89 404.51 L471.13 404.50 L471.37 404.48 L471.61 404.47 L471.85 404.46 L472.10 404.45 L472.34 404.44 L472.58 404.43 L472.82 404.42 L473.06 404.41 L473.30 404.40 L473.54 404.39 L473.78 404.38 L474.03 404.37 L474.27 404.36 L474.51 404.35 L474.75 404.35 L474.99 404.34 L475.23 404.33 L475.47 404.32 L475.71 404.31 L475.96 404.31 L476.20 404.30 L476.44 404.29 L476.68 404.29 L476.92 404.28 L477.16 404.27 L477.40 404.27 L477.65 404.26 L477.89 404.26 L478.13 404.25 L478.37 404.25 L478.61 404.24 L478.85 404.24 L479.09 404.23 L479.33 404.23 L479.58 404.22 L479.82 404.22 L480.06 404.21 L480.30 404.21 L480.54 404.20 L480.78 404.20 L481.02 404.20 L481.26 404.19 L481.51 404.19 L481.75 404.19 L481.99 404.18 L482.23 404.18 L482.47 404.18 L482.71 404.17 L482.95 404.17 L483.20 404.17 L483.44 404.17 L483.68 404.17 L483.92 404.16 L484.16 404.16 L484.40 404.16 L484.64 404.16 L484.88 404.16 L485.13 404.15 L485.37 404.15 L485.61 404.15 L485.85 404.15 L486.09 404.15 L486.33 404.15 L486.57 404.15 L486.81 404.15 L487.06 404.14 L487.30 404.14 L487.54 404.14 L487.78 404.14 L488.02 404.14 L488.26 404.14 L488.50 404.14 L488.75 404.14 L488.99 404.14 L489.23 404.14 L489.47 404.14 L489.71 404.14 L489.95 404.14 L490.19 404.14 L490.43 404.14 L490.68 404.14 L490.92 404.14 L491.16 404.14 L491.40 404.14 L491.64 404.14 L491.88 404.14 L492.12 404.15 L492.37 404.15 L492.61 404.15 L492.85 404.15 L493.09 404.15 L493.33 404.15 L493.57 404.15 L493.81 404.15 L494.05 404.15 L494.30 404.15 L494.54 404.16 L494.78 404.16 L495.02 404.16 L495.26 404.16 L495.50 404.16 L495.74 404.16 L495.98 404.16 L496.23 404.17 L496.47 404.17 L496.71 404.17 L496.95 404.17 L497.19 404.17 L497.43 404.17 L497.67 404.18 L497.92 404.18 L498.16 404.18 L498.40 404.18 L498.64 404.18 L498.88 404.19 L499.12 404.19 L499.36 404.19 L499.60 404.19 L499.85 404.20 L500.09 404.20 L500.33 404.20 L500.57 404.20 L500.81 404.20 L501.05 404.21 L501.29 404.21 L501.53 404.21 L501.78 404.21 L502.02 404.22 L502.26 404.22 L502.50 404.22 L502.74 404.22 L502.98 404.23 L503.22 404.23 L503.47 404.23 L503.71 404.23 L503.95 404.24 L504.19 404.24 L504.43 404.24 L504.67 404.25 L504.91 404.25 L505.15 404.25 L505.40 404.25 L505.64 404.26 L505.88 404.26 L506.12 404.26 L506.36 404.26 L506.60 404.27 L506.84 404.27 L507.08 404.27 L507.33 404.28 L507.57 404.28 L507.81 404.28 L508.05 404.29 L508.29 404.29 L508.53 404.29 L508.77 404.29 L509.02 404.30 L509.26 404.30 L509.50 404.30 L509.74 404.31 L509.98 404.31 L510.22 404.31 L510.46 404.32 L510.70 404.32 L510.95 404.32 L511.19 404.33 L511.43 404.33 L511.67 404.33 L511.91 404.34 L512.15 404.34 L512.39 404.34 L512.64 404.35 L512.88 404.35 L513.12 404.35 L513.36 404.35 L513.60 404.36 L513.84 404.36 L514.08 404.36 L514.32 404.37 L514.57 404.37 L514.81 404.37 L515.05 404.38 L515.29 404.38 L515.53 404.38 L515.77 404.39 L516.01 404.39 L516.25 404.39 L516.50 404.40 L516.74 404.40 L516.98 404.40 L517.22 404.41 L517.46 404.41 L517.70 404.41 L517.94 404.42 L518.19 404.42 L518.43 404.43 L518.67 404.43 L518.91 404.43 L519.15 404.44 L519.39 404.44 L519.63 404.44 L519.87 404.45 L520.12 404.45 L520.36 404.45 L520.60 404.46 L520.84 404.46 L521.08 404.46 L521.32 404.47 L521.56 404.47 L521.80 404.47 L522.05 404.48 L522.29 404.48 L522.53 404.48 L522.77 404.49 L523.01 404.49 L523.25 404.49 L523.49 404.50 L523.74 404.50 L523.98 404.50 L524.22 404.51 L524.46 404.51 L524.70 404.51 L524.94 404.52 L525.18 404.52 L525.42 404.52 L525.67 404.53 L525.91 404.53 L526.15 404.53 L526.39 404.54 L526.63 404.54 L526.87 404.55 L527.11 404.55 L527.35 404.55 L527.60 404.56 L527.84 404.56 L528.08 404.56 L528.32 404.57 L528.56 404.57 L528.80 404.57 L529.04 404.58 L529.29 404.58 L529.53 404.58 L529.77 404.59 L530.01 404.59 L530.25 404.59 L530.49 404.60 L530.73 404.60 L530.97 404.60 L531.22 404.61 L531.46 404.61 L531.70 404.61 L531.94 404.62 L532.18 404.62 L532.42 404.62 L532.66 404.63 L532.91 404.63 L533.15 404.63 L533.39 404.64 L533.63 404.64 L533.87 404.64 L534.11 404.65 L534.35 404.65 L534.59 404.65 L534.84 404.66 L535.08 404.66 L535.32 404.66 L535.56 404.67 L535.80 404.67 L536.04 404.67 L536.28 404.68 L536.52 404.68 L536.77 404.68 L537.01 404.69 L537.25 404.69 L537.49 404.69 L537.73 404.70 L537.97 404.70 L538.21 404.70 L538.46 404.71 L538.70 404.71 L538.94 404.71 L539.18 404.72 L539.42 404.72 L539.66 404.72 L539.90 404.73 L540.14 404.73 L540.39 404.73 L540.63 404.74 L540.87 404.74 L541.11 404.74 L541.35 404.75 L541.59 404.75 L541.83 404.75 L542.07 404.76 L542.32 404.76 L542.56 404.76 L542.80 404.77 L543.04 404.77 L543.28 404.77 L543.52 404.78 L543.76 404.78 L544.01 404.78 L544.25 404.79 L544.49 404.79 L544.73 404.79 L544.97 404.80 L545.21 404.80 L545.45 404.80 L545.69 404.80 L545.94 404.81 L546.18 404.81 L546.42 404.81 L546.66 404.82 L546.90 404.82 L547.14 404.82 L547.38 404.83 L547.62 404.83 L547.87 404.83 L548.11 404.84 L548.35 404.84 L548.59 404.84 L548.83 404.85 L549.07 404.85 L549.31 404.85 L549.56 404.85 L549.80 404.86 L550.04 404.86 L550.28 404.86 L550.52 404.87 L550.76 404.87 L551.00 404.87 L551.24 404.88 L551.49 404.88 L551.73 404.88 L551.97 404.88 L552.21 404.89 L552.45 404.89 L552.69 404.89 L552.93 404.90 L553.18 404.90 L553.42 404.90 L553.66 404.91 L553.90 404.91 L554.14 404.91 L554.38 404.91 L554.62 404.92 L554.86 404.92 L555.11 404.92 L555.35 404.93 L555.59 404.93 L555.83 404.93 L556.07 404.94 L556.31 404.94 L556.55 404.94 L556.79 404.94 L557.04 404.95 L557.28 404.95 L557.52 404.95 L557.76 404.96 L558.00 404.96 L558.24 404.96 L558.48 404.96 L558.73 404.97 L558.97 404.97 L559.21 404.97 L559.45 404.98 L559.69 404.98 L559.93 404.98 L560.17 404.98 L560.41 404.99 L560.66 404.99 L560.90 404.99 L561.14 405.00 L561.38 405.00 L561.62 405.00 L561.86 405.00 L562.10 405.01 L562.34 405.01 L562.59 405.01 L562.83 405.01 L563.07 405.02 L563.31 405.02 L563.55 405.02 L563.79 405.03 L564.03 405.03 L564.28 405.03 L564.52 405.03 L564.76 405.04 L565.00 405.04 L565.24 405.04 L565.48 405.04 L565.72 405.05 L565.96 405.05 L566.21 405.05 L566.45 405.06 L566.69 405.06 L566.93 405.06 L567.17 405.06 L567.41 405.07 L567.65 405.07 L567.89 405.07 L568.14 405.07 L568.38 405.08 L568.62 405.08 L568.86 405.08 L569.10 405.08 L569.34 405.09 L569.58 405.09 L569.83 405.09 L570.07 405.09 L570.31 405.10 L570.55 405.10 L570.79 405.10 L571.03 405.11 L571.27 405.11 L571.51 405.11 L571.76 405.11 L572.00 405.12 L572.24 405.12 L572.48 405.12 L572.72 405.12 L572.96 405.13 L573.20 405.13 L573.45 405.13 L573.69 405.13 L573.93 405.14 L574.17 405.14 L574.41 405.14 L574.65 405.14 L574.89 405.15 L575.13 405.15 L575.38 405.15 L575.62 405.15 L575.86 405.16 L576.10 405.16 L576.34 405.16 L576.58 405.16 L576.82 405.16 L577.06 405.17 L577.31 405.17 L577.55 405.17 L577.79 405.17 L578.03 405.18 L578.27 405.18 L578.51 405.18 L578.75 405.18 L579.00 405.19 L579.24 405.19 L579.48 405.19 L579.72 405.19 L579.96 405.20 L580.20 405.20 L580.44 405.20 L580.68 405.20 L580.93 405.21 L581.17 405.21 L581.41 405.21 L581.65 405.21 L581.89 405.21 L582.13 405.22 L582.37 405.22 L582.61 405.22 L582.86 405.22 L583.10 405.23 L583.34 405.23 L583.58 405.23 L583.82 405.23 L584.06 405.24 L584.30 405.24 L584.55 405.24 L584.79 405.24 L585.03 405.24 L585.27 405.25 L585.51 405.25 L585.75 405.25 L585.99 405.25 L586.23 405.26 L586.48 405.26 L586.72 405.26 L586.96 405.26 L587.20 405.26 L587.44 405.27 L587.68 405.27 L587.92 405.27 L588.16 405.27 L588.41 405.28 L588.65 405.28 L588.89 405.28 L589.13 405.28 L589.37 405.28 L589.61 405.29 L589.85 405.29 L590.10 405.29 L590.34 405.29 L590.58 405.29 L590.82 405.30 L591.06 405.30 L591.30 405.30 L591.54 405.30 L591.78 405.31 L592.03 405.31 L592.27 405.31 L592.51 405.31 L592.75 405.31 L592.99 405.32 L593.23 405.32 L593.47 405.32 L593.72 405.32 L593.96 405.32 L594.20 405.33 L594.44 405.33 L594.68 405.33 L594.92 405.33 L595.16 405.33 L595.40 405.34 L595.65 405.34 L595.89 405.34 L596.13 405.34 L596.37 405.34 L596.61 405.35 L596.85 405.35 L597.09 405.35 L597.33 405.35 L597.58 405.35 L597.82 405.36 L598.06 405.36 L598.30 405.36 L598.54 405.36 L598.78 405.36 L599.02 405.37 L599.27 405.37 L599.51 405.37 L599.75 405.37 L599.99 405.37 L600.23 405.38 L600.47 405.38 L600.71 405.38 L600.95 405.38 L601.20 405.38 L601.44 405.39 L601.68 405.39 L601.92 405.39 L602.16 405.39 L602.40 405.39 L602.64 405.40 L602.88 405.40 L603.13 405.40 L603.37 405.40 L603.61 405.40 L603.85 405.41" stroke="#000" stroke-width="0.55" stroke-dasharray="6.0 1.6"/>
</g>
<circle cx="383.50" cy="374.73" r="3.4" fill="#008000"/>
<circle cx="386.25" cy="374.22" r="3.4" fill="#008000"/>
<circle cx="389.01" cy="373.72" r="3.4" fill="#008000"/>
<circle cx="391.76" cy="373.21" r="3.4" fill="#008000"/>
<circle cx="394.52" cy="372.70" r="3.4" fill="#008000"/>
<circle cx="397.27" cy="372.44" r="3.4" fill="#008000"/>
<circle cx="401.86" cy="373.33" r="3.4" fill="#008000"/>
<circle cx="411.04" cy="376.13" r="3.4" fill="#008000"/>
<circle cx="438.59" cy="388.55" r="3.4" fill="#008000"/>
<circle cx="452.36" cy="394.07" r="3.4" fill="#008000"/>
<circle cx="462.20" cy="396.36" r="3.4" fill="#008000"/>
<circle cx="475.31" cy="399.31" r="3.4" fill="#008000"/>
<circle cx="493.68" cy="401.44" r="3.4" fill="#008000"/>
<g font-family="Liberation Serif, serif" font-size="14.5" fill="#1c1c1c">
<text x="383.50" y="437.95" text-anchor="middle">0</text>
<text x="438.59" y="437.95" text-anchor="middle">1</text>
<text x="493.68" y="437.95" text-anchor="middle">2</text>
<text x="548.76" y="437.95" text-anchor="middle">3</text>
<text x="603.85" y="437.95" text-anchor="middle">4</text>
<text x="374.70" y="411.43" text-anchor="end">1.0</text>
<text x="374.70" y="385.99" text-anchor="end">1.2</text>
<text x="374.70" y="360.55" text-anchor="end">1.4</text>
<text x="374.70" y="335.12" text-anchor="end">1.6</text>
<text x="374.70" y="309.68" text-anchor="end">1.8</text>
<text x="374.70" y="284.24" text-anchor="end">2.0</text>
<text x="374.70" y="258.80" text-anchor="end">2.2</text>
</g>
<g font-family="Liberation Serif, serif" fill="#1c1c1c"><path d="M151.20 218.15L160.40 218.15" stroke="#1c1c1c" stroke-width="0.95" fill="none"/><text transform="translate(162.72 222.60) scale(0.837 1)" font-size="18.60">(</text><text transform="translate(168.20 222.60) scale(1.088 1)" font-size="17.00" font-style="italic">a</text><text transform="translate(176.89 225.20) scale(1.124 1)" font-size="11.80" font-style="italic">s</text><text transform="translate(183.21 222.60) scale(1.095 1)" font-size="17.00" font-style="italic">k</text><text transform="translate(192.27 225.20) scale(1.167 1)" font-size="11.80" font-style="italic">F</text><text transform="translate(201.90 222.60) scale(0.837 1)" font-size="18.60">)</text></g>
<g font-family="Liberation Serif, serif" fill="#1c1c1c"><path d="M458.10 218.15L467.30 218.15" stroke="#1c1c1c" stroke-width="0.95" fill="none"/><text transform="translate(469.62 222.60) scale(0.837 1)" font-size="18.60">(</text><text transform="translate(475.10 222.60) scale(1.088 1)" font-size="17.00" font-style="italic">a</text><text transform="translate(483.79 225.20) scale(1.124 1)" font-size="11.80" font-style="italic">s</text><text transform="translate(490.11 222.60) scale(1.095 1)" font-size="17.00" font-style="italic">k</text><text transform="translate(499.17 225.20) scale(1.167 1)" font-size="11.80" font-style="italic">F</text><text transform="translate(508.80 222.60) scale(0.837 1)" font-size="18.60">)</text><path d="M515.90 213.70L522.30 213.70" stroke="#1c1c1c" stroke-width="0.85" fill="none"/><text transform="translate(523.40 216.70) scale(1.000 1)" font-size="10.20">1</text></g>
<g font-family="Liberation Serif, serif" fill="#1c1c1c"><path d="M151.20 454.45L160.40 454.45" stroke="#1c1c1c" stroke-width="0.95" fill="none"/><text transform="translate(162.72 458.90) scale(0.837 1)" font-size="18.60">(</text><text transform="translate(168.20 458.90) scale(1.088 1)" font-size="17.00" font-style="italic">a</text><text transform="translate(176.89 461.50) scale(1.124 1)" font-size="11.80" font-style="italic">s</text><text transform="translate(183.21 458.90) scale(1.095 1)" font-size="17.00" font-style="italic">k</text><text transform="translate(192.27 461.50) scale(1.167 1)" font-size="11.80" font-style="italic">F</text><text transform="translate(201.90 458.90) scale(0.837 1)" font-size="18.60">)</text></g>
<g font-family="Liberation Serif, serif" fill="#1c1c1c"><path d="M458.10 454.45L467.30 454.45" stroke="#1c1c1c" stroke-width="0.95" fill="none"/><text transform="translate(469.62 458.90) scale(0.837 1)" font-size="18.60">(</text><text transform="translate(475.10 458.90) scale(1.088 1)" font-size="17.00" font-style="italic">a</text><text transform="translate(483.79 461.50) scale(1.124 1)" font-size="11.80" font-style="italic">s</text><text transform="translate(490.11 458.90) scale(1.095 1)" font-size="17.00" font-style="italic">k</text><text transform="translate(499.17 461.50) scale(1.167 1)" font-size="11.80" font-style="italic">F</text><text transform="translate(508.80 458.90) scale(0.837 1)" font-size="18.60">)</text><path d="M515.90 450.00L522.30 450.00" stroke="#1c1c1c" stroke-width="0.85" fill="none"/><text transform="translate(523.40 453.00) scale(1.000 1)" font-size="10.20">1</text></g>
<g transform="translate(28.20 123.00) rotate(-90)" font-family="Liberation Serif, serif" fill="#1c1c1c"><text transform="translate(0.02 0.00) scale(1.039 1)" font-size="17.00" font-style="italic">μ</text><path d="M7.90 4.20L16.80 -11.80" stroke="#1c1c1c" stroke-width="0.90" fill="none"/><text transform="translate(17.72 0.00) scale(1.039 1)" font-size="17.00" font-style="italic">μ</text><text transform="translate(27.16 3.10) scale(0.974 1)" font-size="12.00" font-style="italic">F</text><text transform="translate(34.03 3.10) scale(1.317 1)" font-size="12.00" font-style="italic">G</text></g>
<g transform="translate(343.20 123.00) rotate(-90)" font-family="Liberation Serif, serif" fill="#1c1c1c"><text transform="translate(0.02 0.00) scale(1.039 1)" font-size="17.00" font-style="italic">μ</text><path d="M7.90 4.20L16.80 -11.80" stroke="#1c1c1c" stroke-width="0.90" fill="none"/><text transform="translate(17.72 0.00) scale(1.039 1)" font-size="17.00" font-style="italic">μ</text><text transform="translate(27.16 3.10) scale(0.974 1)" font-size="12.00" font-style="italic">F</text><text transform="translate(34.03 3.10) scale(1.317 1)" font-size="12.00" font-style="italic">G</text></g>
<g transform="translate(28.80 357.60) rotate(-90)" font-family="Liberation Serif, serif" fill="#1c1c1c"><text transform="translate(-0.72 0.00) scale(1.178 1)" font-size="17.00" font-style="italic">m</text><polygon points="15.70,-11.70 16.34,-9.98 18.17,-9.90 16.74,-8.76 17.23,-7.00 15.70,-8.01 14.17,-7.00 14.66,-8.76 13.23,-9.90 15.06,-9.98" fill="#1c1c1c"/><path d="M19.30 4.20L28.70 -11.80" stroke="#1c1c1c" stroke-width="0.90" fill="none"/><text transform="translate(28.98 0.00) scale(1.178 1)" font-size="17.00" font-style="italic">m</text></g>
<g transform="translate(343.80 357.60) rotate(-90)" font-family="Liberation Serif, serif" fill="#1c1c1c"><text transform="translate(-0.72 0.00) scale(1.178 1)" font-size="17.00" font-style="italic">m</text><polygon points="15.70,-11.70 16.34,-9.98 18.17,-9.90 16.74,-8.76 17.23,-7.00 15.70,-8.01 14.17,-7.00 14.66,-8.76 13.23,-9.90 15.06,-9.98" fill="#1c1c1c"/><path d="M19.30 4.20L28.70 -11.80" stroke="#1c1c1c" stroke-width="0.90" fill="none"/><text transform="translate(28.98 0.00) scale(1.178 1)" font-size="17.00" font-style="italic">m</text></g>
<g font-family="Liberation Serif, serif" fill="#1c1c1c"><text transform="translate(251.08 46.95) scale(1.000 1)" font-size="18.60">(</text><text transform="translate(256.95 46.95) scale(1.000 1)" font-size="17.00">a</text><text transform="translate(265.02 46.95) scale(1.000 1)" font-size="18.60">)</text></g>
<g font-family="Liberation Serif, serif" fill="#1c1c1c"><text transform="translate(400.18 46.80) scale(1.000 1)" font-size="18.60">(</text><text transform="translate(407.70 46.80) scale(1.000 1)" font-size="17.00">b</text><text transform="translate(415.12 46.80) scale(1.000 1)" font-size="18.60">)</text></g>
<g font-family="Liberation Serif, serif" fill="#1c1c1c"><text transform="translate(247.68 394.90) scale(1.000 1)" font-size="18.60">(</text><text transform="translate(253.15 394.90) scale(1.000 1)" font-size="17.00">c</text><text transform="translate(261.12 394.90) scale(1.000 1)" font-size="18.60">)</text></g>
<g font-family="Liberation Serif, serif" fill="#1c1c1c"><text transform="translate(561.68 291.50) scale(1.000 1)" font-size="18.60">(</text><text transform="translate(567.29 291.50) scale(1.000 1)" font-size="17.00">d</text><text transform="translate(576.32 291.50) scale(1.000 1)" font-size="18.60">)</text></g>
<path d="M445.6 167.6H477.5" stroke="#ff0000" stroke-width="2"/>
<text x="485.6" y="173" font-family="Liberation Serif, serif" font-size="16.6" fill="#1c1c1c" textLength="29.2" lengthAdjust="spacingAndGlyphs">GEI</text>
<path d="M525 167.6H556.5" stroke="#0000ff" stroke-width="2" stroke-dasharray="14 3.5"/>
<text x="565.6" y="173" font-family="Liberation Serif, serif" font-size="16.6" fill="#1c1c1c">AEI</text>
</svg>
</body></html>
